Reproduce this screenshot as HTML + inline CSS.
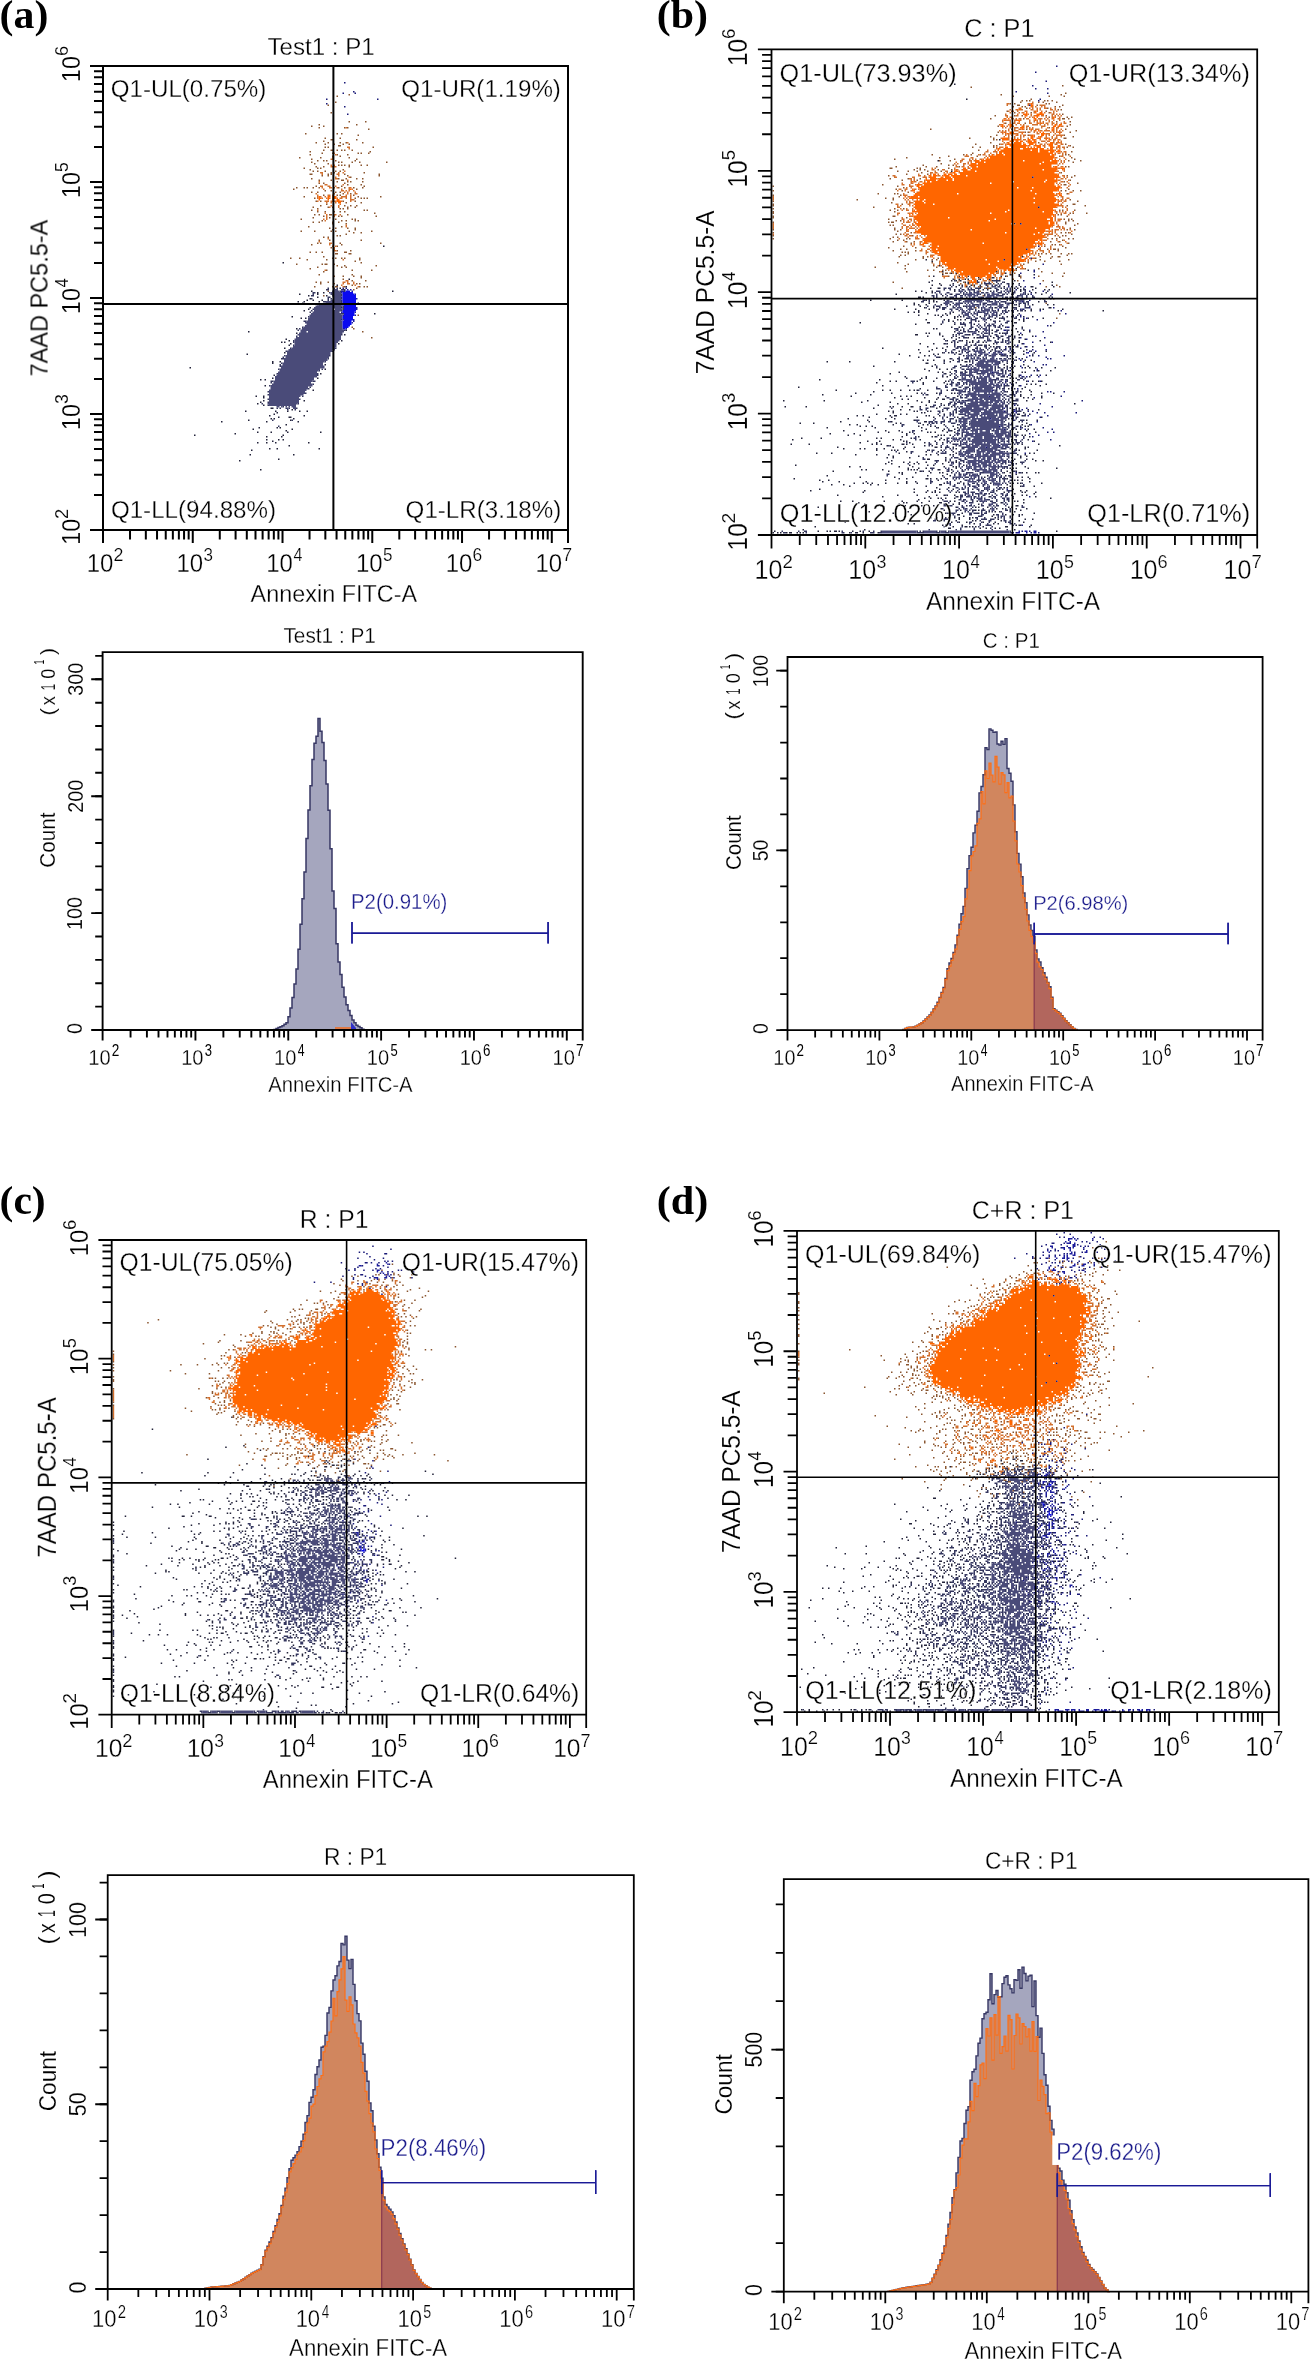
<!DOCTYPE html><html><head><meta charset="utf-8"><style>html,body{margin:0;padding:0;background:#fff;}svg{display:block}</style></head><body>
<svg width="1314" height="2361" viewBox="0 0 1314 2361">
<rect width="1314" height="2361" fill="#fff"/>
<g transform="translate(104.00 67.00) scale(1.5) translate(0 .5)" fill="none" stroke-width="1"><path d="M163 18h1m-9 1h1m-2 4h1m-6 2h1m1 5h1m11 6h1m10 0h1m-32 2h1m24 0h1m-31 1h1m7 0h1m-4 1h1m16 0h1m1 0h1m13 1h1m-43 3h1m20 0h1m2 0h1m10 1h1m-23 2h1m9 0h1m-7 1h2m15 0h1m-23 1h1m-6 1h1m7 0h1m7 0h1m3 0h1m10 0h1m-26 1h1m5 0h1m5 0h1m3 0h1m-8 1h2m-11 1h1m1 0h1m29 0h1m-34 2h1m4 0h2m2 0h1m2 0h1m1 0h1m4 0h1m-29 1h1m39 0h1m-33 1h1m6 0h1m16 0h1m1 0h1m4 0h1m-40 1h1m17 0h1m6 0h1m-11 1h1m4 0h1m-28 1h1m13 0h1m18 0h1m-26 1h1m29 0h1m-27 1h1m3 0h1m1 0h1m5 0h1m12 0h1m-30 1h1m17 0h1m1 0h1m6 0h1m4 0h1m17 0h1m-49 1h1m8 0h1m6 1h1m1 0h1m1 0h1m2 0h1m7 0h1m3 0h1m-35 1h1m4 0h1m16 0h1m-31 1h1m8 0h1m1 0h1m-8 1h1m21 0h1m-21 1h1m2 0h1m4 0h1m6 0h1m2 0h1m-7 1h1m1 0h1m19 0h1m-37 1h2m10 0h1m1 0h1m8 0h1m22 0h1m-39 1h1m3 0h1m12 0h1m20 0h1m-20 1h1m-27 1h1m17 0h1m4 0h1m6 0h1m3 0h1m-30 1h1m7 0h1m6 0h2m-5 1h1m6 0h1m1 0h1m7 0h1m-30 1h1m2 0h1m13 0h1m1 1h1m8 0h1m-31 1h1m16 0h1m14 0h1m-46 1h1m4 0h1m1 0h1m3 0h1m3 0h1m9 0h1m2 0h1m3 0h1m5 0h1m5 0h1m-47 1h1m41 0h1m-22 1h1m3 0h1m-14 1h1m3 0h1m11 0h1m2 0h1m1 1h1m4 0h1m-19 1h1m8 0h1m1 0h1m8 0h1m-34 1h1m35 0h1m14 0h1m-45 1h1m26 0h1m3 0h1m1 0h1m1 0h1m-35 2h1m2 0h1m14 0h1m7 0h1m-7 1h1m9 0h1m-24 1h1m-5 1h1m15 0h1m3 0h1m3 0h1m-30 1h1m9 0h1m2 0h1m9 0h1m4 0h1m-26 1h1m14 0h1m1 0h1m2 0h1m-25 1h1m34 0h1m1 0h1m-34 1h1m4 0h1m5 0h1m3 0h1m2 0h1m19 1h1m-41 1h1m2 0h1m6 0h2m10 0h1m-17 1h1m9 0h1m1 0h1m22 0h1m-43 1h1m10 0h1m-20 1h1m22 0h1m10 0h1m1 0h1m-23 1h1m12 0h1m2 0h1m5 0h1m1 0h1m-31 1h1m3 0h1m8 0h1m3 0h1m-5 1h1m8 0h1m-26 2h1m21 0h1m-9 1h1m3 0h1m7 0h1m4 0h1m-16 1h1m14 0h1m-37 1h1m8 0h1m10 0h1m2 0h1m8 0h1m14 0h1m-13 1h1m4 0h1m-11 1h1m-7 1h1m1 0h1m-12 1h1m2 0h1m-7 2h1m6 0h1m20 0h1m-30 2h1m1 0h1m12 0h1m26 0h1m-47 1h1m19 0h1m-4 1h1m-5 1h1m3 2h1m8 0h1m-28 1h1m3 0h1m3 0h1m14 0h2m-8 1h2m7 0h2m-19 2h1m-23 1h1m5 0h1m21 0h1m1 0h1m3 0h1m1 0h1m9 0h1m-36 1h1m12 0h1m21 0h1m-4 1h1m3 1h1m-44 1h1m16 0h1m1 0h2m4 0h1m1 1h1m4 0h1m20 0h1m-40 1h1m15 0h1m2 0h1m-25 1h1m10 1h1m16 0h1m12 0h1m-33 1h1m-4 2h1m21 0h1m-13 1h1m5 0h1m6 0h1m4 0h1m-1 1h1m-13 1h1m5 1h1m8 0h1m-34 1h1m2 0h1m4 0h1m-6 1h1m8 0h1m14 0h1m1 0h1m-6 1h1m-26 1h1m11 0h1m1 0h2m4 0h1m9 0h1m2 0h1m1 0h1m-8 1h1m-3 1h1m-18 1h1m-4 3h1m22 13h1m-5 8h1m0 1h1m5 2h1m5 4h1" stroke="#8a5630"/>
<path d="M161 40h1m0 10h1m-1 3h2m-1 1h1m-11 3h1m0 1h1m-3 2h1m-2 1h2m-2 4h1m1 0h1m-3 1h4m5 3h1m-17 1h2m10 0h1m2 0h1m-15 1h1m9 0h2m-1 1h1m-3 1h1m8 0h1m-10 1h2m6 1h1m-20 1h1m3 2h2m10 0h1m-16 1h2m3 0h2m3 0h1m-10 1h1m4 0h2m3 0h1m7 0h2m-19 1h1m11 0h1m4 0h1m1 0h1m-8 1h2m1 0h1m1 0h1m2 0h1m-7 1h1m1 0h1m4 0h1m-27 1h1m11 0h1m8 0h1m4 0h2m-27 1h1m6 0h2m1 0h1m8 0h1m2 0h1m-23 1h1m1 0h1m2 0h1m4 0h1m5 0h4m2 0h1m-23 1h1m2 0h1m2 0h1m1 0h1m1 0h1m2 0h1m1 0h2m2 0h1m2 0h1m-1 1h3m-25 1h1m4 0h3m1 0h4m3 0h1m5 0h1m-17 1h1m2 0h1m2 0h1m2 1h1m-7 1h1m4 0h1m-7 1h1m5 0h1m-15 2h1m4 2h1m0 1h1m4 0h2m2 0h1m-10 1h1m4 0h1m-6 1h1m-3 1h1m1 0h1m-2 1h1m13 3h1m-1 1h1m-13 8h1m-7 2h1m6 1h2m-2 1h1m1 1h1m1 0h1m-2 1h1m-1 1h1m-1 1h2m4 6h1m-13 7h1m13 7h2m-4 1h2m1 0h1m3 0h1m-8 1h1m2 0h2m2 0h1m-9 1h1m8 0h1m-9 1h1m9 0h1" stroke="#d2702e"/>
<path d="M164 81h1m-22 5h1m5 0h2m2 0h2m-12 1h2m4 0h1m3 0h2m-12 1h1m5 0h1m2 0h1m2 0h2m-2 1h3m-2 1h2" stroke="#ff6600"/>
<path d="M186 119h1m-68 11h1m43 11h1m-9 4h1m5 1h1m-5 1h1m-20 2h1m53 0h1m-51 1h1m3 0h1m-17 1h1m11 0h1m-7 1h1m11 0h1m-7 1h1m-6 1h1m-3 1h1m3 0h1m5 0h1m-17 1h1m3 0h1m9 0h1m-12 1h1m4 3h1m-2 1h1m-4 1h1m46 2h1m-56 2h1m5 1h1m2 0h1m-7 7h1m32 1h1m-66 1h1m31 1h1m31 1h1m-40 3h1m1 1h1m34 0h1m-41 1h1m1 0h1m3 1h1m31 0h1m-34 1h1m-4 2h1m-1 3h1m-26 1h1m16 5h1m4 0h1m-6 1h1m34 1h1m-91 2h1m89 1h1m-4 3h1m-32 1h1m-2 2h1m29 0h1m-39 1h1m2 0h1m-1 4h1m31 3h1m-39 4h1m4 0h1m-1 1h1m-1 2h1m26 0h1m-30 1h1m-3 1h1m3 1h1m4 2h2m12 1h1m-32 1h1m19 0h1m7 0h1m7 0h1m4 0h1m-21 1h1m-3 1h1m-4 1h1m22 0h1m-18 1h1m6 0h2m-14 1h1m1 0h1m12 0h1m-31 1h1m27 0h1m-47 1h1m29 0h1m20 0h1m-9 2h1m-19 2h1m11 0h1m1 0h1m-19 1h1m25 0h1m-5 1h1m-20 1h1m8 0h1m10 0h1m21 0h1m-58 1h1m-28 1h1m58 0h1m-12 1h1m9 0h1m-11 2h1m7 0h1m2 0h1m-8 1h1m-11 1h1m5 0h1m5 0h1m21 0h1m-14 2h1m-14 2h1m4 0h1m27 0h1m-46 1h1m-2 3h1m28 0h1m-11 3h1m-27 1h1m13 6h1m-45 21h1" stroke="#23233a"/>
<path d="M149 147h1m3 0h1m1 0h1m-8 1h2m8 0h3m-4 1h1m2 0h1m-22 1h2m9 0h1m-12 1h1m18 0h1m-21 1h2m18 0h1m-10 1h2m-13 1h1m10 0h1m1 0h1m6 0h1m-10 1h1m-4 1h2m10 0h1m-1 1h1m-17 1h1m16 1h1m-1 1h1m-21 1h1m19 0h1m-22 1h1m19 0h1m-22 1h1m20 1h2m-24 2h1m22 2h1m-27 1h2m-3 4h1m-3 1h1m-2 1h1m30 0h1m-3 3h1m-31 1h1m-3 3h1m-1 1h1m-1 2h1m-3 2h1m29 0h1m-34 2h1m30 0h1m-33 3h1m29 0h1m-32 1h1m-2 1h2m29 0h1m-3 2h1m-30 1h1m-2 1h1m-1 1h1m-2 2h1m28 0h1m-3 1h1m-29 2h1m26 0h1m-1 1h1m-32 4h2m26 0h2m-30 1h1m27 1h1m-30 1h1m26 1h1m-2 1h1m-28 2h1m24 1h1m-26 1h1m22 1h1m-24 2h1m20 0h1m-22 2h1m-5 1h1m23 0h1m-21 1h1m9 1h1m-5 1h1m1 0h1m3 0h1m1 0h1m4 0h1m-7 1h1m4 0h1m-16 7h1m12 0h1m-10 4h1" stroke="#34365e"/>
<path d="M153 148h3m-4 1h5m-6 1h7m-7 1h7m-6 1h6m-5 1h5m-5 1h5m-7 1h7m-10 1h10m-11 1h11m-15 1h15m-17 1h18m-19 1h18m-18 1h13m1 0h5m-19 1h18m-19 1h18m-19 1h20m-21 1h22m-22 1h22m-23 1h23m-23 1h22m-23 1h24m-25 1h25m-24 1h24m-25 1h25m-26 1h26m-27 1h27m-28 1h29m-29 1h4m1 0h24m-30 1h29m-30 1h29m-28 1h28m-30 1h30m-31 1h31m-31 1h30m-30 1h29m-29 1h28m-28 1h28m-29 1h29m-30 1h29m-31 1h31m-32 1h30m-30 1h29m-29 1h29m-30 1h29m-29 1h29m-30 1h29m-29 1h29m-29 1h27m-28 1h27m-27 1h27m-28 1h29m-29 1h29m-30 1h27m-27 1h26m-27 1h26m-26 1h26m-27 1h27m-28 1h28m-28 1h26m-26 1h26m-27 1h26m-26 1h25m-26 1h27m-28 1h28m-28 1h25m-25 1h25m-26 1h25m-25 1h24m-24 1h24m-24 1h23m-23 1h21m-21 1h20m-20 1h20m-20 1h20m-20 1h20m-21 1h20m-19 1h18m-13 1h2m1 0h1m2 0h1m1 0h1m1 0h3m-6 1h1m3 0h2" stroke="#4a4b79"/>
<path d="M160 10h1m5 6h1m-8 1h1m7 0h1m-20 4h1m33 0h1m-35 3h1m11 2h1m1 5h1m-4 116h1m1 0h1m7 10h1m-12 3h1" stroke="#1a1a78"/>
<path d="M162 148h1m1 0h1m-7 1h2m5 0h1m-8 1h1m8 1h1m-10 2h1m9 1h1m-11 1h1m-1 3h1m9 2h1m-1 1h1m-11 2h1m8 0h1m-9 2h1m7 0h1m-10 3h1m7 0h1m-1 1h1m-2 1h1m-7 4h1m1 0h1" stroke="#1c1c9c"/>
<path d="M161 149h3m-5 1h7m-7 1h8m-8 1h9m-9 1h9m-9 1h9m-9 1h9m-9 1h9m-9 1h9m-9 1h9m-8 1h8m-8 1h8m-8 1h8m-9 1h9m-9 1h8m-7 1h7m-7 1h7m-8 1h7m-7 1h7m-6 1h6m-7 1h6m-6 1h6m-6 1h6m-6 1h5m-5 1h4m-3 1h1" stroke="#0a0af0"/></g>
<path d="M274.0 1030.0V1029.5H276.0V1028.5H278.0V1027.5H280.0V1026.7H282.0V1025.8H284.0V1024.3H286.0V1022.7H288.0V1016.7H290.0V1008.0H292.0V997.6H294.0V984.0H296.0V969.0H298.0V949.3H300.0V924.2H302.0V898.7H304.0V872.0H306.0V838.5H308.0V810.1H310.0V785.8H312.0V759.5H314.0V743.2H316.0V736.3H318.0V718.6H320.0V731.3H322.0V742.4H324.0V760.6H326.0V783.9H328.0V810.3H330.0V848.8H332.0V890.9H334.0V908.5H336.0V943.8H338.0V962.0H340.0V974.6H342.0V987.2H344.0V997.0H346.0V1004.7H348.0V1010.4H350.0V1015.5H352.0V1020.0H354.0V1022.8H356.0V1025.2H358.0V1026.4H360.0V1027.7H362.0V1029.2H364.0V1030.0Z" fill="#a5a6be"/>
<path d="M274.0 1030.0V1029.5H276.0V1028.5H278.0V1027.5H280.0V1026.7H282.0V1025.8H284.0V1024.3H286.0V1022.7H288.0V1016.7H290.0V1008.0H292.0V997.6H294.0V984.0H296.0V969.0H298.0V949.3H300.0V924.2H302.0V898.7H304.0V872.0H306.0V838.5H308.0V810.1H310.0V785.8H312.0V759.5H314.0V743.2H316.0V736.3H318.0V718.6H320.0V731.3H322.0V742.4H324.0V760.6H326.0V783.9H328.0V810.3H330.0V848.8H332.0V890.9H334.0V908.5H336.0V943.8H338.0V962.0H340.0V974.6H342.0V987.2H344.0V997.0H346.0V1004.7H348.0V1010.4H350.0V1015.5H352.0V1020.0H354.0V1022.8H356.0V1025.2H358.0V1026.4H360.0V1027.7H362.0V1029.2H364.0V1030.0" fill="none" stroke="#373764" stroke-width="1.5"/>
<path d="M335 1030.0V1027.0H351V1030.0Z" fill="#e07a45"/>
<path d="M351 1030.0V1022.0L356 1028.0V1030.0Z" fill="#3030c8"/>
<g transform="translate(772.50 50.40) scale(1.5) translate(0 .5)" fill="none" stroke-width="1"><path d="M121 22h1m7 10h1m21 27h1m-42 14h1m8 7h1m41 35h1m4 22h1m-65 2h1m3 1h1m4 3h1m50 2h1m7 1h1m-58 1h1m35 0h1m-31 1h1m2 0h1m32 0h1m-43 1h1m44 0h1m5 0h1m9 0h1m-68 1h1m16 0h1m5 0h1m21 0h1m2 0h1m8 0h1m-28 1h1m8 0h2m-24 1h1m3 0h1m1 0h1m7 0h1m5 0h1m9 0h1m-49 1h1m12 0h1m2 0h1m2 0h1m20 0h1m4 0h1m9 0h1m-58 1h1m23 0h1m1 0h1m23 0h1m31 0h1m-76 1h1m8 0h1m9 0h1m29 0h1m3 0h1m-59 1h1m5 0h1m5 0h1m5 0h1m1 0h1m5 0h1m1 0h1m3 0h1m47 0h1m-65 1h1m6 0h1m24 0h1m4 0h1m5 0h1m6 0h2m13 0h1m-83 1h1m4 0h2m33 0h1m6 0h1m8 0h1m1 0h1m11 0h1m-55 1h1m18 0h1m2 0h1m21 0h1m7 0h1m7 0h1m2 0h1m-90 1h1m3 0h1m6 0h1m14 0h1m23 0h1m19 0h1m-64 1h1m3 0h1m65 0h1m2 0h1m6 0h1m15 0h1m-117 1h1m36 0h1m50 0h1m8 0h1m-67 1h1m-17 1h2m1 0h1m14 0h1m-12 1h1m7 0h1m65 0h1m1 0h1m-116 1h1m20 0h1m15 0h1m4 0h1m6 0h1m43 0h1m-52 1h1m1 0h1m67 0h1m-84 1h1m9 0h1m-11 1h1m2 0h1m4 0h1m9 0h1m5 0h1m43 0h1m10 0h1m9 0h1m3 0h1m-99 1h1m8 0h1m28 0h1m36 0h1m-64 1h1m5 0h1m40 0h1m35 0h2m-105 1h1m13 0h1m8 0h1m67 0h1m5 0h1m1 0h1m12 0h1m-97 1h1m52 0h1m6 0h1m5 0h1m4 0h1m3 0h1m17 0h1m29 0h1m-131 1h1m3 0h1m2 0h1m22 0h1m-18 1h1m11 0h1m2 0h1m45 0h1m-68 1h1m10 0h1m1 0h1m2 0h1m2 0h1m34 0h1m-40 1h1m8 0h1m1 0h1m1 0h1m12 0h1m17 0h1m10 0h1m5 0h1m-53 1h1m26 0h1m2 0h1m18 0h1m9 0h1m-79 1h1m11 0h1m2 0h1m5 0h1m1 0h1m2 0h1m16 0h1m18 0h1m2 0h1m-51 1h1m2 0h1m16 0h1m13 0h1m7 0h1m7 0h1m-110 1h1m44 0h2m56 0h2m-68 1h1m16 0h1m8 0h1m12 0h1m18 1h1m6 0h1m24 0h1m-67 1h1m4 0h1m1 0h1m28 0h1m10 0h1m-60 1h1m1 0h1m42 0h1m9 0h1m-38 1h1m20 0h1m12 0h1m7 0h1m-47 1h1m15 0h1m25 0h1m7 0h1m-70 1h1m1 0h1m6 0h1m34 0h1m4 0h1m1 0h1m-59 1h2m14 0h1m8 0h1m10 0h1m27 0h1m4 0h1m1 0h1m-64 1h1m9 0h1m8 0h1m22 0h1m7 0h1m7 0h1m11 0h1m-55 1h1m4 0h1m5 0h1m3 0h1m1 0h1m10 0h1m16 0h1m-51 1h1m7 0h1m30 0h1m6 0h1m7 0h1m-53 1h1m9 0h1m2 0h1m3 0h1m30 0h1m13 0h1m-60 1h1m3 0h1m7 0h1m1 0h1m6 0h1m23 0h1m20 0h1m-88 1h1m8 0h1m6 0h1m1 0h1m30 0h1m18 0h1m-35 1h1m6 0h1m4 0h1m-42 1h1m12 0h1m30 0h1m9 0h2m1 0h1m2 0h1m4 0h1m4 0h1m-101 1h1m35 0h1m3 0h1m41 0h1m-59 1h1m8 0h1m8 0h1m30 0h1m22 0h1m-66 1h1m19 0h1m20 0h1m21 0h1m4 0h1m9 0h1m-85 1h1m14 0h1m3 0h1m4 0h1m51 0h1m-91 1h1m22 0h1m2 0h1m13 0h1m42 0h1m-77 1h1m9 0h1m2 0h1m22 0h1m30 0h1m14 0h1m-77 1h1m13 0h1m50 0h1m-45 1h1m39 0h1m1 0h1m5 0h1m-67 1h1m2 0h1m3 0h1m6 0h1m5 0h1m5 0h1m35 0h1m5 0h1m3 0h1m-137 1h1m14 0h1m29 0h1m36 0h1m9 0h2m1 0h1m-30 1h2m10 0h1m41 0h1m-49 1h1m16 0h1m28 0h1m4 0h1m7 0h1m-101 1h1m38 0h1m49 0h1m4 0h1m8 0h1m-62 1h1m44 0h1m3 0h1m9 0h1m2 0h1m3 0h1m3 0h1m8 0h1m-88 1h1m9 0h1m4 0h1m2 0h1m-16 1h1m52 0h1m16 0h1m2 0h1m7 0h1m-102 1h1m25 0h1m2 0h1m4 0h1m41 0h1m5 0h1m1 0h1m-91 1h1m36 0h1m42 0h1m-41 1h1m45 0h1m11 0h1m5 0h1m-95 1h1m13 0h1m10 0h1m2 0h1m39 0h1m14 0h1m-83 1h1m9 0h1m2 0h1m6 0h1m48 0h1m1 0h1m1 0h1m-132 1h1m39 0h1m26 0h1m25 0h1m-47 1h1m3 0h1m13 0h1m10 0h1m7 0h1m1 0h1m42 0h1m8 0h1m3 0h1m3 0h1m1 0h1m-111 1h1m30 0h1m13 0h1m43 0h1m3 0h1m-63 1h1m15 0h1m43 0h1m8 0h1m2 0h1m2 0h1m6 0h1m-110 1h1m16 0h1m69 0h1m3 0h1m13 0h1m-162 1h1m150 0h1m-71 1h1m58 0h1m1 0h1m1 0h1m4 0h1m-125 1h1m30 0h1m4 0h1m6 0h1m5 0h1m2 0h1m1 0h1m6 0h1m12 0h1m54 0h1m-105 1h1m88 0h1m8 0h1m6 0h1m-118 1h1m23 0h1m16 0h1m2 0h1m9 0h1m9 0h1m1 0h1m57 0h1m7 0h1m-155 1h1m31 0h1m37 0h1m61 0h1m6 0h1m-121 1h1m32 0h1m3 0h1m2 0h1m22 0h1m7 0h1m41 0h1m13 0h1m-99 1h1m19 0h1m8 0h1m48 0h1m7 0h1m2 0h1m8 0h1m-94 1h1m3 0h1m18 0h1m3 0h2m58 0h1m-167 1h1m26 0h1m28 0h1m32 0h1m7 0h1m55 0h1m8 0h1m-111 1h1m18 0h1m20 0h1m4 0h1m3 0h1m-26 1h1m6 0h1m21 0h1m47 0h1m40 0h1m-132 1h1m31 0h1m11 0h1m48 0h1m-156 1h1m13 0h1m55 0h1m1 0h1m5 0h1m5 0h2m4 0h1m6 0h1m5 0h1m7 0h1m-53 1h1m41 0h1m48 0h1m3 0h1m1 0h1m-80 1h1m5 0h1m68 0h1m9 0h1m6 0h1m-101 1h1m2 0h1m13 0h1m1 0h1m6 0h1m1 0h1m7 0h1m-34 1h1m18 0h1m1 0h1m20 0h1m44 0h1m-99 1h1m15 0h1m3 0h1m24 0h1m48 0h2m6 0h1m-116 1h1m3 0h1m17 0h1m2 0h2m19 0h1m1 0h1m6 0h1m54 0h1m-103 1h1m14 0h1m16 0h1m10 0h1m8 0h1m6 0h1m55 0h1m-130 1h1m24 0h1m5 0h1m75 0h1m-95 1h1m30 0h1m27 0h1m46 0h1m6 0h1m-132 1h1m18 0h1m12 0h1m1 0h1m21 0h2m61 0h1m-147 1h1m8 0h1m54 0h1m2 0h1m12 0h1m70 0h1m-119 1h1m4 0h1m23 0h1m19 0h1m2 0h1m10 0h1m8 0h1m42 0h1m4 0h1m-114 1h1m3 0h1m3 0h1m30 0h1m7 0h1m2 0h1m11 0h1m42 0h1m4 0h1m1 0h1m-135 1h1m31 0h1m30 0h1m10 0h1m12 0h1m-22 1h1m11 0h1m6 0h1m40 0h1m2 0h1m4 0h1m3 0h1m-128 1h1m13 0h1m13 0h1m8 0h1m14 0h1m13 0h1m5 0h1m49 0h1m-100 1h1m6 0h1m8 0h1m4 0h1m11 0h1m1 0h1m2 0h1m7 0h1m4 0h1m41 0h1m11 0h1m-138 1h1m15 0h1m34 0h1m4 0h1m-45 1h1m7 0h1m30 0h1m20 0h1m1 0h1m1 0h1m3 0h1m47 0h1m1 0h1m-83 1h1m10 0h1m8 0h1m1 0h1m62 0h1m-153 1h1m12 0h1m36 0h1m2 0h1m19 0h1m19 0h1m-100 1h1m66 0h1m4 0h1m12 0h1m12 0h1m2 0h1m44 0h1m10 0h1m-108 1h1m7 0h1m15 0h1m1 0h1m18 0h1m65 0h1m-117 1h1m10 0h1m21 0h1m9 0h1m11 0h1m-102 1h1m11 0h1m41 0h1m2 0h1m2 0h1m13 0h2m1 0h1m3 0h1m15 0h1m10 0h1m45 0h1m10 0h1m-102 1h1m1 0h1m22 0h1m4 0h1m84 0h1m-149 1h1m36 0h1m7 0h1m5 0h1m13 0h2m2 0h1m7 0h1m38 0h1m8 0h1m1 0h1m-124 1h1m10 0h1m2 0h1m7 0h1m4 0h1m12 0h1m34 0h1m45 0h1m-100 1h1m9 0h1m1 0h1m1 0h1m20 0h1m7 0h1m51 0h1m11 0h1m-88 1h1m12 0h1m7 0h1m9 0h1m-92 1h1m9 0h1m44 0h1m37 0h1m48 0h1m2 0h1m-120 1h1m13 0h1m7 0h1m24 0h1m2 0h1m4 0h1m7 0h1m1 0h1m42 0h1m4 0h1m-89 1h1m16 0h1m67 0h1m3 0h1m-94 1h1m3 0h1m10 0h1m23 0h1m43 0h1m5 0h1m-63 1h2m56 0h1m7 0h1m3 0h1m-95 1h1m35 0h1m6 0h1m52 0h1m4 0h1m-104 1h1m9 0h1m3 0h1m4 0h1m5 0h1m14 0h1m4 0h1m-48 1h1m3 0h1m14 0h1m2 0h1m15 0h1m48 0h1m-148 1h1m75 0h1m11 0h1m3 0h1m19 0h1m-77 1h1m6 0h1m25 0h1m8 0h1m20 0h1m5 0h1m1 0h1m45 0h1m-79 1h1m6 0h1m4 0h1m19 0h1m35 0h1m1 0h1m1 0h1m7 0h1m18 0h1m-131 1h1m2 0h1m10 0h1m16 0h1m1 0h1m1 0h1m1 0h1m13 0h2m7 0h1m-80 1h1m36 0h1m20 0h1m1 0h1m3 0h1m51 0h1m5 0h1m-79 1h1m1 0h1m8 0h1m9 0h1m5 0h1m1 0h1m5 0h1m34 0h1m3 0h1m5 0h1m1 0h1m2 0h1m5 0h1m1 0h1m-92 1h1m29 0h1m45 0h1m-127 1h1m66 0h1m9 0h1m4 0h1m24 0h1m11 0h1m-98 1h1m22 0h1m11 0h1m47 0h1m21 0h1m2 0h1m3 0h1m-157 1h1m69 0h1m4 0h1m12 0h2m1 0h1m3 0h1m2 0h1m3 0h1m39 0h1m14 0h1m-141 1h1m5 0h1m37 0h1m34 0h1m48 0h1m1 0h1m1 0h1m2 0h1m-134 1h1m10 0h1m17 0h1m26 0h1m5 0h1m29 0h1m45 0h1m-118 1h1m5 0h1m2 0h1m2 0h1m8 0h1m7 0h1m5 0h1m6 0h1m17 0h1m8 0h1m3 0h1m17 0h1m12 0h1m1 0h1m2 0h1m1 0h1m13 0h1m-141 1h1m7 0h1m17 0h1m4 0h1m40 0h2m43 0h1m-106 1h1m50 0h1m55 0h1m6 0h1m8 0h1m-66 1h1m7 0h1m36 0h1m1 0h1m-126 1h1m62 0h1m16 0h1m8 0h1m12 0h1m26 0h1m-136 1h1m35 0h1m41 0h1m4 0h1m40 0h1m15 0h1m3 0h1m-110 1h1m33 0h1m7 0h1m3 0h1m1 0h1m2 0h1m10 0h1m1 0h1m29 0h1m11 0h1m1 0h1m6 0h1m-32 1h1m16 0h1m12 0h1m-132 1h1m39 0h1m12 0h1m12 0h1m4 0h1m1 0h1m4 0h1m37 0h1m6 0h1m2 0h1m-97 1h1m30 0h1m18 0h1m20 0h1m30 0h1m-75 1h1m3 0h1m4 0h1m1 0h1m2 0h1m5 0h1m38 0h1m24 0h1m-89 1h1m69 0h1m-123 1h1m7 0h1m20 0h1m11 0h1m9 0h1m7 0h1m13 0h1m2 0h1m14 0h1m24 0h1m1 0h1m-107 1h1m29 0h1m1 0h1m9 0h1m11 0h2m11 0h1m27 0h1m14 0h1m-107 1h1m22 0h1m35 0h1m3 0h1m12 0h1m-66 1h1m15 0h1m10 0h1m7 0h1m9 0h1m11 0h1m32 0h2m-134 1h1m43 0h1m47 0h1m12 0h1m1 0h1m5 0h1m13 0h1m1 0h1m-48 1h1m36 0h1m3 0h1m8 0h1m6 0h1m-108 1h1m51 0h1m10 0h1m9 0h1m1 0h1m27 0h1m-102 1h1m25 0h1m53 0h1m3 0h1m2 0h1m6 0h1m2 0h1m-82 1h1m23 0h1m10 0h1m1 0h1m8 0h1m10 0h1m36 0h1m-83 1h1m30 0h2m22 0h1m7 0h1m4 0h1m3 0h1m1 0h1m-40 1h1m18 0h1m11 0h1m5 0h1m-60 1h1m3 0h1m7 0h1m3 0h1m2 0h1m6 0h1m1 0h1m14 0h1m-25 1h1m6 0h1m18 0h1m17 0h1m4 0h1m-52 1h1m10 0h1m1 0h1m16 0h1m11 0h1m-117 1h1m70 0h1m4 0h1m4 0h1m10 0h1m7 0h1m18 0h1m-78 1h1m3 0h1m39 0h1m12 0h1m2 0h1m-38 1h1m12 0h1m35 0h1m1 0h2m6 0h1m-145 1h1m91 0h1m7 0h2m1 0h1m1 0h1m1 0h1m4 0h1m14 0h2m14 0h1m-55 1h2m19 0h1m3 0h1m5 0h1m2 0h1m-132 1h1m40 0h1m99 0h1m-161 1h1m28 0h1m5 0h1m1 0h1m2 0h2m1 0h1m8 0h1m4 0h1m5 0h1m124 0h1m-190 1h1m2 0h1m1 0h1m3 0h1m1 0h2m3 0h1m1 0h1m1 0h1m30 0h1m3 0h2m3 0h1m9 0h1" stroke="#23233a"/>
<path d="M120 152h1m0 1h1m14 0h1m10 0h4m-15 1h2m3 0h1m2 0h1m4 0h1m3 0h1m-13 1h5m4 0h1m1 0h1m3 0h2m-38 1h1m21 0h1m3 0h1m1 0h2m1 0h1m5 0h1m6 0h1m-46 1h1m6 0h1m4 0h1m6 0h1m4 0h1m2 0h1m3 0h2m10 0h1m-49 1h2m1 0h2m6 0h1m4 0h1m1 0h1m2 0h4m3 0h1m5 0h1m5 0h1m1 0h1m1 0h1m8 0h1m-54 1h1m3 0h1m5 0h1m1 0h2m2 0h1m1 0h3m14 0h2m5 0h1m1 0h1m8 0h2m-60 1h3m12 0h1m3 0h1m5 0h1m2 0h1m9 0h1m1 0h1m2 0h1m1 0h1m3 0h1m2 0h1m6 0h1m14 0h1m-76 1h1m2 0h1m4 0h2m7 0h1m1 0h1m1 0h1m4 0h1m4 0h2m1 0h2m6 0h3m2 0h1m1 0h1m2 0h2m6 0h1m-60 1h1m2 0h1m2 0h1m2 0h1m3 0h3m2 0h1m10 0h1m2 0h1m11 0h2m1 0h1m2 0h2m4 0h1m2 0h1m-63 1h2m1 0h1m6 0h1m4 0h2m2 0h2m1 0h1m7 0h1m4 0h1m9 0h3m9 0h2m4 0h1m3 0h1m11 0h1m-79 1h1m1 0h1m8 0h3m1 0h1m6 0h1m9 0h2m8 0h1m5 0h2m1 0h3m1 0h2m5 0h1m3 0h2m9 0h1m1 0h1m-77 1h2m6 0h1m1 0h1m2 0h1m3 0h2m17 0h2m2 0h5m1 0h1m1 0h1m1 0h1m7 0h2m15 0h1m-86 1h2m2 0h1m11 0h1m4 0h2m1 0h2m14 0h1m1 0h1m5 0h1m7 0h1m4 0h2m18 0h1m-83 1h2m3 0h1m13 0h2m7 0h1m6 0h1m1 0h1m7 0h3m3 0h1m1 0h4m4 0h1m1 0h1m4 0h1m1 0h2m10 0h2m-69 1h1m5 0h1m1 0h1m2 0h2m1 0h1m11 0h3m8 0h1m3 0h1m1 0h4m3 0h2m1 0h2m1 0h1m-63 1h1m26 0h2m1 0h1m1 0h1m2 0h3m3 0h1m3 0h1m7 0h1m2 0h1m3 0h1m1 0h1m-68 1h1m3 0h1m1 0h3m4 0h1m3 0h1m7 0h2m12 0h1m13 0h1m11 0h1m2 0h1m-70 1h1m8 0h1m1 0h3m4 0h2m3 0h1m3 0h1m4 0h1m2 0h1m1 0h1m4 0h1m1 0h1m2 0h1m1 0h2m1 0h3m3 0h3m5 0h3m-62 1h2m2 0h2m3 0h2m2 0h2m2 0h1m6 0h1m1 0h1m3 0h1m6 0h1m15 0h1m3 0h1m-58 1h1m9 0h1m4 0h1m4 0h1m5 0h1m1 0h1m8 0h1m1 0h1m4 0h1m1 0h1m3 0h2m4 0h2m-49 1h1m7 0h1m4 0h1m2 0h1m2 0h3m5 0h1m3 0h1m3 0h1m1 0h2m3 0h1m-35 1h1m5 0h1m1 0h1m1 0h1m6 0h1m5 0h1m2 0h1m1 0h1m-31 1h1m2 0h1m5 0h1m2 0h1m4 0h1m2 0h1m4 0h1m10 0h1m2 0h1m-37 1h1m6 0h1m6 0h1m2 0h1m1 0h1m2 0h1m3 0h1m5 0h2m1 0h1m-34 1h2m1 0h1m2 0h2m2 0h1m3 0h2m7 0h3m6 0h2m-31 1h4m6 0h1m11 0h1m-42 1h1m18 0h1m2 0h1m5 0h1m5 0h2m7 0h2m-45 1h1m7 0h1m3 0h1m1 0h1m3 0h2m9 0h1m5 0h1m6 0h2m-32 1h4m3 0h1m4 0h1m3 0h1m2 0h1m1 0h2m4 0h1m-25 1h1m3 0h1m3 0h1m1 0h1m2 0h1m1 0h3m1 0h2m2 0h1m-20 1h2m3 0h1m1 0h1m2 0h1m1 0h1m3 0h1m1 0h2m-31 1h3m3 0h1m3 0h2m2 0h1m2 0h1m1 0h1m3 0h1m21 0h1m-44 1h1m3 0h1m2 0h1m4 0h2m7 0h1m4 0h2m5 0h2m-31 1h2m1 0h4m6 0h1m3 0h1m3 0h2m6 0h1m-34 1h4m8 0h1m3 0h1m1 0h2m1 0h1m9 0h3m-35 1h1m1 0h1m3 0h3m2 0h1m2 0h2m2 0h1m3 0h1m3 0h2m5 0h1m-36 1h1m5 0h2m10 0h1m1 0h4m5 0h2m1 0h1m4 0h2m-32 1h3m7 0h4m2 0h1m6 0h2m4 0h2m3 0h1m-19 1h1m6 0h1m6 0h1m-43 1h1m4 0h2m2 0h2m11 0h1m3 0h1m1 0h3m2 0h1m4 0h1m1 0h1m1 0h1m-37 1h1m7 0h1m6 0h2m4 0h1m5 0h3m1 0h2m1 0h1m2 0h1m-44 1h1m5 0h1m7 0h1m5 0h1m13 0h1m6 0h2m-37 1h1m6 0h2m4 0h2m1 0h2m2 0h2m18 0h1m-41 1h1m1 0h3m1 0h1m2 0h2m4 0h1m4 0h2m2 0h1m3 0h3m10 0h1m-41 1h2m1 0h1m4 0h1m4 0h2m1 0h1m3 0h1m1 0h1m3 0h2m1 0h1m-32 1h2m4 0h1m3 0h1m2 0h2m5 0h1m2 0h1m4 0h1m3 0h1m1 0h1m3 0h1m-44 1h1m3 0h1m6 0h1m1 0h1m2 0h1m2 0h1m6 0h1m6 0h1m1 0h2m1 0h1m3 0h1m1 0h2m-47 1h1m4 0h2m5 0h1m2 0h2m10 0h1m16 0h1m1 0h2m-41 1h1m3 0h1m6 0h1m1 0h2m7 0h1m5 0h1m1 0h2m1 0h2m4 0h1m12 0h1m-66 1h1m20 0h1m2 0h1m2 0h1m1 0h2m5 0h2m6 0h3m1 0h1m-48 1h2m13 0h1m9 0h1m5 0h1m1 0h1m13 0h1m-38 1h1m3 0h2m3 0h3m1 0h1m1 0h1m3 0h1m3 0h1m6 0h1m1 0h2m1 0h1m2 0h1m-34 1h1m6 0h1m1 0h1m1 0h2m19 0h1m4 0h1m-48 1h1m8 0h2m8 0h1m17 0h1m1 0h1m2 0h1m2 0h2m-28 1h1m17 0h1m8 0h1m-32 1h1m1 0h2m2 0h1m-27 1h1m11 0h2m3 0h4m3 0h1m14 0h1m1 0h1m-31 1h2m3 0h1m22 0h1m1 0h2m4 0h1m3 0h1m-35 1h2m1 0h2m17 0h1m3 0h2m2 0h1m2 0h1m-39 1h2m5 0h1m9 0h1m9 0h1m1 0h1m1 0h2m1 0h1m-34 1h1m2 0h2m1 0h2m4 0h1m18 0h1m1 0h1m-42 1h1m4 0h1m1 0h1m14 0h3m14 0h1m1 0h1m-43 1h1m8 0h1m2 0h1m3 0h2m2 0h1m13 0h1m2 0h1m7 0h1m-38 1h1m1 0h1m7 0h1m2 0h1m1 0h1m10 0h1m4 0h3m4 0h1m4 0h1m2 0h1m-47 1h2m9 0h1m1 0h1m1 0h1m12 0h2m14 0h2m1 0h1m-51 1h1m1 0h1m4 0h1m21 0h2m1 0h1m1 0h2m1 0h2m6 0h2m2 0h1m-76 1h3m24 0h1m6 0h1m21 0h1m7 0h1m-64 1h1m25 0h2m2 0h2m2 0h1m1 0h1m18 0h1m1 0h1m2 0h1m1 0h1m-38 1h2m2 0h1m1 0h1m2 0h1m1 0h1m1 0h1m20 0h1m3 0h1m-42 1h1m3 0h1m2 0h1m3 0h1m4 0h1m20 0h1m1 0h4m-49 1h1m5 0h2m7 0h2m2 0h3m2 0h1m13 0h1m6 0h1m-46 1h3m8 0h3m4 0h1m3 0h1m1 0h1m15 0h1m1 0h1m1 0h2m-58 1h1m14 0h1m6 0h2m1 0h3m6 0h1m1 0h1m13 0h1m1 0h1m9 0h1m3 0h1m-52 1h1m14 0h2m1 0h1m21 0h1m1 0h2m4 0h1m1 0h2m-63 1h1m9 0h2m10 0h1m29 0h1m6 0h1m1 0h1m-63 1h1m1 0h1m8 0h1m14 0h1m1 0h1m25 0h2m2 0h4m-37 1h1m27 0h1m2 0h2m3 0h1m-46 1h2m2 0h2m3 0h2m1 0h2m24 0h1m3 0h1m-41 1h3m1 0h2m29 0h1m1 0h1m1 0h1m4 0h2m-44 1h1m1 0h1m1 0h1m1 0h1m1 0h3m23 0h1m2 0h1m3 0h3m-46 1h2m1 0h1m1 0h2m29 0h1m1 0h1m1 0h1m-42 1h2m2 0h2m2 0h2m1 0h1m1 0h1m26 0h1m3 0h2m-56 1h2m3 0h1m4 0h1m2 0h2m6 0h1m16 0h1m9 0h2m-51 1h2m13 0h1m1 0h1m1 0h2m26 0h1m1 0h2m-78 1h1m18 0h1m3 0h2m10 0h4m4 0h1m1 0h1m28 0h1m2 0h1m-59 1h2m2 0h1m10 0h1m2 0h1m4 0h2m30 0h1m2 0h1m5 0h1m1 0h1m-55 1h2m8 0h1m1 0h1m1 0h1m31 0h1m3 0h1m1 0h4m-55 1h1m6 0h1m1 0h1m18 0h1m19 0h2m-51 1h1m7 0h1m1 0h1m3 0h3m31 0h1m2 0h1m6 0h1m-55 1h1m3 0h1m1 0h1m7 0h1m9 0h1m10 0h1m8 0h1m1 0h2m5 0h2m-56 1h1m7 0h1m4 0h1m33 0h1m1 0h2m-56 1h1m4 0h1m4 0h3m3 0h1m34 0h2m1 0h1m-68 1h3m9 0h1m6 0h1m3 0h1m36 0h1m5 0h1m3 0h3m-90 1h1m17 0h1m7 0h3m1 0h2m2 0h3m2 0h2m3 0h1m1 0h1m6 0h1m22 0h1m11 0h1m-70 1h1m6 0h1m1 0h2m1 0h1m2 0h1m6 0h3m7 0h1m27 0h1m1 0h1m-74 1h2m17 0h1m18 0h1m6 0h1m22 0h2m1 0h1m1 0h1m-74 1h1m28 0h1m9 0h1m3 0h1m27 0h1m4 0h1m2 0h1m-57 1h1m6 0h1m8 0h1m29 0h1m1 0h1m2 0h2m4 0h1m-50 1h1m6 0h1m31 0h1m2 0h2m-68 1h2m22 0h2m4 0h2m7 0h1m13 0h2m10 0h1m-66 1h1m32 0h1m31 0h1m-36 1h2m1 0h1m19 0h1m14 0h1m-41 1h1m1 0h1m2 0h1m1 0h1m32 0h3m-69 1h1m13 0h1m10 0h1m5 0h1m32 0h1m2 0h1m4 0h1m-74 1h2m20 0h2m1 0h1m2 0h1m1 0h2m4 0h2m22 0h1m12 0h1m-73 1h1m20 0h1m11 0h1m21 0h1m6 0h1m3 0h2m3 0h1m-51 1h2m1 0h1m1 0h1m1 0h1m1 0h1m3 0h1m1 0h1m18 0h1m1 0h1m1 0h1m1 0h2m1 0h1m2 0h1m2 0h1m-77 1h1m14 0h1m4 0h1m6 0h1m1 0h1m6 0h1m3 0h1m20 0h1m9 0h1m1 0h3m1 0h1m-63 1h2m7 0h1m7 0h3m1 0h1m1 0h1m3 0h1m20 0h1m4 0h2m2 0h1m1 0h1m-87 1h1m26 0h1m7 0h1m3 0h1m5 0h1m1 0h2m-11 1h3m8 0h3m22 0h1m5 0h1m-43 1h1m2 0h1m1 0h1m5 0h2m25 0h3m2 0h1m3 0h1m-60 1h1m2 0h2m6 0h1m4 0h1m5 0h1m10 0h1m13 0h2m9 0h2m-81 1h1m9 0h2m12 0h1m8 0h1m8 0h1m2 0h1m6 0h1m19 0h1m1 0h1m-65 1h1m16 0h1m2 0h4m42 0h5m-39 1h1m8 0h1m1 0h1m-16 1h1m4 0h1m28 0h1m1 0h2m-58 1h1m18 0h1m1 0h3m4 0h1m28 0h1m-58 1h2m13 0h1m2 0h1m5 0h2m2 0h2m20 0h1m5 0h1m-49 1h3m7 0h1m6 0h3m27 0h1m1 0h1m1 0h2m7 0h1m-60 1h1m9 0h2m3 0h1m2 0h1m1 0h1m25 0h1m1 0h1m7 0h3m-78 1h1m17 0h1m11 0h1m3 0h2m21 0h1m4 0h2m1 0h1m4 0h1m5 0h1m-49 1h2m4 0h1m4 0h1m20 0h1m6 0h2m1 0h1m-37 1h1m1 0h1m2 0h1m20 0h1m1 0h1m1 0h3m-52 1h3m7 0h1m1 0h1m7 0h1m6 0h1m11 0h1m5 0h1m3 0h1m1 0h1m-51 1h1m10 0h1m8 0h1m1 0h1m1 0h1m2 0h1m18 0h1m6 0h1m-61 1h1m16 0h2m2 0h1m2 0h1m2 0h2m7 0h1m16 0h1m7 0h2m-40 1h1m1 0h1m4 0h5m4 0h3m9 0h1m2 0h1m11 0h1m-90 1h2m43 0h1m2 0h2m1 0h1m1 0h1m6 0h1m1 0h1m12 0h1m-76 1h1m44 0h1m9 0h1m5 0h1m11 0h1m2 0h1m4 0h2m-45 1h1m5 0h1m1 0h1m3 0h1m1 0h3m6 0h1m1 0h1m9 0h1m1 0h2m1 0h1m3 0h2m-45 1h1m4 0h1m1 0h1m1 0h1m2 0h1m6 0h1m2 0h1m1 0h1m3 0h1m4 0h1m2 0h1m1 0h3m-51 1h1m15 0h1m6 0h2m6 0h3m5 0h1m6 0h1m2 0h1m3 0h1m-54 1h2m9 0h1m1 0h1m16 0h1m1 0h1m4 0h1m6 0h1m1 0h1m2 0h1m2 0h1m-53 1h1m10 0h1m1 0h1m5 0h1m5 0h1m2 0h2m1 0h1m2 0h1m13 0h1m1 0h1m10 0h1m-49 1h1m2 0h1m5 0h1m2 0h2m4 0h2m2 0h2m1 0h1m3 0h1m4 0h1m14 0h1m-48 1h2m6 0h1m2 0h1m1 0h2m2 0h1m2 0h1m3 0h1m21 0h2m-46 1h2m2 0h1m1 0h1m1 0h1m10 0h1m7 0h1m1 0h2m-37 1h1m7 0h1m1 0h2m2 0h1m5 0h2m3 0h1m2 0h1m2 0h1m2 0h2m1 0h1m-37 1h1m1 0h1m3 0h1m6 0h1m6 0h1m1 0h2m2 0h1m3 0h1m8 0h4m-42 1h1m8 0h2m1 0h1m1 0h3m10 0h3m9 0h1m-30 1h1m1 0h1m2 0h1m1 0h3m1 0h1m1 0h2m5 0h1m3 0h2m2 0h1m-42 1h1m9 0h2m1 0h1m4 0h1m3 0h1m2 0h2m4 0h1m2 0h1m3 0h1m1 0h2m-35 1h1m2 0h2m2 0h2m1 0h1m1 0h2m1 0h1m1 0h1m5 0h1m1 0h2m3 0h1m2 0h1m4 0h1m-36 1h1m6 0h1m1 0h1m1 0h1m2 0h1m1 0h1m4 0h1m1 0h1m4 0h2m1 0h2m-45 1h1m10 0h2m1 0h2m3 0h2m9 0h2m4 0h1m4 0h1m1 0h2m-44 1h3m9 0h2m1 0h1m3 0h1m4 0h1m3 0h1m2 0h2m2 0h1m4 0h1m2 0h1m-41 1h1m10 0h1m2 0h3m6 0h1m6 0h2m4 0h1m1 0h1m-42 1h2m23 0h1m4 0h1m4 0h1m4 0h1m1 0h1m-43 1h2m2 0h2m6 0h1m4 0h2m1 0h1m4 0h2m3 0h1m2 0h1m1 0h2m4 0h1m10 0h1m-44 1h1m2 0h2m5 0h1m14 0h1m17 0h2m-55 1h1m10 0h1m2 0h1m1 0h1m2 0h1m7 0h1m4 0h1m9 0h1m2 0h1m-37 1h2m7 0h1m1 0h2m4 0h3m2 0h1m10 0h2m1 0h1m-37 1h1m5 0h1m1 0h1m2 0h1m5 0h1m2 0h1m3 0h1m5 0h1m-37 1h1m2 0h3m9 0h2m1 0h3m2 0h1m1 0h2m10 0h1m-34 1h1m10 0h2m6 0h2m8 0h2m2 0h1m-33 1h1m15 0h3m10 0h1m1 0h1m1 0h1m-40 1h1m19 0h2m4 0h1m8 0h1m1 0h1m1 0h1m3 0h1m-51 1h1m5 0h3m19 0h1m2 0h4m2 0h3m6 0h1m4 0h1m-53 1h2m5 0h1m23 0h1m5 0h2m8 0h2m2 0h1m-36 1h1m7 0h2m6 0h1m4 0h1m10 0h1m1 0h2m-42 1h2m12 0h1m6 0h1m4 0h1m14 0h2m1 0h1m-47 1h2m1 0h1m19 0h1m3 0h4m14 0h1m-47 1h1m11 0h1m10 0h1m8 0h1m-22 1h1m8 0h1m10 0h1m-42 1h1m17 0h1m2 0h1m8 0h1m11 0h1m9 0h1m-151 1h1m10 0h1m3 0h2m23 0h1m13 0h1m6 0h1m4 0h1m23 0h1m1 0h1m1 0h1m8 0h1m1 0h1m3 0h1m1 0h1m40 0h1m-152 1h2m13 0h1m23 0h2m4 0h1m12 0h3m3 0h2m23 0h5m8 0h3m3 0h3m40 0h2" stroke="#34365e"/>
<path d="M147 157h2m0 1h1m-19 1h1m5 0h1m17 0h1m-31 1h2m4 0h1m4 0h1m19 0h2m-27 1h2m2 0h3m8 0h2m19 0h1m-40 1h7m1 0h2m5 0h2m1 0h5m15 0h2m-38 1h3m1 0h2m7 0h5m1 0h2m14 0h2m-42 1h2m4 0h1m1 0h2m2 0h2m3 0h4m1 0h2m4 0h1m12 0h1m-46 1h1m3 0h2m3 0h10m1 0h2m1 0h2m9 0h1m7 0h1m1 0h3m-51 1h1m10 0h12m3 0h2m6 0h1m11 0h5m-53 1h3m6 0h1m3 0h5m4 0h3m3 0h1m4 0h2m14 0h2m-51 1h3m5 0h2m5 0h1m1 0h2m4 0h1m7 0h4m6 0h1m-42 1h2m4 0h4m4 0h1m1 0h1m1 0h2m2 0h1m3 0h1m4 0h3m2 0h2m3 0h2m-36 1h1m1 0h1m5 0h5m1 0h2m2 0h1m4 0h1m4 0h4m-31 1h2m6 0h2m7 0h2m3 0h1m-21 1h1m4 0h3m8 0h4m10 0h1m5 0h1m-36 1h2m3 0h1m7 0h6m2 0h1m6 0h1m-28 1h2m1 0h1m5 0h1m3 0h2m1 0h1m3 0h2m-21 1h3m4 0h1m5 0h2m3 0h2m-20 1h3m11 0h1m3 0h3m-19 1h2m13 0h1m-15 1h1m8 0h2m-2 1h2m-1 6h2m-21 1h1m18 0h3m-20 1h1m9 0h2m6 0h1m-10 1h2m8 0h1m0 4h1m11 1h1m0 1h1m-31 4h2m-2 1h3m6 0h1m1 0h2m-10 1h1m4 0h5m9 0h1m-15 1h1m1 0h4m6 0h2m1 0h2m-22 1h1m7 0h2m1 0h2m3 0h3m-19 1h2m1 0h1m7 0h2m3 0h3m6 0h1m-27 1h2m1 0h1m3 0h2m8 0h2m-15 1h1m2 0h2m2 0h2m3 0h3m7 0h1m-18 1h4m1 0h7m2 0h4m-19 1h14m-15 1h5m1 0h2m2 0h1m1 0h3m-15 1h10m1 0h4m-21 1h2m4 0h11m-17 1h1m1 0h1m1 0h2m1 0h1m1 0h5m1 0h2m-16 1h7m2 0h1m1 0h5m-16 1h2m1 0h4m1 0h8m-16 1h3m1 0h2m2 0h5m1 0h1m1 0h4m-26 1h4m2 0h2m6 0h3m1 0h5m1 0h4m-27 1h3m2 0h2m5 0h1m1 0h1m2 0h2m1 0h1m4 0h1m1 0h2m-29 1h1m1 0h1m4 0h1m4 0h2m1 0h4m-19 1h3m8 0h6m1 0h2m-20 1h7m1 0h2m1 0h1m1 0h4m1 0h3m2 0h1m-21 1h7m1 0h6m1 0h3m4 0h2m-25 1h1m2 0h13m1 0h2m4 0h1m-29 1h1m8 0h11m1 0h4m1 0h2m-28 1h1m9 0h1m1 0h2m1 0h8m1 0h5m-18 1h13m2 0h3m-24 1h2m4 0h6m1 0h6m-22 1h2m1 0h1m6 0h11m2 0h1m4 0h2m-31 1h3m4 0h1m2 0h13m1 0h2m-26 1h2m4 0h6m1 0h1m3 0h2m1 0h1m1 0h6m-28 1h1m4 0h24m-24 1h2m1 0h4m1 0h7m1 0h3m1 0h3m-19 1h4m1 0h14m-22 1h10m1 0h8m1 0h2m-25 1h1m3 0h3m1 0h2m1 0h3m1 0h2m1 0h8m-28 1h4m3 0h15m1 0h3m1 0h2m-23 1h6m1 0h6m1 0h1m1 0h3m1 0h1m1 0h2m-26 1h16m1 0h8m-25 1h9m2 0h4m2 0h7m-27 1h7m1 0h7m1 0h2m1 0h7m-27 1h18m1 0h5m1 0h3m-28 1h6m1 0h7m2 0h5m1 0h7m1 0h1m-31 1h2m1 0h4m2 0h4m2 0h17m-38 1h1m7 0h2m1 0h8m1 0h9m1 0h1m1 0h3m2 0h2m-29 1h2m1 0h5m2 0h1m1 0h1m1 0h6m2 0h3m1 0h2m-30 1h1m2 0h5m1 0h1m2 0h10m1 0h7m-32 1h7m1 0h12m1 0h5m1 0h4m-32 1h2m1 0h3m2 0h4m1 0h6m1 0h10m-29 1h5m2 0h16m1 0h2m1 0h2m-29 1h1m1 0h2m2 0h20m1 0h2m-28 1h3m3 0h22m4 0h1m-33 1h3m3 0h19m1 0h2m2 0h1m-30 1h2m1 0h5m1 0h1m1 0h14m1 0h2m-29 1h6m1 0h13m1 0h1m1 0h5m1 0h1m-30 1h2m1 0h1m3 0h4m1 0h2m2 0h3m3 0h3m1 0h4m-33 1h1m3 0h4m2 0h1m1 0h2m1 0h7m3 0h3m1 0h6m-36 1h1m6 0h17m2 0h8m1 0h2m-30 1h5m1 0h13m1 0h5m1 0h4m-31 1h2m2 0h8m1 0h12m2 0h4m-39 1h2m5 0h2m5 0h6m1 0h6m1 0h1m1 0h4m2 0h2m-38 1h5m1 0h2m2 0h2m1 0h17m2 0h3m-29 1h1m5 0h17m4 0h1m-27 1h2m4 0h7m1 0h1m1 0h6m2 0h1m2 0h1m2 0h1m-32 1h1m1 0h2m2 0h2m1 0h10m1 0h5m2 0h4m-28 1h3m1 0h5m1 0h7m1 0h4m2 0h4m-28 1h8m1 0h4m1 0h2m1 0h5m1 0h2m1 0h2m-27 1h5m2 0h13m2 0h1m-24 1h6m2 0h1m1 0h8m1 0h2m-37 1h1m11 0h1m2 0h6m2 0h6m1 0h6m2 0h3m6 0h2m-38 1h3m1 0h4m4 0h3m1 0h1m1 0h3m1 0h12m-33 1h4m1 0h1m1 0h1m3 0h3m1 0h4m1 0h7m1 0h2m1 0h2m-32 1h2m1 0h5m1 0h14m2 0h3m-24 1h6m1 0h2m1 0h2m1 0h3m1 0h2m2 0h2m-19 1h2m1 0h1m1 0h3m1 0h3m1 0h3m2 0h2m-24 1h10m1 0h4m1 0h3m1 0h5m-25 1h6m1 0h10m1 0h4m1 0h2m3 0h2m-41 1h1m10 0h2m1 0h5m1 0h4m1 0h2m3 0h1m9 0h1m-29 1h1m1 0h3m1 0h2m1 0h6m1 0h2m3 0h1m-23 1h3m1 0h5m1 0h3m1 0h6m1 0h1m1 0h1m-25 1h3m2 0h2m2 0h2m1 0h1m4 0h3m4 0h1m-38 1h1m17 0h9m1 0h6m-14 1h2m2 0h6m1 0h3m-9 1h7m1 0h1m-22 1h1m2 0h1m1 0h3m9 0h5m-26 1h2m1 0h2m3 0h5m8 0h3m2 0h1m-30 1h1m1 0h3m6 0h1m1 0h2m8 0h3m-16 1h3m6 0h1m3 0h1m1 0h2m-18 1h2m1 0h1m6 0h2m3 0h4m-19 1h5m5 0h2m4 0h2m-31 1h1m23 0h2m4 0h5m-4 1h4m-17 1h1m7 0h1m6 0h1m-17 1h3m5 0h3m-3 1h2m2 1h1m-9 1h2m-11 1h1m8 0h1m-9 1h2m-1 1h1m5 1h2m-2 1h3m1 0h2m-4 1h3m4 1h1m-15 1h1m12 0h2m-2 1h1m0 1h1m-19 1h1m17 0h2m-20 1h2m16 0h2m5 4h1m-81 10h23m5 0h8m3 0h3m3 0h40m-85 1h23m5 0h8m3 0h3m3 0h40" stroke="#4a4b79"/>
<path d="M193 23h1m-62 1h1m62 4h1m-44 1h1m39 0h1m-33 1h1m23 0h1m9 0h1m-23 2h1m-7 1h1m2 0h1m1 0h1m9 0h1m1 0h1m2 0h1m-22 1h1m11 0h1m2 0h1m8 0h1m-32 1h1m2 0h1m20 0h1m1 0h1m-22 1h2m11 0h1m16 0h1m-34 1h1m5 0h1m1 0h1m19 0h1m2 0h1m-23 1h1m13 0h1m6 1h1m1 0h1m-37 1h1m25 0h1m-22 1h1m10 0h1m11 0h1m8 1h1m-46 1h1m12 0h1m4 0h1m15 0h1m1 1h1m11 0h1m2 0h1m-55 1h1m21 0h1m25 0h2m2 0h1m-9 2h1m8 0h1m-44 1h1m12 0h1m29 1h1m-49 1h1m45 0h1m-13 1h1m-80 1h1m53 0h1m9 0h1m25 0h1m6 1h1m-53 1h1m17 0h1m1 0h1m27 0h1m-50 2h1m20 0h1m23 0h1m-50 1h1m54 0h1m-70 1h1m15 0h1m46 0h2m-49 1h1m1 0h1m-5 2h1m31 0h1m-43 1h1m15 0h1m43 0h1m-49 1h1m1 0h1m48 0h1m-66 1h1m4 0h1m8 0h1m48 0h1m3 0h1m-64 2h1m61 1h1m-67 1h1m-28 1h1m20 0h1m4 0h1m5 0h1m56 0h1m1 0h1m-81 1h1m18 0h1m54 0h1m-103 1h1m21 0h1m87 0h1m-119 1h1m39 0h1m79 0h1m-91 1h1m6 0h1m78 0h1m7 0h1m-6 1h1m-89 1h1m-13 1h1m16 0h1m2 0h1m-39 1h1m19 0h1m6 0h1m14 0h1m70 0h1m1 0h1m-120 1h2m16 0h1m1 0h1m18 0h1m-24 1h1m3 0h1m2 0h1m8 0h1m8 0h1m-37 1h1m6 0h1m5 0h1m6 0h1m8 0h1m-14 1h1m92 0h1m-104 1h1m13 0h1m-27 1h1m118 0h1m4 0h1m-3 1h1m-122 1h1m11 0h1m7 0h1m-13 1h1m9 0h1m101 0h1m-5 1h1m8 1h1m-131 1h1m120 0h2m-196 1h1m82 0h1m3 1h1m-6 1h1m114 0h1m-198 1h1m85 0h1m105 0h1m2 0h1m4 0h1m4 0h1m-116 1h1m-21 1h1m10 0h1m1 0h1m112 0h1m-197 1h1m84 0h1m-2 1h1m-10 1h1m4 0h1m-25 1h1m23 0h1m117 0h1m-199 1h1m202 0h1m-125 1h1m-80 1h1m85 0h1m113 0h2m-202 1h1m195 0h1m11 0h1m-142 1h1m-68 1h1m80 0h1m5 0h1m-10 1h1m4 0h1m107 0h1m1 0h1m7 0h1m-202 1h1m80 0h1m-82 1h1m197 0h1m1 0h1m8 0h1m-20 1h1m1 0h1m-193 1h1m79 0h2m114 0h1m-197 1h1m88 0h1m-13 1h1m116 0h1m2 0h1m1 0h1m-118 1h1m2 0h1m111 0h1m2 0h1m-201 1h1m76 0h1m1 0h2m114 0h1m-1 1h1m7 0h1m-126 1h1m1 0h1m120 0h1m-121 2h1m116 0h1m-199 1h1m80 0h1m3 0h1m110 0h1m4 0h1m-119 1h1m-84 1h1m91 0h1m99 0h1m2 0h1m1 0h1m-116 1h1m2 0h1m113 0h1m-200 1h1m92 0h1m94 0h1m4 0h1m1 0h1m-116 1h1m2 0h1m107 0h1m-192 1h1m77 0h1m10 0h1m1 0h1m94 0h1m2 0h1m7 0h1m2 0h1m-118 1h1m3 0h1m105 0h1m-114 1h1m8 0h1m4 0h1m90 0h1m5 0h1m-100 1h1m104 0h1m-12 1h1m1 0h1m2 0h1m-105 1h1m93 0h1m11 0h1m-117 1h1m17 0h1m99 0h1m-111 1h1m3 0h1m93 0h1m3 0h2m1 0h1m-111 1h1m14 0h1m94 0h1m-105 1h1m1 0h1m1 0h1m-1 1h1m86 0h1m1 0h1m2 0h1m2 0h1m6 0h1m4 0h1m1 0h1m-115 1h1m2 0h1m107 0h1m-113 1h1m15 0h1m2 0h1m74 0h1m7 0h1m3 0h2m-92 1h1m9 0h1m64 0h1m9 0h1m-91 1h1m10 0h1m2 0h1m68 0h1m18 0h1m-23 1h1m5 0h1m9 0h1m-109 1h1m22 0h1m63 0h1m-81 1h1m76 0h1m24 0h1m-105 1h1m18 0h1m-40 1h1m40 0h1m3 0h1m49 0h1m-76 1h1m79 0h1m8 0h1m-75 1h1m3 0h1m5 0h1m1 0h1m46 0h1m-74 1h1m21 0h1m67 0h1m-67 1h1m1 0h2m1 0h1m42 0h1m24 0h1m7 0h1m-36 1h1m-56 1h1m12 0h1m38 0h1m8 0h1m11 0h1m15 0h1m-29 1h1m-45 1h1m15 0h1m11 0h1m10 0h1m-37 1h1m38 0h1m16 0h1m-101 1h1m42 0h1m3 0h1m-3 1h1m13 0h1m7 0h1m-5 1h1m45 0h1m-56 1h1m2 0h1m1 0h1m42 0h1m8 0h1m-106 1h1m54 0h1m1 0h2m-7 2h1m1 3h1m46 2h1m-6 3h1m-48 3h1m55 4h1m-3 3h1" stroke="#8a5630"/>
<path d="M173 34h1m-18 1h2m12 0h2m1 0h1m-18 1h1m13 0h1m7 0h4m-9 1h1m1 0h1m3 0h1m1 0h1m-18 1h1m6 0h1m1 0h1m2 0h1m1 0h1m2 0h2m2 0h1m2 0h1m-31 1h1m3 0h2m1 0h2m5 0h2m2 0h1m1 0h1m6 0h2m1 0h1m-32 1h1m1 0h2m2 0h1m4 0h2m4 0h1m1 0h1m2 0h1m7 0h1m1 0h1m-32 1h1m5 0h1m1 0h2m6 0h1m6 0h1m3 0h1m1 0h1m-33 1h1m7 0h1m6 0h1m1 0h1m13 0h2m1 0h1m1 0h1m-37 1h2m5 0h2m8 0h1m1 0h1m4 0h2m5 0h1m1 0h1m1 0h1m1 0h1m-37 1h1m1 0h2m8 0h1m2 0h1m1 0h1m8 0h1m3 0h1m1 0h1m2 0h1m-38 1h1m4 0h2m1 0h1m1 0h2m3 0h2m6 0h3m1 0h1m1 0h1m2 0h1m3 0h2m-39 1h1m1 0h4m2 0h2m2 0h1m5 0h1m2 0h1m1 0h1m1 0h1m3 0h1m1 0h1m2 0h1m3 0h1m-39 1h1m4 0h1m2 0h1m9 0h1m2 0h1m1 0h1m1 0h1m1 0h1m3 0h1m1 0h1m7 0h1m-41 1h1m3 0h1m1 0h2m1 0h2m6 0h2m3 0h1m1 0h1m1 0h1m1 0h2m2 0h2m1 0h1m2 0h1m1 0h2m-45 1h2m4 0h1m4 0h1m2 0h1m1 0h1m5 0h4m1 0h1m2 0h1m1 0h1m2 0h1m2 0h1m-36 1h1m1 0h1m3 0h1m6 0h1m1 0h2m8 0h3m10 0h2m-41 1h1m1 0h1m2 0h1m2 0h3m5 0h1m1 0h1m1 0h1m5 0h1m3 0h1m2 0h1m2 0h2m-34 1h1m3 0h1m2 0h2m1 0h1m3 0h1m1 0h1m1 0h3m4 0h1m6 0h1m2 0h1m-42 1h1m1 0h1m1 0h1m1 0h1m3 0h3m8 0h1m1 0h1m3 0h2m1 0h4m2 0h1m1 0h1m1 0h1m1 0h1m-42 1h2m1 0h1m8 0h4m3 0h1m2 0h1m1 0h1m8 0h1m1 0h1m1 0h1m1 0h2m-40 1h1m1 0h1m1 0h1m3 0h3m12 0h2m4 0h3m3 0h1m-34 1h1m1 0h1m1 0h1m3 0h1m1 0h1m1 0h2m2 0h2m1 0h1m7 0h1m1 0h1m2 0h1m1 0h5m-40 1h1m2 0h1m3 0h1m3 0h1m1 0h1m6 0h1m2 0h1m1 0h1m2 0h1m3 0h1m2 0h1m2 0h1m-41 1h1m4 0h1m1 0h1m1 0h1m1 0h1m1 0h1m4 0h1m5 0h1m4 0h2m1 0h1m1 0h1m1 0h2m-33 1h1m7 0h1m1 0h2m6 0h1m2 0h1m6 0h1m1 0h2m1 0h2m-39 1h1m15 0h1m9 0h3m1 0h2m2 0h1m4 0h1m-39 1h1m1 0h1m10 0h1m7 0h1m6 0h1m4 0h1m1 0h2m1 0h1m-41 1h2m1 0h1m22 0h2m1 0h1m1 0h1m4 0h2m2 0h2m-39 1h1m14 0h1m3 0h1m5 0h2m9 0h1m5 0h1m-49 1h1m1 0h3m18 0h1m8 0h1m5 0h1m1 0h1m1 0h1m1 0h2m-46 1h1m33 0h1m5 0h1m1 0h1m2 0h1m-52 1h1m4 0h1m39 0h1m-47 1h2m3 0h3m42 0h1m1 0h2m-55 1h1m3 0h1m3 0h1m38 0h1m1 0h2m1 0h1m1 0h1m-67 1h1m7 0h1m2 0h2m2 0h1m2 0h1m40 0h1m4 0h1m-66 1h3m11 0h1m1 0h1m47 0h2m4 0h1m-67 1h2m7 0h1m46 0h2m4 0h1m-69 1h2m3 0h1m1 0h1m1 0h1m2 0h2m51 0h1m3 0h1m-71 1h2m4 0h2m1 0h1m55 0h1m1 0h1m1 0h1m-73 1h1m2 0h1m4 0h1m1 0h1m59 0h1m1 0h1m-74 1h1m1 0h1m3 0h2m1 0h1m58 0h1m1 0h1m1 0h1m-72 1h1m4 0h1m62 0h1m-69 1h2m2 0h2m2 0h1m56 0h1m4 0h2m-88 1h1m1 0h1m12 0h1m8 0h2m58 0h2m-86 1h2m5 0h2m6 0h1m1 0h1m2 0h1m67 0h1m-87 1h1m6 0h2m7 0h1m64 0h2m3 0h1m-90 1h2m1 0h2m4 0h1m1 0h1m1 0h2m4 0h1m66 0h1m-95 1h1m7 0h1m4 0h1m79 0h1m-111 1h2m15 0h2m2 0h1m8 0h2m1 0h1m79 0h2m-114 1h2m10 0h2m5 0h3m1 0h1m86 0h1m2 0h1m1 0h1m-106 1h2m1 0h1m15 0h1m81 0h2m1 0h1m-104 1h1m1 0h1m6 0h1m88 0h2m5 0h1m-106 1h1m1 0h2m2 0h2m92 0h2m2 0h1m-111 1h1m5 0h2m3 0h1m91 0h1m1 0h1m5 0h1m-112 1h2m3 0h1m3 0h1m3 0h1m90 0h1m1 0h1m5 0h1m-108 1h3m103 0h1m-109 1h1m2 0h1m99 0h1m3 0h1m-113 1h2m2 0h2m4 0h2m1 0h1m-15 1h1m4 0h1m3 0h1m97 0h1m-97 1h1m1 0h1m101 0h2m-113 1h1m101 0h1m2 0h1m4 0h1m-111 1h3m99 0h1m-190 1h1m89 0h2m98 0h1m1 0h2m-194 1h1m86 0h1m1 0h1m103 0h1m2 0h2m-198 1h1m87 0h1m1 0h1m2 0h1m96 0h1m1 0h2m1 0h1m-107 1h1m1 0h1m2 0h1m95 0h1m1 0h1m1 0h2m-107 1h1m1 0h3m96 0h1m2 0h1m-112 1h2m6 0h2m100 0h1m-110 1h1m1 0h1m5 0h1m1 0h1m97 0h3m-111 1h2m104 0h1m3 0h1m1 0h1m-111 1h1m3 0h1m3 0h1m102 0h1m-111 1h1m2 0h2m2 0h1m94 0h1m7 0h1m-9 1h2m1 0h1m1 0h1m1 0h1m4 0h1m-118 1h2m5 0h2m1 0h1m1 0h1m93 0h1m2 0h1m1 0h2m-113 1h1m104 0h1m8 0h1m-107 1h3m94 0h1m-103 1h1m101 0h1m-103 1h2m3 0h2m1 0h1m93 0h1m1 0h3m-106 1h1m2 0h1m1 0h1m1 0h1m93 0h1m1 0h2m-105 1h1m1 0h3m2 0h1m94 0h1m-190 1h1m85 0h1m6 0h1m95 0h1m-190 1h1m86 0h2m2 0h1m1 0h2m92 0h1m2 0h1m-191 1h1m85 0h1m2 0h2m4 0h1m90 0h1m2 0h3m1 0h1m-194 1h1m85 0h1m2 0h1m1 0h4m1 0h1m94 0h1m1 0h2m-106 1h1m5 0h1m90 0h1m1 0h3m1 0h1m1 0h1m3 0h1m-110 1h2m91 0h3m1 0h1m1 0h1m10 0h1m-112 1h1m5 0h2m90 0h1m1 0h1m9 0h1m-199 1h1m86 0h1m1 0h2m90 0h6m2 0h1m-102 1h2m1 0h2m3 0h1m1 0h1m2 0h1m81 0h1m6 0h1m-101 1h1m4 0h1m3 0h1m81 0h2m-99 1h1m10 0h3m2 0h1m82 0h1m-4 1h3m6 0h1m4 0h1m-107 1h1m9 0h2m90 0h1m4 0h1m-102 1h1m3 0h1m4 0h1m71 0h1m4 0h1m15 0h1m-105 1h1m1 0h1m3 0h1m6 0h1m71 0h1m3 0h1m10 0h1m-100 1h1m6 0h2m2 0h1m70 0h1m3 0h1m5 0h1m-12 1h1m3 0h1m6 0h1m-87 1h1m3 0h2m72 0h2m6 0h1m-88 1h2m2 0h1m2 0h1m67 0h1m2 0h1m1 0h3m3 0h1m-83 1h2m2 0h1m66 0h1m1 0h1m4 0h1m3 0h1m-83 1h1m68 0h1m1 0h1m1 0h1m-71 1h3m2 0h1m58 0h1m1 0h1m2 0h1m2 0h1m-73 1h1m61 0h1m1 0h1m-63 1h1m63 0h1m1 0h2m-5 1h1m1 0h1m-62 1h1m56 0h1m1 0h1m-60 1h1m-5 1h1m3 0h1m1 0h1m49 0h1m1 0h1m-56 1h1m1 0h1m2 0h1m45 0h1m3 0h2m-3 1h1m-49 1h1m48 0h3m-51 1h1m32 0h1m1 0h1m8 0h1m-50 1h1m6 0h2m29 0h1m1 0h1m1 0h1m3 0h1m1 0h1m-41 1h1m28 0h2m1 0h1m1 0h1m3 0h1m-37 1h1m1 0h1m22 0h2m3 0h2m-41 1h4m4 0h1m1 0h1m24 0h1m-35 1h1m6 0h1m1 0h3m3 0h1m2 0h1m9 0h1m2 0h1m3 0h1m1 0h2m-27 1h2m7 0h1m4 0h1m4 0h1m5 0h1m-22 1h2m8 0h3m1 0h2m-7 1h1m6 0h1m-19 1h1m2 0h1m1 0h1m1 0h2m-9 1h2m3 0h1m-6 1h1" stroke="#d2702e"/>
<path d="M172 35h1m-1 1h2m-2 1h1m-8 1h1m-2 1h1m10 1h1m-7 1h1m5 0h1m2 0h2m-13 1h3m6 0h5m-13 1h2m5 0h3m-4 1h1m1 0h1m10 0h1m-33 1h1m1 0h1m16 0h2m11 0h1m-34 1h1m8 0h2m10 0h1m-12 1h1m12 1h1m1 0h1m-27 1h1m4 0h2m28 0h1m2 0h2m-41 1h2m4 0h2m6 0h1m20 0h2m1 0h2m-27 1h3m19 0h1m-22 1h1m5 0h1m13 0h2m-13 1h1m1 0h1m8 0h1m-33 1h1m3 0h3m17 0h1m1 0h1m9 0h1m-35 1h1m1 0h3m5 0h1m12 0h3m9 0h1m-30 1h1m10 0h1m5 0h2m-9 1h2m4 0h1m-26 1h4m15 0h2m3 0h2m4 0h1m-31 1h4m2 0h6m5 0h2m1 0h2m7 0h1m1 0h1m-27 1h3m1 0h2m1 0h2m3 0h3m1 0h2m14 0h1m-34 1h1m1 0h1m1 0h5m4 0h5m10 0h2m4 0h1m-36 1h10m1 0h2m2 0h3m1 0h1m8 0h3m-29 1h12m1 0h1m3 0h4m5 0h3m3 0h1m-36 1h2m2 0h10m1 0h1m3 0h1m1 0h3m6 0h2m3 0h1m-41 1h2m2 0h11m2 0h10m1 0h3m4 0h2m-37 1h1m1 0h20m1 0h4m1 0h10m2 0h2m-41 1h26m1 0h6m1 0h3m1 0h3m-41 1h2m1 0h33m-41 1h1m2 0h5m1 0h30m1 0h2m-43 1h43m-45 1h1m1 0h43m-48 1h1m1 0h45m1 0h1m-54 1h3m1 0h28m1 0h17m1 0h4m-55 1h6m1 0h38m1 0h9m-58 1h4m1 0h41m1 0h10m-58 1h55m-54 1h4m1 0h49m2 0h2m-63 1h2m4 0h57m2 0h3m-73 1h1m4 0h3m2 0h48m1 0h9m3 0h1m-73 1h3m3 0h8m1 0h53m-69 1h2m3 0h63m-81 1h2m5 0h2m1 0h3m1 0h2m2 0h65m-86 1h2m1 0h3m4 0h4m1 0h10m1 0h61m-86 1h4m3 0h2m1 0h4m1 0h53m1 0h17m-89 1h1m2 0h5m1 0h9m1 0h67m1 0h1m-88 1h7m1 0h6m1 0h3m1 0h61m1 0h7m-97 1h1m7 0h1m1 0h2m1 0h54m1 0h20m1 0h8m-90 1h45m1 0h42m-92 1h3m2 0h87m-92 1h2m1 0h90m1 0h2m-95 1h66m1 0h9m1 0h18m-99 1h1m4 0h93m-98 1h2m3 0h74m1 0h17m-93 1h90m4 0h1m-97 1h28m1 0h51m1 0h12m2 0h2m-98 1h95m2 0h2m-105 1h1m3 0h5m1 0h90m-97 1h83m1 0h14m-93 1h1m1 0h3m1 0h88m-95 1h5m1 0h88m2 0h1m-97 1h6m1 0h72m1 0h13m-94 1h13m1 0h83m-96 1h96m-97 1h83m1 0h11m-94 1h92m-93 1h1m1 0h61m1 0h30m-95 1h62m1 0h24m1 0h6m-95 1h1m4 0h48m1 0h41m-96 1h1m1 0h1m2 0h92m-94 1h92m1 0h1m-94 1h23m1 0h69m-92 1h53m1 0h34m2 0h2m-91 1h48m1 0h42m-92 1h1m1 0h87m1 0h3m-93 1h64m1 0h1m1 0h3m1 0h18m1 0h3m-92 1h91m-95 1h1m4 0h1m1 0h87m-88 1h77m1 0h9m-95 1h1m6 0h35m1 0h49m2 0h1m-90 1h87m3 0h1m-90 1h59m1 0h21m1 0h3m3 0h1m-86 1h75m1 0h5m-77 1h79m-86 1h1m5 0h79m-80 1h79m-80 1h77m1 0h2m-79 1h74m2 0h1m1 0h1m-80 1h3m3 0h34m1 0h34m1 0h4m-81 1h2m5 0h68m1 0h1m2 0h2m-74 1h4m1 0h64m-70 1h69m-68 1h3m1 0h59m1 0h2m-66 1h67m-66 1h3m1 0h61m-64 1h62m2 0h1m-62 1h56m-61 1h1m5 0h52m1 0h1m4 0h1m-59 1h54m2 0h2m-58 1h30m1 0h11m1 0h14m-57 1h38m1 0h17m-55 1h2m1 0h47m1 0h1m-51 1h30m1 0h14m1 0h3m-47 1h45m-44 1h32m1 0h8m1 0h1m6 0h1m-50 1h4m1 0h28m1 0h10m-42 1h1m1 0h29m4 0h2m1 0h4m-39 1h4m1 0h22m-26 1h1m1 0h19m1 0h3m5 0h1m-29 1h21m-20 1h1m1 0h2m2 0h10m1 0h3m-20 1h2m5 0h2m3 0h2m3 0h2m-12 1h2m8 0h1m-12 1h1m1 0h2m-5 1h5" stroke="#ff6600"/>
<path d="M189 10h1m-15 4h1m6 6h1m-10 3h1m1 2h1m7 0h1m-22 2h1m20 1h1m-6 4h1m-2 1h1m-7 3h1m1 48h1m3 20h1m-13 11h1m11 15h1m-9 2h1m2 6h1m-19 1h1m25 3h1m-7 4h1m-1 1h1m-10 1h1m8 3h1m-8 2h1m10 2h1m-22 2h1m10 0h1m-7 2h1m8 1h1m8 0h1m-9 2h1m13 0h1m-16 4h1m-6 1h1m4 4h1m15 0h1m-38 1h1m14 0h1m1 0h1m10 1h1m13 0h1m2 2h1m-31 1h1m-1 1h1m1 1h1m1 0h1m6 1h1m10 2h1m-5 2h1m-28 1h2m-4 2h2m15 0h1m8 1h1m-16 1h1m9 2h1m-11 1h1m15 0h1m-13 1h1m3 2h1m12 0h1m-20 1h1m-5 1h1m17 0h1m-27 1h1m13 0h1m-12 1h1m6 0h1m-11 1h1m4 0h1m12 0h1m8 0h1m-12 1h1m3 0h1m-32 1h1m7 0h1m16 0h1m-17 1h1m17 1h1m5 0h1m16 0h1m-26 1h1m12 0h1m-19 1h1m18 0h1m1 0h1m-21 1h1m1 1h1m6 0h1m5 2h1m1 0h1m-24 1h1m5 0h1m0 1h1m9 1h1m-19 1h1m17 0h1m-31 1h1m10 2h1m7 0h1m6 0h1m5 0h1m-13 1h1m2 0h1m7 0h1m-23 3h1m14 0h1m7 0h1m-25 2h1m4 0h1m5 1h1m-7 1h1m3 1h1m-18 1h1m36 1h1m1 0h1m8 0h1m-51 3h1m47 0h1m-19 1h1m31 2h1m-29 2h1m-18 1h1m24 1h1m-33 1h1m14 0h1m-9 1h1m4 0h1m-13 1h1m15 0h1m2 0h1m-12 1h1m13 0h1m4 0h1m20 0h1m-44 2h1m10 0h1m12 0h1m-6 1h1m-34 1h1m14 1h1m15 1h1m-5 2h1m-22 1h1m13 1h1m14 0h1m-27 1h1m13 0h1m17 0h1m-4 2h1m3 0h1m-17 1h1m5 1h1m-5 1h1m11 2h1m-13 1h1m-23 3h1m-10 1h1m25 4h1m-7 13h1m-7 11h1m14 5h1m-6 19h1m-1 4h1m4 0h1m-12 1h1m1 0h1m9 0h1m4 0h1" stroke="#1a1a78"/>
<path d="M170 201h1m-10 39h1m2 80h1m3 0h2m4 0h2m-13 1h2m4 0h1m4 0h2" stroke="#1c1c9c"/></g>
<path d="M903.0 1030.1V1029.5H905.0V1028.4H907.0V1027.5H909.0V1027.3H911.0V1027.1H913.0V1026.9H915.0V1026.3H917.0V1025.1H919.0V1023.9H921.0V1022.7H923.0V1021.0H925.0V1019.0H927.0V1017.0H929.0V1015.0H931.0V1012.1H933.0V1009.0H935.0V1006.0H937.0V1002.2H939.0V997.4H941.0V992.4H943.0V987.5H945.0V978.5H947.0V968.6H949.0V963.0H951.0V958.5H953.0V952.4H955.0V944.9H957.0V935.3H959.0V924.3H961.0V913.8H963.0V906.4H965.0V888.4H967.0V868.6H969.0V855.6H971.0V847.3H973.0V832.9H975.0V825.3H977.0V811.3H979.0V792.9H981.0V786.5H983.0V774.7H985.0V747.7H987.0V749.5H989.0V728.9H991.0V730.3H993.0V732.4H995.0V732.0H997.0V744.0H999.0V745.1H1001.0V741.3H1003.0V744.4H1005.0V738.6H1007.0V768.5H1009.0V773.2H1011.0V781.3H1013.0V804.9H1015.0V831.7H1017.0V853.4H1019.0V864.1H1021.0V876.8H1023.0V893.0H1025.0V902.6H1027.0V914.9H1029.0V925.0H1031.0V930.5H1033.0V936.3H1035.0V950.0H1037.0V958.9H1039.0V962.0H1041.0V967.7H1043.0V972.8H1045.0V977.3H1047.0V982.4H1049.0V986.8H1051.0V997.3H1053.0V1008.6H1055.0V1010.2H1057.0V1011.7H1059.0V1013.3H1061.0V1015.8H1063.0V1018.3H1065.0V1020.8H1067.0V1022.8H1069.0V1024.8H1071.0V1026.8H1073.0V1028.5H1075.0V1029.5H1077.0V1030.1Z" fill="#a5a6be"/>
<path d="M903.0 1030.1V1029.5H905.0V1028.4H907.0V1027.5H909.0V1027.4H911.0V1027.2H913.0V1027.0H915.0V1026.4H917.0V1025.3H919.0V1024.1H921.0V1022.9H923.0V1021.3H925.0V1019.4H927.0V1017.4H929.0V1015.5H931.0V1012.9H933.0V1009.9H935.0V1006.8H937.0V1003.4H939.0V998.3H941.0V993.4H943.0V988.8H945.0V979.6H947.0V970.6H949.0V966.1H951.0V960.3H953.0V954.1H955.0V949.2H957.0V936.8H959.0V929.4H961.0V921.7H963.0V916.7H965.0V898.9H967.0V889.2H969.0V870.7H971.0V855.8H973.0V851.5H975.0V845.9H977.0V823.3H979.0V818.9H981.0V791.5H983.0V803.8H985.0V770.9H987.0V778.5H989.0V763.1H991.0V775.2H993.0V781.9H995.0V756.4H997.0V767.2H999.0V784.1H1001.0V772.7H1003.0V774.8H1005.0V792.7H1007.0V782.6H1009.0V797.8H1011.0V796.0H1013.0V821.2H1015.0V840.9H1017.0V864.0H1019.0V872.0H1021.0V885.7H1023.0V897.8H1025.0V909.3H1027.0V921.0H1029.0V930.4H1031.0V936.4H1033.0V942.1H1035.0V953.4H1037.0V962.1H1039.0V966.8H1041.0V969.5H1043.0V975.0H1045.0V979.0H1047.0V983.2H1049.0V988.6H1051.0V998.4H1053.0V1009.5H1055.0V1010.8H1057.0V1012.3H1059.0V1013.9H1061.0V1016.3H1063.0V1018.7H1065.0V1021.1H1067.0V1023.0H1069.0V1025.0H1071.0V1026.9H1073.0V1028.6H1075.0V1029.5H1077.0V1030.1Z" fill="#d1865e"/>
<path d="M1034.2 1030.1V953.4H1037.0V962.1H1039.0V966.8H1041.0V969.5H1043.0V975.0H1045.0V979.0H1047.0V983.2H1049.0V988.6H1051.0V998.4H1053.0V1009.5H1055.0V1010.8H1057.0V1012.3H1059.0V1013.9H1061.0V1016.3H1063.0V1018.7H1065.0V1021.1H1067.0V1023.0H1069.0V1025.0H1071.0V1026.9H1073.0V1028.6H1075.0V1029.5H1077.0V1030.1Z" fill="#b2665d"/>
<path d="M903.0 1030.1V1029.5H905.0V1028.4H907.0V1027.5H909.0V1027.3H911.0V1027.1H913.0V1026.9H915.0V1026.3H917.0V1025.1H919.0V1023.9H921.0V1022.7H923.0V1021.0H925.0V1019.0H927.0V1017.0H929.0V1015.0H931.0V1012.1H933.0V1009.0H935.0V1006.0H937.0V1002.2H939.0V997.4H941.0V992.4H943.0V987.5H945.0V978.5H947.0V968.6H949.0V963.0H951.0V958.5H953.0V952.4H955.0V944.9H957.0V935.3H959.0V924.3H961.0V913.8H963.0V906.4H965.0V888.4H967.0V868.6H969.0V855.6H971.0V847.3H973.0V832.9H975.0V825.3H977.0V811.3H979.0V792.9H981.0V786.5H983.0V774.7H985.0V747.7H987.0V749.5H989.0V728.9H991.0V730.3H993.0V732.4H995.0V732.0H997.0V744.0H999.0V745.1H1001.0V741.3H1003.0V744.4H1005.0V738.6H1007.0V768.5H1009.0V773.2H1011.0V781.3H1013.0V804.9H1015.0V831.7H1017.0V853.4H1019.0V864.1H1021.0V876.8H1023.0V893.0H1025.0V902.6H1027.0V914.9H1029.0V925.0H1031.0V930.5H1033.0V936.3H1035.0V950.0H1037.0V958.9H1039.0V962.0H1041.0V967.7H1043.0V972.8H1045.0V977.3H1047.0V982.4H1049.0V986.8H1051.0V997.3H1053.0V1008.6H1055.0V1010.2H1057.0V1011.7H1059.0V1013.3H1061.0V1015.8H1063.0V1018.3H1065.0V1020.8H1067.0V1022.8H1069.0V1024.8H1071.0V1026.8H1073.0V1028.5H1075.0V1029.5H1077.0V1030.1" fill="none" stroke="#373764" stroke-width="1.4"/>
<path d="M903.0 1030.1V1029.5H905.0V1028.4H907.0V1027.5H909.0V1027.4H911.0V1027.2H913.0V1027.0H915.0V1026.4H917.0V1025.3H919.0V1024.1H921.0V1022.9H923.0V1021.3H925.0V1019.4H927.0V1017.4H929.0V1015.5H931.0V1012.9H933.0V1009.9H935.0V1006.8H937.0V1003.4H939.0V998.3H941.0V993.4H943.0V988.8H945.0V979.6H947.0V970.6H949.0V966.1H951.0V960.3H953.0V954.1H955.0V949.2H957.0V936.8H959.0V929.4H961.0V921.7H963.0V916.7H965.0V898.9H967.0V889.2H969.0V870.7H971.0V855.8H973.0V851.5H975.0V845.9H977.0V823.3H979.0V818.9H981.0V791.5H983.0V803.8H985.0V770.9H987.0V778.5H989.0V763.1H991.0V775.2H993.0V781.9H995.0V756.4H997.0V767.2H999.0V784.1H1001.0V772.7H1003.0V774.8H1005.0V792.7H1007.0V782.6H1009.0V797.8H1011.0V796.0H1013.0V821.2H1015.0V840.9H1017.0V864.0H1019.0V872.0H1021.0V885.7H1023.0V897.8H1025.0V909.3H1027.0V921.0H1029.0V930.4H1031.0V936.4H1033.0V942.1H1035.0V953.4H1037.0V962.1H1039.0V966.8H1041.0V969.5H1043.0V975.0H1045.0V979.0H1047.0V983.2H1049.0V988.6H1051.0V998.4H1053.0V1009.5H1055.0V1010.8H1057.0V1012.3H1059.0V1013.9H1061.0V1016.3H1063.0V1018.7H1065.0V1021.1H1067.0V1023.0H1069.0V1025.0H1071.0V1026.9H1073.0V1028.6H1075.0V1029.5H1077.0V1030.1" fill="none" stroke="#ff6e14" stroke-width="1.2"/>
<path d="M1034.2 1030.1V943.3" stroke="#8c3c50" stroke-width="1.3"/>
<g transform="translate(112.70 1241.00) scale(1.5) translate(0 .5)" fill="none" stroke-width="1"><path d="M79 117h1m-54 8h1m60 11h1m46 0h1m-60 1h1m22 2h1m33 0h1m15 0h1m22 0h1m-31 1h1m19 0h1m-8 2h1m-25 1h1m-68 2h1m90 0h1m-3 1h1m3 0h1m1 0h1m-18 1h1m-53 1h1m54 0h1m15 0h1m-62 1h1m30 0h1m15 0h2m1 0h1m2 0h1m1 0h1m-34 1h1m19 0h2m9 0h1m-52 1h1m32 0h1m15 0h1m-65 1h1m36 0h1m17 0h1m13 0h1m-24 1h1m2 0h1m15 0h1m12 0h1m43 0h1m-190 1h1m43 0h1m16 0h1m47 0h1m26 0h1m-55 1h1m17 0h1m1 0h1m5 0h1m10 0h1m13 0h1m8 0h1m8 0h1m42 0h1m-153 1h1m63 0h1m6 0h1m1 0h1m5 0h1m2 0h1m16 0h1m4 0h1m3 0h1m-92 1h1m57 0h1m34 0h1m-74 1h1m13 0h1m17 0h1m8 0h1m23 0h1m2 0h1m1 0h1m-86 1h1m22 0h1m10 0h1m9 0h1m3 0h1m1 0h1m2 0h1m34 0h1m-97 1h1m16 0h1m15 0h1m5 0h1m52 0h1m-98 1h1m7 0h1m45 0h1m14 0h1m22 0h1m6 0h1m2 0h1m3 0h1m2 0h1m6 0h1m-159 1h1m45 0h1m12 0h1m17 0h1m1 0h1m6 0h1m44 0h1m4 0h1m9 0h1m3 0h1m-90 1h2m9 0h1m3 0h1m7 0h1m12 0h1m6 0h1m35 0h1m-62 1h1m9 0h1m2 0h1m7 0h1m31 0h1m4 0h1m15 0h1m-125 1h1m33 0h1m10 0h1m1 0h1m61 0h1m1 0h1m-124 1h1m40 0h1m11 0h1m13 0h1m10 0h1m1 0h1m3 0h1m41 0h1m1 0h1m6 0h1m2 0h1m-80 1h1m2 0h1m9 0h1m45 0h1m3 0h1m-90 1h1m6 0h1m3 0h1m2 0h1m12 0h1m1 0h1m2 0h1m3 0h1m7 0h1m44 0h1m3 0h1m2 0h1m-90 1h1m10 0h1m25 0h1m2 0h1m55 0h1m4 0h1m10 0h1m-107 1h1m1 0h1m15 0h1m2 0h1m2 0h1m23 0h2m1 0h1m12 0h1m21 0h1m-102 1h1m8 0h1m12 0h1m20 0h1m10 0h1m52 0h1m-126 1h1m1 0h1m41 0h1m5 0h1m6 0h1m1 0h1m2 0h1m19 0h1m1 0h1m17 0h1m16 0h1m11 0h1m5 0h1m-130 1h1m10 0h1m4 0h1m3 0h1m6 0h2m2 0h1m15 0h1m24 0h1m8 0h1m-97 1h1m27 0h1m20 0h1m1 0h1m12 0h1m12 0h1m4 0h1m30 0h1m-127 1h1m4 0h1m20 0h1m13 0h1m13 0h1m24 0h1m2 0h1m3 0h1m6 0h1m5 0h1m4 0h1m-46 1h1m2 0h1m24 0h1m7 0h1m1 0h1m-110 1h1m17 0h1m43 0h1m7 0h1m5 0h1m19 0h1m34 0h1m1 0h1m23 0h1m-113 1h1m5 0h1m2 0h1m4 0h1m15 0h1m26 0h1m32 0h1m8 0h1m-88 1h1m6 0h2m2 0h1m17 0h1m10 0h1m10 0h1m23 0h1m3 0h1m9 0h1m11 0h1m-128 1h1m48 0h1m1 0h1m16 0h1m33 0h1m-107 1h1m22 0h1m1 0h1m6 0h1m8 0h1m4 0h1m6 0h1m2 0h1m2 0h1m14 0h1m1 0h1m36 0h1m-105 1h1m36 0h1m1 0h1m14 0h1m4 0h1m36 0h1m9 0h1m-161 1h1m37 0h2m4 0h1m11 0h2m28 0h1m12 0h1m1 0h1m9 0h1m3 0h1m1 0h1m43 0h1m33 0h1m5 0h1m-142 1h1m11 0h1m3 0h1m6 0h1m10 0h2m3 0h1m9 0h1m40 0h1m-73 1h1m8 0h1m2 0h1m12 0h1m2 0h1m3 0h1m7 0h1m-44 1h1m19 0h1m1 0h1m10 0h1m10 0h1m1 0h1m3 0h1m30 0h1m1 0h1m-167 1h1m74 0h1m4 0h1m3 0h1m29 0h1m9 0h1m12 0h1m25 0h1m-107 1h1m13 0h1m3 0h1m1 0h1m2 0h1m24 0h1m11 0h1m9 0h1m11 0h1m1 0h1m-142 1h1m51 0h1m14 0h1m17 0h1m11 0h1m24 0h1m51 0h1m-128 1h1m35 0h1m26 0h1m3 0h1m2 0h1m44 0h1m5 0h1m5 0h1m-138 1h1m36 0h1m2 0h1m2 0h1m8 0h1m87 0h1m15 0h1m-194 1h1m76 0h1m26 0h1m3 0h1m7 0h1m43 0h1m-154 1h1m44 0h1m14 0h1m3 0h1m12 0h1m1 0h1m1 0h1m4 0h1m5 0h1m2 0h1m9 0h1m61 0h1m4 0h1m-154 1h1m31 0h1m47 0h1m52 0h1m9 0h1m3 0h1m-168 1h1m47 0h1m2 0h1m30 0h1m14 0h1m16 0h1m43 0h1m1 0h1m-167 1h1m89 0h1m2 0h1m3 0h1m19 0h1m7 0h1m52 0h1m28 0h1m-199 1h1m18 0h1m25 0h1m20 0h1m4 0h1m6 0h1m26 0h1m50 0h1m2 0h1m3 0h1m1 0h1m9 0h1m-185 1h1m54 0h1m22 0h1m6 0h1m3 0h1m2 0h1m16 0h1m6 0h1m57 0h1m-122 1h1m17 0h1m23 0h1m10 0h1m59 0h1m2 0h1m10 0h1m3 0h1m-135 1h1m8 0h1m18 0h1m5 0h1m3 0h1m3 0h1m2 0h1m2 0h1m4 0h1m7 0h1m45 0h1m15 0h1m7 0h1m-182 1h1m24 0h1m33 0h1m12 0h1m13 0h1m3 0h1m9 0h1m5 0h1m-33 1h1m29 0h1m52 0h1m9 0h1m11 0h1m7 0h1m-149 1h1m22 0h2m14 0h1m14 0h1m1 0h1m11 0h1m-63 1h1m21 0h2m7 0h1m10 0h1m2 0h1m4 0h1m13 0h1m56 0h1m12 0h1m-180 1h1m43 0h1m4 0h1m5 0h1m21 0h1m1 0h1m5 0h1m77 0h1m6 0h1m4 0h1m16 0h1m-190 1h1m38 0h1m28 0h1m17 0h1m7 0h1m74 0h1m-113 1h1m11 0h1m22 0h1m66 0h1m16 0h1m2 0h1m-174 1h1m65 0h1m1 0h1m15 0h1m4 0h1m11 0h1m1 0h1m-113 1h1m66 0h1m12 0h1m6 0h1m89 0h1m13 0h1m-192 1h1m77 0h1m3 0h1m8 0h1m17 0h1m50 0h1m3 0h1m2 0h1m11 0h2m-144 1h1m1 0h1m6 0h1m4 0h1m9 0h1m10 0h2m2 0h1m25 0h1m2 0h1m76 0h1m45 0h1m-229 1h1m43 0h1m2 0h1m7 0h1m1 0h1m2 0h1m7 0h1m1 0h1m10 0h1m77 0h1m7 0h1m11 0h2m3 0h1m-146 1h1m17 0h1m8 0h1m19 0h1m8 0h1m1 0h1m7 0h1m78 0h1m5 0h1m-191 1h1m43 0h1m18 0h1m3 0h1m2 0h1m8 0h1m11 0h1m1 0h1m5 0h1m72 0h1m24 0h1m-166 1h1m20 0h1m10 0h1m10 0h1m8 0h1m20 0h1m6 0h1m1 0h1m61 0h1m3 0h1m3 0h2m-164 1h1m20 0h1m17 0h1m9 0h1m8 0h2m1 0h1m12 0h1m10 0h1m58 0h1m9 0h1m15 0h1m-193 1h1m54 0h1m2 0h1m2 0h1m15 0h1m13 0h1m18 0h1m49 0h1m30 0h1m-139 1h1m25 0h1m15 0h1m2 0h1m58 0h1m12 0h1m17 0h1m-189 1h1m34 0h1m19 0h1m11 0h1m9 0h1m11 0h1m83 0h1m-139 1h1m1 0h1m35 0h1m9 0h1m85 0h2m7 0h1m16 0h1m5 0h1m-174 1h1m28 0h1m7 0h1m6 0h1m2 0h1m4 0h1m19 0h1m4 0h1m67 0h1m-97 1h1m7 0h1m8 0h1m1 0h1m73 0h1m4 0h1m2 0h1m1 0h1m-181 1h1m70 0h1m12 0h1m15 0h1m72 0h1m-134 1h1m26 0h1m3 0h1m8 0h1m1 0h1m33 0h1m51 0h1m2 0h1m-172 1h1m41 0h1m26 0h1m4 0h1m88 0h1m9 0h1m3 0h1m9 0h1m-127 1h1m16 0h1m3 0h1m15 0h1m1 0h1m2 0h1m63 0h1m3 0h1m7 0h1m-114 1h1m6 0h1m2 0h1m19 0h1m84 0h1m-182 1h1m58 0h1m4 0h1m31 0h1m2 0h1m72 0h1m2 0h1m3 0h1m1 0h1m14 0h1m-194 1h1m63 0h1m15 0h1m7 0h1m76 0h1m1 0h1m-153 1h1m35 0h1m4 0h1m3 0h1m7 0h1m6 0h1m-16 1h1m5 0h1m2 0h1m13 0h2m2 0h1m81 0h1m1 0h1m17 0h1m-193 1h1m46 0h1m1 0h1m15 0h1m27 0h1m3 0h1m70 0h1m3 0h1m-106 1h1m1 0h1m2 0h1m18 0h1m1 0h1m13 0h1m1 0h1m60 0h1m4 0h1m3 0h1m-180 1h1m55 0h1m3 0h1m35 0h1m10 0h1m49 0h1m8 0h1m12 0h1m-166 1h1m51 0h1m5 0h1m2 0h1m1 0h1m10 0h1m5 0h1m5 0h2m8 0h1m5 0h1m-78 1h1m9 0h1m2 0h1m9 0h1m33 0h1m1 0h1m13 0h1m55 0h1m3 0h1m2 0h1m24 0h1m-136 1h1m28 0h1m1 0h1m81 0h1m-164 1h1m40 0h1m15 0h1m16 0h1m8 0h1m68 0h1m18 0h1m4 0h1m24 0h1m-217 1h1m36 0h1m40 0h1m2 0h1m79 0h1m9 0h1m5 0h1m14 0h1m-193 1h1m39 0h1m16 0h2m13 0h1m19 0h2m4 0h1m60 0h1m8 0h1m4 0h1m1 0h1m25 0h1m-155 1h1m18 0h1m18 0h1m76 0h1m3 0h1m16 0h1m3 0h1m-142 1h1m17 0h1m6 0h1m20 0h1m2 0h1m72 0h1m3 0h1m1 0h1m6 0h1m-182 1h1m31 0h1m39 0h1m87 0h1m2 0h1m-164 1h1m29 0h1m50 0h1m7 0h2m2 0h1m2 0h1m4 0h1m60 0h1m9 0h1m18 0h1m13 0h1m-179 1h1m76 0h1m2 0h1m46 0h1m3 0h1m21 0h1m-181 1h1m10 0h1m63 0h2m16 0h1m1 0h1m8 0h1m1 0h1m42 0h1m10 0h2m3 0h1m9 0h1m8 0h2m-186 1h1m55 0h1m22 0h1m5 0h1m5 0h1m75 0h1m9 0h1m15 0h1m1 0h1m-182 1h1m33 0h1m21 0h1m14 0h1m7 0h1m1 0h1m11 0h1m67 0h1m-176 1h1m5 0h1m41 0h1m9 0h1m4 0h1m3 0h1m4 0h1m5 0h1m64 0h1m10 0h1m1 0h1m3 0h1m1 0h1m38 0h1m-186 1h1m72 0h1m3 0h1m13 0h1m19 0h1m24 0h1m26 0h1m-180 1h1m8 0h1m61 0h1m13 0h2m2 0h1m21 0h1m31 0h1m11 0h2m1 0h1m1 0h1m3 0h1m4 0h2m4 0h1m4 0h1m6 0h1m-124 1h1m27 0h1m1 0h1m5 0h1m4 0h1m2 0h1m18 0h1m24 0h1m20 0h1m3 0h1m-178 1h1m61 0h1m3 0h1m23 0h1m12 0h1m39 0h1m14 0h1m12 0h1m16 0h1m-172 1h1m48 0h1m4 0h1m7 0h1m7 0h1m7 0h1m2 0h2m6 0h1m18 0h1m34 0h1m4 0h1m6 0h1m-142 1h1m48 0h1m2 0h1m36 0h1m-57 1h1m1 0h1m15 0h1m8 0h1m10 0h1m30 0h2m17 0h1m9 0h1m20 0h1m12 0h1m-128 1h1m1 0h1m1 0h1m14 0h1m2 0h1m8 0h1m11 0h1m7 0h1m10 0h1m28 0h1m16 0h1m-112 1h1m6 0h1m6 0h1m12 0h1m8 0h1m2 0h1m27 0h1m13 0h1m2 0h1m2 0h1m12 0h1m2 0h1m-170 1h1m30 0h1m21 0h1m2 0h1m12 0h1m25 0h1m3 0h1m10 0h1m1 0h1m7 0h1m2 0h1m33 0h1m2 0h1m18 0h1m-105 1h1m6 0h1m9 0h1m6 0h1m8 0h1m6 0h1m5 0h1m10 0h1m36 0h1m-158 1h1m51 0h1m4 0h1m2 0h2m11 0h1m2 0h2m3 0h1m13 0h1m3 0h1m6 0h1m37 0h1m9 0h1m9 0h1m3 0h1m-157 1h1m5 0h1m5 0h1m19 0h1m19 0h1m43 0h1m1 0h1m20 0h1m14 0h1m29 0h1m-189 1h1m57 0h1m35 0h1m1 0h1m4 0h1m2 0h1m35 0h1m15 0h1m3 0h1m3 0h1m2 0h1m10 0h1m-118 1h1m5 0h1m1 0h1m7 0h1m19 0h1m2 0h1m7 0h2m11 0h1m1 0h1m12 0h1m1 0h1m2 0h1m-79 1h1m1 0h1m21 0h1m6 0h1m16 0h1m31 0h1m9 0h1m13 0h1m-168 1h1m19 0h1m51 0h1m10 0h1m5 0h1m10 0h1m2 0h1m1 0h1m11 0h1m9 0h1m10 0h1m22 0h1m-112 1h1m13 0h1m1 0h1m11 0h1m11 0h1m5 0h1m5 0h1m7 0h1m8 0h1m21 0h1m6 0h1m6 0h2m9 0h1m-167 1h1m53 0h1m54 0h1m24 0h1m4 0h1m1 0h1m29 0h1m22 0h1m-161 1h1m14 0h1m5 0h1m9 0h1m5 0h1m25 0h1m5 0h1m16 0h1m30 0h1m4 0h1m5 0h1m-163 1h1m90 0h2m6 0h1m3 0h1m20 0h2m1 0h1m4 0h1m10 0h1m13 0h1m2 0h1m16 0h1m8 0h1m7 0h1m-195 1h1m61 0h1m55 0h1m22 0h1m1 0h1m1 0h1m1 0h1m7 0h1m-120 1h1m5 0h1m15 0h1m8 0h1m12 0h1m22 0h1m29 0h1m25 0h1m7 0h2m28 0h1m-136 1h1m44 0h1m42 0h1m1 0h1m21 0h1m13 0h1m-140 1h1m26 0h1m1 0h1m4 0h1m8 0h1m6 0h1m5 0h1m10 0h1m11 0h1m4 0h1m22 0h1m8 0h1m10 0h1m-177 1h1m37 0h1m35 0h1m21 0h1m11 0h1m17 0h1m8 0h1m59 0h1m-196 1h1m44 0h1m12 0h1m4 0h1m54 0h1m1 0h1m5 0h1m3 0h1m-123 1h1m47 0h1m32 0h1m14 0h1m3 0h1m5 0h1m34 0h1m13 0h1m2 0h1m14 0h1m-182 1h1m93 0h2m2 0h1m1 0h1m15 0h2m11 0h1m5 0h1m10 0h1m9 0h1m1 0h1m-159 1h1m39 0h1m20 0h1m17 0h1m2 0h1m25 0h1m2 0h2m9 0h1m68 0h1m-112 1h1m34 0h1m7 0h1m5 0h1m36 0h1m-135 1h1m21 0h1m21 0h1m11 0h1m21 0h1m30 0h1m11 0h2m6 0h1m-83 1h1m27 0h1m17 0h1m16 0h1m16 0h1m19 0h1m-180 1h1m41 0h1m60 0h1m27 0h2m15 0h1m42 0h1m-125 1h1m12 0h1m11 0h1m24 0h1m20 0h1m63 0h1m-203 1h1m101 0h1m25 0h1m5 0h1m11 0h1m15 0h1m11 0h1m-126 1h1m35 0h1m6 0h1m27 0h1m15 0h1m3 0h1m10 0h1m-152 1h1m76 0h1m6 0h1m21 0h1m15 0h1m19 0h1m6 0h1m3 0h1m-77 1h1m23 0h1m18 0h1m-121 1h1m68 0h1m16 0h1m51 0h1m-98 1h1m2 0h1m63 0h1m38 0h1m11 0h1m5 0h1m3 0h1m-59 1h1m6 0h1m10 0h1m1 0h1m8 0h1m-141 1h1m76 0h1m1 0h1m21 0h1m13 0h1m10 0h1m13 0h1m-141 1h1m59 0h1m69 0h1m25 0h1m6 0h1m15 0h1m-28 1h1m7 0h1m-132 1h1m52 0h1m62 0h1m12 0h1m-159 1h1m13 0h1m63 0h1m31 0h1m8 0h1m3 0h1m35 0h1m-160 1h1m13 0h1m50 0h1m55 0h1m17 0h2m8 0h2m-76 1h1m25 0h1m13 0h1m30 0h1m-147 1h1m82 0h1m72 0h1m-157 1h1m26 0h1m45 0h1m107 0h1m-102 1h1m44 0h1m7 0h1m30 0h1m-155 1h1m43 0h1m-55 1h1m99 0h1m17 0h1m53 0h1m-117 1h1m23 0h1m2 0h1m2 0h1m-14 1h1m82 0h1m13 1h1m-66 1h1m3 0h1m13 0h1m66 0h1m-109 1h1m77 0h1m25 0h1m-55 1h1m2 0h1m-26 1h1m44 0h1m-34 1h1m22 1h1m0 1h1m-10 1h1m4 0h1m1 0h1m3 0h2m1 0h1m2 0h1" stroke="#23233a"/>
<path d="M142 146h1m14 0h1m-15 1h1m11 6h1m-18 3h1m15 0h3m-20 1h1m3 0h1m1 0h1m6 0h2m3 0h1m2 0h1m-18 1h1m3 0h1m4 0h1m2 0h1m5 0h1m7 0h1m4 0h1m-53 1h2m1 0h1m13 0h2m2 0h1m7 0h1m2 0h3m2 0h1m5 0h1m-63 1h2m14 0h1m4 0h1m1 0h1m2 0h1m19 0h1m1 0h3m4 0h1m1 0h1m4 0h1m-63 1h1m12 0h1m2 0h6m3 0h5m4 0h1m5 0h1m1 0h1m7 0h1m1 0h2m1 0h1m2 0h1m4 0h1m10 0h1m-75 1h1m28 0h1m4 0h3m2 0h1m3 0h1m4 0h1m3 0h2m1 0h1m-28 1h1m10 0h1m9 0h1m6 0h1m3 0h2m-41 1h1m7 0h1m2 0h1m5 0h1m1 0h1m1 0h3m9 0h2m5 0h1m-60 1h1m17 0h1m1 0h1m7 0h4m6 0h2m8 0h1m1 0h2m17 0h1m-53 1h1m7 0h1m14 0h3m1 0h1m5 0h1m3 0h4m-42 1h2m5 0h2m3 0h2m2 0h1m1 0h1m3 0h2m2 0h1m3 0h2m1 0h1m1 0h2m1 0h1m3 0h1m-37 1h1m2 0h1m6 0h1m1 0h1m1 0h2m5 0h3m3 0h1m1 0h1m1 0h2m1 0h2m1 0h1m-48 1h1m12 0h2m1 0h2m2 0h1m1 0h1m6 0h2m5 0h2m5 0h1m-32 1h1m4 0h2m1 0h1m7 0h1m2 0h2m3 0h1m2 0h1m-28 1h2m4 0h1m10 0h1m1 0h1m2 0h2m1 0h2m9 0h2m-49 1h1m7 0h2m1 0h1m1 0h1m2 0h1m2 0h2m8 0h1m1 0h1m4 0h1m8 0h1m1 0h1m-40 1h1m2 0h1m4 0h1m2 0h3m7 0h1m3 0h2m11 0h1m-32 1h1m8 0h1m3 0h1m8 0h1m2 0h1m-41 1h1m22 0h2m5 0h1m1 0h1m1 0h2m4 0h1m-14 1h2m3 0h1m6 0h1m-39 1h1m12 0h2m2 0h1m5 0h2m11 0h2m3 0h1m-43 1h1m1 0h1m4 0h1m6 0h1m5 0h2m5 0h1m1 0h1m1 0h1m7 0h1m-41 1h1m3 0h1m15 0h2m3 0h1m2 0h1m1 0h1m3 0h1m4 0h1m-41 1h1m1 0h5m10 0h1m5 0h1m1 0h1m5 0h1m1 0h1m1 0h1m4 0h1m9 0h1m-52 1h2m3 0h1m9 0h1m2 0h1m1 0h2m1 0h1m1 0h1m5 0h1m2 0h1m2 0h2m1 0h2m2 0h1m3 0h5m-51 1h1m3 0h1m4 0h1m8 0h1m1 0h1m2 0h1m3 0h1m1 0h1m1 0h1m1 0h2m6 0h1m3 0h2m1 0h1m-36 1h2m1 0h1m5 0h1m1 0h3m2 0h1m3 0h1m2 0h2m1 0h1m1 0h1m-48 1h1m19 0h2m1 0h1m4 0h1m5 0h2m1 0h1m3 0h1m1 0h1m1 0h1m1 0h1m2 0h1m-68 1h3m14 0h1m21 0h1m3 0h2m5 0h1m6 0h1m1 0h1m2 0h2m4 0h2m-52 1h1m4 0h1m4 0h1m1 0h1m7 0h1m4 0h1m5 0h2m1 0h1m5 0h1m7 0h1m1 0h1m-52 1h2m9 0h2m1 0h1m7 0h1m2 0h1m5 0h1m8 0h1m1 0h5m1 0h2m-69 1h2m15 0h2m13 0h1m8 0h2m1 0h1m8 0h1m4 0h2m5 0h1m2 0h1m-68 1h1m17 0h1m15 0h2m2 0h1m5 0h3m9 0h1m3 0h2m1 0h1m1 0h2m1 0h1m-68 1h2m8 0h2m3 0h2m9 0h1m1 0h1m4 0h1m2 0h1m1 0h5m1 0h1m2 0h1m1 0h2m5 0h2m4 0h1m2 0h1m1 0h1m-68 1h1m9 0h1m10 0h1m5 0h1m1 0h3m1 0h3m2 0h1m5 0h1m1 0h1m5 0h1m9 0h1m2 0h1m1 0h1m-46 1h1m3 0h1m5 0h1m17 0h1m10 0h1m3 0h1m5 0h2m-50 1h1m2 0h5m1 0h1m1 0h1m2 0h1m2 0h1m5 0h1m3 0h1m1 0h1m1 0h1m8 0h1m1 0h1m6 0h1m-80 1h1m23 0h1m3 0h1m1 0h2m1 0h1m3 0h1m3 0h1m3 0h1m2 0h1m5 0h2m3 0h1m5 0h3m8 0h1m2 0h1m-89 1h2m31 0h4m9 0h1m6 0h1m1 0h1m1 0h1m1 0h2m5 0h1m14 0h1m3 0h2m-86 1h1m21 0h2m17 0h2m2 0h3m2 0h1m3 0h1m3 0h1m3 0h3m7 0h1m1 0h1m4 0h1m1 0h1m1 0h1m1 0h1m3 0h1m-68 1h1m7 0h1m12 0h1m1 0h1m4 0h2m2 0h1m3 0h1m2 0h1m5 0h1m6 0h3m4 0h1m1 0h1m-62 1h1m6 0h1m1 0h1m9 0h1m2 0h1m1 0h1m4 0h2m6 0h2m11 0h1m1 0h1m6 0h1m2 0h2m8 0h1m-172 1h1m90 0h1m8 0h1m13 0h1m3 0h3m1 0h1m3 0h1m4 0h1m6 0h1m5 0h2m3 0h1m1 0h3m1 0h2m2 0h3m10 0h1m-173 1h1m86 0h1m12 0h1m3 0h1m8 0h5m3 0h1m31 0h1m1 0h1m7 0h1m-91 1h1m3 0h1m4 0h2m21 0h1m9 0h1m2 0h3m1 0h2m15 0h1m5 0h1m3 0h4m1 0h1m5 0h4m-87 1h1m2 0h2m1 0h2m7 0h1m18 0h1m1 0h1m2 0h1m1 0h1m3 0h1m5 0h1m1 0h1m5 0h2m1 0h1m5 0h1m8 0h2m2 0h2m3 0h1m-84 1h1m1 0h1m8 0h1m8 0h3m5 0h1m2 0h2m1 0h1m1 0h1m2 0h1m1 0h1m9 0h2m7 0h1m18 0h1m-61 1h1m5 0h1m6 0h1m2 0h1m2 0h1m1 0h1m2 0h1m4 0h1m5 0h2m1 0h2m1 0h1m18 0h1m-72 1h1m10 0h1m1 0h1m2 0h2m6 0h2m2 0h2m2 0h1m1 0h1m16 0h1m5 0h1m1 0h1m7 0h3m1 0h2m-74 1h1m10 0h2m2 0h1m1 0h1m10 0h1m2 0h1m1 0h2m1 0h1m24 0h1m3 0h2m1 0h1m1 0h1m3 0h1m-76 1h2m12 0h1m1 0h1m2 0h1m1 0h2m5 0h2m3 0h1m3 0h1m3 0h1m26 0h1m5 0h1m11 0h1m-83 1h3m7 0h1m1 0h1m1 0h1m1 0h1m2 0h1m4 0h1m2 0h1m1 0h1m1 0h1m2 0h2m1 0h1m3 0h1m1 0h1m15 0h1m1 0h1m1 0h2m1 0h1m2 0h1m13 0h2m-87 1h2m13 0h1m1 0h2m5 0h1m11 0h1m3 0h1m6 0h1m21 0h1m15 0h1m-81 1h2m5 0h1m9 0h4m4 0h1m2 0h2m27 0h2m-69 1h1m10 0h2m4 0h2m11 0h1m5 0h1m36 0h2m2 0h1m-79 1h1m7 0h2m3 0h1m3 0h1m8 0h1m1 0h1m1 0h1m7 0h2m1 0h1m18 0h2m7 0h1m9 0h1m9 0h2m-173 1h1m90 0h1m6 0h1m9 0h1m2 0h1m3 0h1m2 0h2m2 0h1m8 0h1m29 0h1m4 0h1m5 0h1m-63 1h1m10 0h1m1 0h1m6 0h1m20 0h1m4 0h3m1 0h1m2 0h1m2 0h1m-81 1h1m6 0h1m7 0h1m2 0h1m5 0h1m5 0h1m6 0h2m22 0h1m1 0h3m3 0h1m1 0h1m3 0h2m1 0h1m1 0h1m1 0h2m-84 1h2m5 0h2m2 0h1m1 0h2m1 0h2m7 0h1m10 0h1m1 0h1m1 0h1m20 0h1m7 0h1m7 0h1m5 0h1m-83 1h1m5 0h1m4 0h1m1 0h2m1 0h2m1 0h1m5 0h1m4 0h1m2 0h1m26 0h1m-93 1h1m30 0h2m14 0h1m3 0h1m1 0h1m4 0h1m7 0h1m1 0h1m3 0h1m12 0h1m3 0h1m5 0h1m4 0h1m4 0h1m4 0h1m-74 1h2m2 0h1m6 0h4m5 0h1m1 0h3m4 0h1m14 0h1m11 0h1m7 0h1m2 0h1m4 0h2m-79 1h1m2 0h1m2 0h4m5 0h2m31 0h1m14 0h1m7 0h2m2 0h1m3 0h2m-90 1h1m8 0h4m10 0h2m12 0h1m26 0h1m11 0h1m1 0h1m3 0h1m1 0h2m1 0h1m1 0h1m-89 1h1m9 0h1m5 0h1m6 0h1m2 0h1m10 0h2m4 0h1m12 0h1m6 0h1m14 0h2m1 0h2m4 0h1m-87 1h1m17 0h1m5 0h2m1 0h1m14 0h1m32 0h1m3 0h1m10 0h1m-171 1h1m96 0h2m15 0h1m3 0h1m21 0h1m20 0h1m4 0h1m-84 1h2m13 0h1m10 0h1m1 0h1m2 0h1m24 0h1m1 0h1m9 0h1m3 0h1m1 0h1m1 0h1m2 0h1m2 0h2m-83 1h1m31 0h4m4 0h1m32 0h1m-57 1h1m4 0h1m3 0h1m3 0h1m1 0h1m27 0h1m5 0h2m6 0h1m3 0h2m1 0h1m-65 1h3m1 0h1m5 0h3m3 0h3m3 0h1m1 0h1m32 0h1m6 0h2m-66 1h1m2 0h1m5 0h1m14 0h1m12 0h1m5 0h1m4 0h2m1 0h1m1 0h2m2 0h1m1 0h1m1 0h2m-73 1h1m7 0h2m11 0h3m1 0h1m1 0h1m31 0h1m1 0h2m2 0h3m1 0h1m1 0h1m1 0h4m-87 1h1m20 0h1m1 0h1m1 0h1m1 0h1m1 0h1m4 0h1m2 0h1m1 0h1m5 0h1m7 0h1m4 0h1m8 0h1m2 0h1m2 0h2m6 0h1m-95 1h1m12 0h2m16 0h1m1 0h1m8 0h3m2 0h1m1 0h1m1 0h1m11 0h2m16 0h1m2 0h1m2 0h1m2 0h2m1 0h1m2 0h1m10 0h1m-96 1h2m16 0h1m1 0h1m1 0h3m7 0h1m2 0h1m1 0h1m6 0h1m1 0h2m12 0h1m1 0h1m7 0h2m3 0h1m2 0h1m3 0h2m1 0h1m3 0h1m-79 1h1m12 0h1m8 0h2m10 0h1m26 0h3m5 0h2m1 0h2m-76 1h4m10 0h1m8 0h1m1 0h2m8 0h1m10 0h3m17 0h1m8 0h1m4 0h1m-78 1h2m9 0h4m1 0h1m17 0h1m23 0h2m5 0h1m2 0h4m6 0h1m-72 1h1m7 0h2m5 0h1m1 0h2m4 0h1m13 0h1m9 0h1m1 0h2m5 0h3m1 0h1m1 0h1m2 0h1m5 0h2m-98 1h2m10 0h3m16 0h1m4 0h2m1 0h1m1 0h1m5 0h1m3 0h1m25 0h3m5 0h1m1 0h1m3 0h2m-92 1h1m11 0h1m14 0h2m1 0h2m1 0h4m1 0h1m3 0h1m5 0h1m26 0h1m4 0h3m7 0h1m-93 1h2m24 0h1m2 0h1m2 0h1m1 0h1m4 0h2m1 0h1m5 0h3m9 0h1m20 0h1m3 0h1m17 0h1m-89 1h1m11 0h1m1 0h1m1 0h1m2 0h1m5 0h1m1 0h2m1 0h1m2 0h1m2 0h1m8 0h1m7 0h1m3 0h2m4 0h2m3 0h1m13 0h1m-84 1h2m8 0h4m1 0h1m2 0h1m2 0h1m3 0h2m1 0h1m3 0h1m1 0h1m2 0h1m16 0h1m1 0h1m3 0h2m3 0h3m15 0h2m10 0h1m-96 1h1m10 0h1m3 0h1m2 0h2m1 0h1m4 0h1m1 0h1m3 0h1m1 0h2m1 0h1m6 0h1m10 0h1m1 0h1m1 0h1m4 0h1m4 0h2m7 0h2m-68 1h1m9 0h1m1 0h2m2 0h2m7 0h2m13 0h1m3 0h1m1 0h1m1 0h1m1 0h2m5 0h1m8 0h1m1 0h1m-69 1h1m9 0h1m6 0h1m1 0h2m3 0h1m17 0h1m1 0h1m2 0h1m3 0h1m16 0h1m-76 1h1m3 0h1m1 0h1m1 0h1m13 0h2m1 0h1m7 0h2m14 0h1m12 0h1m1 0h1m-60 1h1m2 0h1m1 0h1m7 0h1m8 0h2m5 0h1m8 0h1m3 0h1m3 0h1m2 0h2m3 0h1m3 0h1m1 0h1m6 0h1m-87 1h1m20 0h1m2 0h2m4 0h2m2 0h1m1 0h1m1 0h1m5 0h1m1 0h2m2 0h2m1 0h1m1 0h1m5 0h1m3 0h1m1 0h1m3 0h1m1 0h2m5 0h1m4 0h2m-67 1h2m9 0h2m1 0h2m1 0h1m2 0h1m1 0h1m3 0h1m4 0h1m1 0h3m1 0h1m4 0h1m4 0h2m3 0h1m2 0h1m3 0h1m-158 1h1m80 0h1m17 0h1m2 0h3m4 0h1m6 0h1m1 0h1m5 0h1m1 0h1m10 0h1m1 0h1m7 0h1m2 0h1m-77 1h1m5 0h2m10 0h1m20 0h1m1 0h3m4 0h2m1 0h1m4 0h4m5 0h2m4 0h2m2 0h2m-88 1h1m6 0h1m3 0h2m33 0h1m2 0h1m1 0h1m9 0h2m3 0h1m7 0h2m2 0h1m46 0h1m-118 1h1m29 0h1m3 0h1m4 0h1m4 0h1m1 0h3m9 0h1m1 0h1m4 0h1m2 0h1m1 0h1m3 0h3m5 0h3m6 0h3m-64 1h2m7 0h2m2 0h2m1 0h1m3 0h2m4 0h1m1 0h1m1 0h2m1 0h2m2 0h4m3 0h1m2 0h3m5 0h1m6 0h1m-69 1h1m13 0h1m4 0h2m1 0h2m3 0h1m2 0h1m1 0h1m1 0h1m1 0h1m6 0h1m3 0h4m1 0h1m3 0h1m5 0h1m1 0h1m3 0h1m-69 1h1m13 0h2m11 0h1m1 0h2m1 0h1m9 0h1m5 0h1m4 0h3m5 0h2m1 0h1m-65 1h2m13 0h1m5 0h1m2 0h1m3 0h2m3 0h2m6 0h1m2 0h1m1 0h2m6 0h1m-35 1h2m1 0h1m6 0h1m2 0h1m1 0h1m3 0h1m1 0h1m1 0h1m-36 1h1m7 0h1m5 0h1m7 0h2m3 0h1m7 0h1m1 0h1m1 0h1m4 0h1m-148 1h1m101 0h2m12 0h1m7 0h1m14 0h1m8 0h2m-150 1h1m124 0h3m1 0h2m2 0h2m3 0h1m9 0h1m-149 1h1m127 0h1m1 0h2m2 0h1m1 0h1m10 0h1m-34 1h3m1 0h1m3 0h1m8 0h1m3 0h1m8 0h1m3 0h2m1 0h2m6 0h1m-47 1h1m2 0h4m5 0h2m5 0h1m1 0h1m9 0h1m3 0h1m3 0h1m12 0h1m-52 1h2m9 0h1m5 0h1m2 0h1m3 0h1m27 0h1m-53 1h2m8 0h1m5 0h1m3 0h2m-136 1h1m124 0h2m4 0h2m17 0h2m-27 1h2m6 0h1m15 0h1m2 0h1m-15 1h1m-20 1h1m19 0h2m-21 1h2m6 0h2m19 0h2m8 0h1m-50 1h1m11 0h2m5 0h1m1 0h1m18 0h1m-72 1h1m30 0h2m11 0h1m6 0h2m21 0h3m-46 1h1m11 1h2m10 0h1m-78 1h1m64 0h1m7 1h1m6 0h2m-1 1h1m-20 3h3m-3 1h2m-121 4h1m120 0h1m-13 3h2m0 1h1m-12 22h1m-43 1h2m3 0h1m1 0h1m3 0h3m7 0h1m1 0h1m12 0h1m1 0h2m4 0h1m3 0h3m1 0h1m1 0h2m1 0h1m1 0h1m1 0h4m1 0h2m8 0h1m1 0h1m3 0h1m12 0h1m-95 1h1m3 0h3m3 0h1m1 0h1m7 0h3m12 0h2m1 0h1m4 0h5m1 0h1m1 0h6m1 0h4m1 0h2m1 0h1m8 0h2m3 0h2m2 0h1m8 0h1" stroke="#34365e"/>
<path d="M156 157h2m-16 1h3m12 0h2m-17 1h2m1 0h2m-27 1h1m21 0h2m1 0h2m6 0h1m-10 1h4m-2 1h2m-11 1h2m6 0h2m1 0h1m-13 1h3m8 0h4m-16 1h3m1 0h1m5 0h1m1 0h4m-19 1h1m2 0h2m1 0h3m5 0h1m1 0h2m-11 1h2m18 0h1m-24 1h1m16 0h1m-18 1h1m9 0h1m2 3h2m2 0h1m-1 1h2m-1 1h2m-11 1h1m9 0h1m-11 1h3m1 0h3m-7 1h2m1 0h1m1 0h2m-11 1h1m4 0h1m2 0h3m1 0h1m-13 1h2m5 0h1m2 0h3m-13 1h3m2 0h1m4 0h2m-21 1h1m8 0h2m2 0h1m-14 1h1m6 0h2m13 0h2m-1 1h1m-11 1h1m1 0h2m-5 1h1m1 0h3m-6 1h1m2 0h2m-4 1h4m-4 1h1m1 0h1m6 0h1m-46 1h1m35 0h2m7 0h1m-10 1h3m5 0h1m-20 1h2m4 0h4m2 0h3m1 0h4m-28 1h1m7 0h6m1 0h2m3 0h2m1 0h5m-20 1h1m1 0h2m2 0h2m6 0h3m2 0h1m3 0h1m-30 1h3m4 0h2m10 0h1m1 0h2m3 0h4m-30 1h2m14 0h1m1 0h4m1 0h1m2 0h2m-23 1h2m8 0h3m1 0h3m5 0h1m-23 1h3m5 0h1m2 0h1m2 0h3m5 0h2m-37 1h1m14 0h1m4 0h4m3 0h3m5 0h2m3 0h1m-31 1h2m2 0h4m3 0h4m2 0h3m-24 1h13m1 0h1m1 0h3m2 0h2m-24 1h6m2 0h5m1 0h1m1 0h4m3 0h1m-25 1h1m1 0h1m1 0h1m5 0h3m5 0h4m1 0h4m1 0h1m-28 1h3m14 0h3m2 0h3m1 0h5m-55 1h2m23 0h3m3 0h1m10 0h2m3 0h2m1 0h2m1 0h2m-36 1h1m4 0h1m1 0h7m1 0h1m1 0h2m3 0h2m1 0h1m4 0h4m1 0h1m-31 1h5m1 0h9m1 0h7m2 0h2m7 0h2m-59 1h1m23 0h1m3 0h3m1 0h1m1 0h9m1 0h3m2 0h2m6 0h2m-45 1h1m4 0h1m8 0h2m3 0h1m2 0h3m1 0h2m1 0h1m1 0h3m1 0h1m-36 1h4m1 0h2m8 0h1m2 0h2m3 0h10m1 0h1m2 0h1m1 0h3m-42 1h2m2 0h2m4 0h4m1 0h6m1 0h3m1 0h9m2 0h3m1 0h2m-44 1h3m7 0h17m2 0h7m2 0h3m-46 1h1m5 0h2m7 0h6m2 0h1m1 0h5m1 0h2m3 0h6m1 0h3m-46 1h2m5 0h2m6 0h6m3 0h2m2 0h2m1 0h2m2 0h6m1 0h1m1 0h2m-39 1h2m1 0h2m5 0h3m3 0h14m2 0h2m2 0h3m-37 1h4m4 0h4m1 0h2m1 0h2m1 0h1m1 0h8m6 0h1m2 0h1m-40 1h2m1 0h2m3 0h1m2 0h6m1 0h4m1 0h7m5 0h2m-36 1h1m6 0h1m3 0h6m1 0h3m1 0h1m1 0h3m6 0h4m-37 1h2m4 0h3m1 0h4m1 0h3m1 0h1m1 0h1m1 0h2m3 0h2m3 0h2m1 0h1m-48 1h3m7 0h4m2 0h4m1 0h7m3 0h2m2 0h2m1 0h3m3 0h3m1 0h1m-48 1h6m2 0h4m2 0h9m1 0h3m2 0h7m1 0h2m5 0h4m7 0h2m-57 1h6m3 0h1m1 0h2m1 0h9m1 0h2m2 0h5m3 0h8m7 0h1m-52 1h2m1 0h3m4 0h4m2 0h5m1 0h2m1 0h2m2 0h4m3 0h6m1 0h3m-45 1h2m1 0h2m5 0h2m3 0h4m1 0h5m1 0h5m1 0h3m1 0h1m2 0h7m1 0h1m1 0h1m-55 1h2m1 0h4m2 0h1m5 0h3m1 0h11m1 0h4m3 0h6m1 0h1m2 0h2m1 0h4m-55 1h5m3 0h2m3 0h1m1 0h1m1 0h2m1 0h4m1 0h6m1 0h1m5 0h2m1 0h5m2 0h3m5 0h1m-56 1h2m4 0h3m7 0h2m2 0h4m1 0h2m2 0h6m1 0h1m1 0h1m2 0h5m1 0h3m4 0h3m-50 1h1m8 0h2m2 0h1m1 0h3m1 0h13m2 0h4m3 0h2m5 0h2m-55 1h3m10 0h2m4 0h1m1 0h7m1 0h1m1 0h1m1 0h1m1 0h2m2 0h3m4 0h2m6 0h1m2 0h1m-65 1h1m4 0h5m3 0h1m3 0h2m1 0h4m3 0h11m1 0h3m1 0h1m2 0h3m10 0h1m1 0h1m3 0h1m-61 1h5m9 0h1m2 0h4m1 0h4m1 0h3m1 0h2m2 0h3m1 0h4m3 0h1m-43 1h1m11 0h2m1 0h2m2 0h2m1 0h1m5 0h1m2 0h2m1 0h5m-45 1h1m17 0h3m1 0h1m2 0h3m3 0h5m2 0h2m1 0h4m-30 1h1m2 0h2m6 0h2m2 0h7m3 0h3m2 0h2m9 0h2m-43 1h2m1 0h2m4 0h2m2 0h4m2 0h1m1 0h2m1 0h1m1 0h5m1 0h1m-33 1h6m2 0h3m1 0h5m4 0h7m1 0h3m1 0h2m1 0h1m-37 1h2m2 0h1m1 0h2m2 0h4m1 0h2m2 0h6m1 0h1m3 0h1m4 0h1m1 0h1m-51 1h2m11 0h3m2 0h2m2 0h4m1 0h3m2 0h1m2 0h1m2 0h3m6 0h3m3 0h1m-41 1h3m2 0h2m1 0h3m1 0h1m1 0h5m1 0h3m2 0h2m1 0h2m10 0h1m-85 1h1m43 0h3m5 0h2m1 0h3m1 0h3m1 0h10m1 0h2m-32 1h3m4 0h4m1 0h2m3 0h5m1 0h5m1 0h4m4 0h2m-56 1h1m4 0h1m18 0h3m1 0h4m2 0h2m1 0h2m3 0h2m3 0h2m5 0h1m-49 1h1m19 0h2m1 0h1m2 0h8m8 0h2m-39 1h1m13 0h4m3 0h2m1 0h4m10 0h1m-31 1h2m4 0h6m1 0h3m1 0h1m28 0h1m-57 1h2m8 0h1m1 0h1m4 0h6m1 0h6m4 0h1m-35 1h4m6 0h4m3 0h8m1 0h5m3 0h2m-34 1h3m1 0h2m3 0h3m5 0h1m1 0h3m2 0h2m6 0h1m-28 1h2m4 0h1m12 0h1m10 0h2m-47 1h2m15 0h1m16 0h1m11 0h2m-30 1h1m14 0h2m-18 1h3m12 0h2m-17 1h4m10 0h3m10 0h1m-26 1h1m11 0h2m-5 1h1m11 0h1m-15 1h1m0 3h1m5 0h1m4 0h3m-8 1h2m4 0h1m-17 1h1m10 0h2m-3 1h3m-5 4h1m-3 1h2m-73 47h3m3 0h3m3 0h7m3 0h12m4 0h4m7 0h1m6 0h1m9 0h8m-74 1h3m3 0h3m3 0h7m3 0h12m4 0h4m7 0h1m6 0h1m9 0h8" stroke="#4a4b79"/>
<path d="M186 15h1m-8 4h1m7 2h1m-13 1h1m1 0h1m4 0h1m4 0h1m2 0h1m8 0h1m-41 1h1m3 0h1m27 0h1m-6 1h1m11 0h1m-47 1h1m21 0h1m2 0h1m3 0h1m-29 1h1m9 0h1m8 0h1m13 0h1m-11 1h1m3 0h1m10 0h1m-45 1h1m23 0h1m-21 1h1m27 0h1m3 0h1m5 0h1m3 0h1m-27 1h1m19 0h1m-10 1h1m25 0h1m-50 1h1m11 0h1m21 0h1m8 0h1m-61 1h1m9 0h1m30 0h1m16 0h1m13 0h1m-66 1h1m5 1h1m38 0h1m17 1h1m-59 1h1m39 0h1m15 0h1m-60 1h1m39 0h1m-59 1h1m64 0h1m6 0h1m-60 1h1m45 0h1m-55 1h1m1 0h1m3 0h1m58 0h1m-75 1h1m17 0h1m50 0h1m-2 1h1m-55 1h1m4 0h1m52 0h1m-78 1h1m3 0h1m1 0h1m8 0h2m52 0h1m15 0h1m-104 1h1m18 0h1m10 0h1m62 0h1m8 0h1m-104 1h1m16 0h1m14 1h1m7 0h1m48 0h1m3 0h1m-71 1h1m4 0h1m9 0h1m58 0h1m-80 1h1m1 0h1m70 0h1m2 0h1m6 0h1m-75 1h1m1 0h1m69 0h1m-171 1h1m85 0h1m6 0h1m1 0h1m-21 1h1m13 0h1m2 0h1m6 0h1m68 0h1m-176 1h1m82 0h1m18 0h1m1 0h1m3 0h1m63 0h1m-87 1h1m10 0h1m2 0h1m3 0h1m-28 1h1m2 0h1m94 0h1m2 0h1m-97 1h1m2 0h1m12 0h1m2 0h1m2 0h1m1 0h1m-22 1h1m7 0h1m1 0h1m-9 1h1m85 0h1m-98 1h1m5 0h1m1 0h1m10 0h1m4 0h1m-31 1h1m5 0h1m7 0h1m1 0h1m3 0h1m82 0h1m1 0h1m-125 1h1m10 0h1m18 0h1m10 0h1m-28 1h1m6 0h1m1 0h1m98 0h1m-98 2h1m17 0h1m78 0h1m-126 1h1m13 0h1m21 0h1m1 0h1m9 0h1m74 0h1m-125 1h1m18 0h1m12 0h1m18 0h1m71 0h1m2 0h1m-137 1h1m135 0h1m-117 1h1m9 0h1m102 0h1m-113 1h1m113 0h1m32 0h1m-32 1h1m-121 1h1m2 0h1m116 0h1m10 0h1m3 0h1m-213 1h1m191 0h1m-118 1h1m10 0h1m1 0h1m-89 1h1m194 0h1m-124 1h1m1 0h1m122 0h1m-117 1h1m-21 1h1m10 0h1m-73 2h1m68 1h1m4 0h1m1 0h1m-77 1h1m44 0h1m10 0h1m9 0h1m3 0h1m123 1h1m5 0h1m-201 1h1m71 0h1m4 0h1m115 0h1m2 1h1m5 0h1m-203 1h1m37 0h1m31 0h1m126 0h1m-8 1h1m-143 1h1m15 0h1m128 0h1m4 0h1m1 0h1m-201 2h1m193 0h1m-131 1h1m1 0h1m1 0h1m4 0h1m2 0h1m-77 1h1m186 0h1m1 0h1m9 0h1m6 0h1m-207 1h1m67 0h1m1 0h1m3 0h1m116 0h1m5 0h1m-125 1h1m3 0h1m109 0h1m11 0h1m1 0h1m-131 1h1m119 0h1m9 0h1m-136 1h1m127 0h1m-123 1h1m2 0h1m112 0h1m9 0h1m-199 1h1m56 0h1m11 0h1m116 1h1m3 0h1m3 0h1m-129 1h1m125 0h1m-127 1h1m5 0h1m112 1h1m3 0h1m-123 1h1m123 0h1m-130 1h1m7 0h1m116 0h1m-3 1h1m1 0h1m2 0h1m-117 1h1m3 0h1m110 0h1m-190 1h1m70 0h1m2 0h1m-7 1h1m114 0h1m5 0h2m-191 1h1m69 0h1m1 0h1m1 0h1m-10 1h1m-18 1h1m22 0h1m5 0h1m-12 1h1m1 0h1m2 0h1m111 0h1m7 0h1m-140 1h1m21 0h1m6 0h1m-12 1h1m1 0h1m105 0h1m-110 1h1m12 0h1m-3 1h1m101 0h1m-103 1h1m2 0h1m3 0h1m-88 1h1m81 0h1m2 0h1m4 1h1m-8 1h1m8 0h1m91 0h1m-85 1h1m87 0h1m-107 1h1m6 0h1m1 0h1m6 0h1m81 0h2m-88 1h1m83 0h1m6 0h1m-82 1h1m69 0h1m1 0h1m-69 1h1m4 0h1m2 0h1m1 0h1m-13 1h1m4 0h1m70 0h1m-72 1h1m-17 1h1m8 0h1m10 0h1m1 0h1m2 0h1m3 0h1m-40 1h1m29 0h1m54 0h1m9 0h1m1 0h1m7 0h1m-70 1h1m52 0h1m4 0h1m-75 1h1m9 0h1m49 1h1m1 0h1m11 0h1m3 0h1m-85 1h1m5 0h1m56 0h1m2 0h1m6 0h1m1 0h1m7 0h1m-52 1h1m28 0h1m18 0h1m19 0h1m-112 1h1m22 0h1m2 0h1m10 0h1m1 0h1m11 0h1m1 0h1m24 0h1m11 0h1m-70 1h1m8 0h1m17 0h1m22 0h1m12 0h1m-85 1h1m45 0h1m20 0h1m15 0h1m2 0h1m-79 1h1m3 0h1m2 0h1m9 0h1m2 0h1m4 0h1m4 0h1m9 0h1m1 0h1m2 0h1m27 0h1m15 0h2m-85 1h1m25 0h1m2 0h1m12 0h1m21 0h1m11 0h1m1 0h1m7 0h1m-99 1h1m32 0h1m13 0h1m25 0h1m1 0h1m-72 1h1m11 0h1m1 0h2m1 0h1m1 0h1m9 0h1m1 0h2m4 0h1m5 0h1m6 0h1m16 0h1m9 0h1m4 0h1m3 0h1m20 0h1m-153 1h1m55 0h1m10 0h1m2 0h1m1 0h1m41 0h1m17 0h1m2 0h1m8 0h1m20 0h1m-114 1h2m10 0h1m4 0h1m31 0h1m1 0h1m5 0h1m1 0h1m5 0h1m9 0h1m6 0h1m2 0h1m-71 1h1m5 0h1m1 0h1m16 0h1m1 0h1m23 0h1m6 0h1m12 0h1m-95 1h1m16 0h1m5 0h1m5 0h1m15 0h1m14 0h1m1 0h1m1 0h1m2 0h1m3 0h1m15 0h1m-40 1h1m2 0h1m18 0h1m10 0h1m48 0h1m-98 1h1m2 0h1m3 0h1m12 0h1m3 0h1m9 0h1m-45 1h1m14 0h1m8 0h1m1 0h1m11 0h1m12 0h2m1 0h1m-87 1h1m30 0h1m21 0h1m12 0h1m6 0h1m14 0h1m-37 1h1m8 0h1m-36 1h1m22 0h1m15 0h1m19 0h1m1 0h1m-18 1h1m-14 1h1m11 0h1m24 0h1m-44 1h1m12 0h1m-45 2h1m30 0h1m21 0h1m-40 2h1m31 1h1m-42 2h1m-3 2h1" stroke="#8a5630"/>
<path d="M186 25h1m-20 1h1m9 0h1m10 0h2m-31 1h2m6 0h2m19 0h1m-30 1h1m8 0h2m18 0h1m-34 1h1m12 0h1m4 0h4m5 0h1m-28 1h2m6 0h3m4 0h3m2 0h1m2 0h1m2 0h1m-25 1h2m10 0h1m3 0h1m7 0h1m3 0h1m-29 1h1m1 0h2m2 0h1m1 0h1m9 0h2m4 0h2m1 0h2m-28 1h1m8 0h1m14 0h1m-31 1h4m9 0h1m11 0h1m2 0h1m3 0h1m2 0h1m-34 1h2m1 0h1m23 0h1m1 0h1m2 0h1m1 0h1m-6 1h1m1 0h1m1 0h2m-34 1h2m24 0h1m1 0h1m3 0h1m-5 1h1m-46 1h2m9 0h3m1 0h2m29 0h1m7 0h1m-55 1h1m12 0h1m34 0h1m2 0h1m1 0h2m-40 1h1m32 0h1m3 0h1m-51 1h1m4 0h2m40 0h3m-49 1h1m3 0h1m3 0h1m37 0h2m-49 1h2m7 0h1m36 0h1m-46 1h1m4 0h2m3 0h1m36 0h1m4 0h1m-54 1h1m52 0h2m-64 1h1m2 0h3m1 0h2m2 0h1m2 0h1m42 0h1m-58 1h1m4 0h1m2 0h1m3 0h2m1 0h1m-17 1h2m4 0h1m51 0h2m-57 1h2m1 0h1m4 0h1m4 0h1m43 0h1m8 0h1m-68 1h1m2 0h2m2 0h1m49 0h2m-61 1h1m1 0h2m1 0h1m2 0h1m-14 1h1m6 0h1m2 0h2m1 0h1m53 0h3m-75 1h1m12 0h1m-17 1h2m15 0h1m57 0h1m-83 1h5m3 0h1m12 0h2m61 0h1m-98 1h3m13 0h1m6 0h1m10 0h2m1 0h1m58 0h2m-97 1h1m20 0h1m5 0h1m5 0h1m60 0h1m-67 1h2m1 0h1m2 0h2m59 0h1m1 0h1m-72 1h1m6 0h1m58 0h1m3 0h1m-70 1h2m1 0h2m1 0h1m-41 1h2m17 0h1m11 0h1m1 0h1m1 0h1m1 0h1m3 0h1m56 0h1m-98 1h1m12 0h1m2 0h2m2 0h1m5 0h3m3 0h1m5 0h2m57 0h2m-87 1h1m2 0h2m1 0h3m4 0h1m2 0h1m3 0h1m3 0h1m61 0h1m-97 1h1m2 0h1m5 0h1m11 0h1m5 0h1m67 0h1m1 0h2m-100 1h2m1 0h2m2 0h2m2 0h3m4 0h1m1 0h1m1 0h1m75 0h1m-102 1h3m2 0h2m1 0h1m5 0h1m4 0h1m1 0h1m6 0h1m72 0h1m-98 1h1m2 0h1m1 0h1m4 0h1m1 0h5m7 0h1m72 0h1m-100 1h2m1 0h1m5 0h2m1 0h1m14 0h1m1 0h1m69 0h1m-101 1h1m3 0h1m1 0h1m92 0h1m2 0h1m-111 1h3m1 0h2m1 0h1m103 0h1m-114 1h1m2 0h2m1 0h1m1 0h1m2 0h2m95 0h1m-108 1h1m6 0h1m2 0h1m95 0h1m1 0h1m-109 1h1m7 0h1m97 0h1m1 0h1m1 0h1m-110 1h1m1 0h1m100 0h1m1 0h2m1 0h1m1 0h1m-194 1h1m77 0h1m7 0h3m99 0h1m2 0h1m1 0h1m-194 1h1m75 0h1m1 0h1m4 0h2m103 0h1m1 0h1m-191 1h1m77 0h1m109 0h1m2 0h1m-192 1h1m76 0h1m3 0h1m106 0h1m1 0h1m-5 1h2m2 0h1m2 0h1m-113 1h1m110 0h3m-120 1h1m4 0h2m1 0h1m103 0h2m1 0h1m-112 1h1m110 0h2m-112 1h2m1 0h1m104 0h1m-110 1h2m108 0h1m-112 1h2m104 0h1m-104 1h1m107 0h1m-2 1h1m-113 1h2m4 0h1m107 0h1m-114 1h1m1 0h1m1 0h1m105 0h1m2 0h3m-128 1h1m12 0h1m1 0h1m108 0h1m2 0h1m-112 1h1m103 0h1m6 0h1m-112 1h1m103 0h1m-107 1h1m1 0h1m-13 1h1m8 0h1m1 0h1m103 0h1m2 0h1m-119 1h2m7 0h1m107 0h1m4 0h1m-123 1h1m7 0h1m108 0h1m5 0h1m-118 1h1m109 0h1m6 0h1m-193 1h1m72 0h2m1 0h1m1 0h1m105 0h1m8 0h1m-194 1h1m72 0h2m1 0h1m-77 1h1m67 0h1m1 0h1m4 0h2m1 0h3m102 0h1m-184 1h1m67 0h3m4 0h1m1 0h1m105 0h1m-184 1h1m74 0h1m1 0h2m104 0h1m-184 1h1m62 0h2m9 0h2m1 0h1m-78 1h1m63 0h1m13 0h1m-79 1h1m66 0h1m114 0h3m-119 1h2m112 0h1m-104 1h3m-3 1h1m99 0h1m1 0h1m1 0h2m2 0h1m-186 1h1m74 0h1m3 0h3m102 0h2m-186 1h1m64 0h1m8 0h2m6 0h1m99 0h1m-183 1h1m80 0h1m96 0h2m1 0h1m-182 1h1m82 0h1m92 0h1m-177 1h1m85 0h1m90 0h1m-178 1h1m83 0h1m2 0h2m5 0h1m81 0h1m-177 1h1m84 0h1m4 0h1m3 0h1m82 0h2m-179 1h1m85 0h1m4 0h2m1 0h1m5 0h1m77 0h2m1 0h1m-87 1h1m5 0h1m73 0h3m2 0h1m1 0h2m-85 1h1m2 0h2m69 0h1m4 0h1m3 0h1m-88 1h1m3 0h1m14 0h1m58 0h1m1 0h4m-84 1h2m1 0h1m4 0h2m1 0h1m1 0h2m3 0h1m71 0h1m-92 1h1m9 0h3m4 0h2m1 0h1m4 0h1m56 0h1m9 0h1m-97 1h1m18 0h1m3 0h1m1 0h4m2 0h1m2 0h1m47 0h1m1 0h1m-65 1h1m2 0h1m7 0h1m1 0h1m47 0h1m-51 1h1m2 0h2m44 0h1m-51 1h1m2 0h2m1 0h2m44 0h2m-53 1h2m6 0h2m28 0h1m1 0h1m4 0h4m-42 1h1m0 1h2m28 0h3m1 0h1m8 0h2m-55 1h1m13 0h1m27 0h2m1 0h1m-46 1h2m4 0h3m2 0h2m2 0h1m24 0h1m3 0h1m4 0h1m1 0h1m-59 1h1m8 0h3m1 0h1m1 0h1m3 0h1m23 0h1m13 0h3m-61 1h2m3 0h1m7 0h1m10 0h1m5 0h1m4 0h1m5 0h1m1 0h1m3 0h1m11 0h1m-56 1h3m5 0h2m11 0h2m1 0h1m4 0h1m10 0h2m1 0h1m4 0h1m-32 1h2m3 0h1m6 0h1m2 0h1m4 0h3m1 0h1m4 0h1m1 0h1m-54 1h1m17 0h1m4 0h1m9 0h1m1 0h2m15 0h1m-41 1h1m5 0h1m14 0h2m3 0h1m2 0h1m1 0h1m2 0h1m3 0h1m3 0h2m-43 1h2m4 0h1m15 0h2m2 0h1m1 0h1m5 0h2m1 0h1m3 0h1m-40 1h1m21 0h1m1 0h1m1 0h1m7 0h1m-30 1h1m16 0h1m1 0h1m1 0h1m1 0h1m1 0h1m1 0h1m-25 1h1m6 0h2m4 0h4m1 0h1m3 0h1m1 0h1m-25 1h2m5 0h1m3 0h1m1 0h1m8 0h1m-29 1h3m1 0h3m6 0h1m4 0h2m-19 1h1m1 0h1m2 0h1m12 0h1m12 0h1m16 0h1m-77 1h2m30 0h2m11 0h1m29 0h1m-75 1h1m22 0h1m9 0h1m4 0h2m-18 1h1m1 0h1m4 0h1m-9 1h2m17 0h1" stroke="#d2702e"/>
<path d="M164 31h2m4 0h1m-7 1h1m4 0h4m-13 1h2m1 0h2m4 0h5m2 0h1m6 0h1m-26 1h7m2 0h10m6 0h1m-26 1h3m1 0h2m1 0h13m6 0h1m-28 1h1m1 0h22m-24 1h24m-25 1h1m1 0h21m1 0h2m-27 1h3m1 0h21m1 0h3m-34 1h1m3 0h2m1 0h26m1 0h2m-35 1h1m2 0h32m-36 1h4m1 0h30m-35 1h35m-33 1h34m-38 1h1m5 0h29m1 0h3m-40 1h9m1 0h25m1 0h1m1 0h3m-42 1h42m-41 1h4m2 0h33m1 0h1m-45 1h2m3 0h40m-46 1h4m1 0h41m-48 1h3m1 0h1m1 0h38m1 0h2m-47 1h2m1 0h45m1 0h2m-52 1h2m1 0h47m1 0h2m-57 1h1m2 0h51m1 0h2m-57 1h57m-57 1h51m2 0h1m1 0h1m-56 1h35m1 0h20m-63 1h1m6 0h3m1 0h53m-64 1h1m5 0h55m1 0h2m-65 1h1m1 0h2m3 0h56m-57 1h54m2 0h1m-57 1h48m1 0h7m-78 1h1m10 0h2m5 0h1m4 0h4m1 0h49m-67 1h3m5 0h2m1 0h3m1 0h52m-66 1h2m5 0h5m1 0h21m1 0h32m-75 1h1m8 0h8m2 0h56m1 0h1m-79 1h1m1 0h2m7 0h6m1 0h18m1 0h41m-85 1h1m6 0h2m1 0h3m4 0h53m1 0h14m-91 1h2m5 0h1m1 0h1m2 0h6m1 0h1m3 0h69m-98 1h2m3 0h3m1 0h2m1 0h1m1 0h6m1 0h4m1 0h1m2 0h17m1 0h48m-95 1h3m1 0h1m1 0h1m1 0h88m-94 1h11m1 0h11m1 0h70m-94 1h77m1 0h14m-96 1h2m1 0h92m-96 1h7m1 0h88m6 0h1m-109 1h1m5 0h97m-110 1h1m7 0h2m2 0h99m-111 1h1m4 0h1m2 0h103m-106 1h2m1 0h2m1 0h75m1 0h21m1 0h1m-105 1h7m1 0h96m3 0h1m-108 1h1m2 0h49m1 0h51m2 0h2m-106 1h47m1 0h55m-103 1h103m-102 1h98m1 0h4m-105 1h101m1 0h3m-106 1h102m2 0h3m-107 1h2m1 0h17m1 0h40m1 0h39m1 0h1m1 0h2m-106 1h1m2 0h42m1 0h59m-104 1h13m1 0h86m1 0h4m-106 1h1m1 0h101m1 0h1m-105 1h37m1 0h67m-104 1h37m1 0h60m1 0h1m-100 1h101m-102 1h103m-102 1h59m1 0h41m-105 1h1m1 0h13m1 0h86m1 0h2m-106 1h1m1 0h4m1 0h57m1 0h41m-107 1h107m-104 1h16m1 0h45m1 0h38m1 0h1m-103 1h1m1 0h98m1 0h3m-103 1h68m1 0h33m-103 1h1m1 0h6m1 0h40m1 0h50m1 0h1m-102 1h98m1 0h3m-103 1h104m-103 1h81m1 0h21m-103 1h101m-101 1h100m-99 1h95m2 0h2m-100 1h2m1 0h29m1 0h64m-94 1h4m1 0h90m2 0h2m-98 1h39m1 0h48m1 0h8m-97 1h5m1 0h2m1 0h10m1 0h36m1 0h36m-93 1h2m1 0h87m-91 1h2m2 0h1m2 0h3m1 0h81m-85 1h3m3 0h6m1 0h73m-85 1h2m2 0h4m1 0h76m-81 1h1m1 0h2m2 0h75m-80 1h3m4 0h7m1 0h62m1 0h1m-79 1h3m7 0h9m1 0h57m-77 1h1m10 0h1m2 0h3m2 0h3m1 0h53m-61 1h1m4 0h3m1 0h5m1 0h43m1 0h2m1 0h3m-67 1h2m6 0h1m3 0h2m1 0h2m1 0h44m1 0h4m-66 1h1m14 0h27m1 0h7m1 0h9m1 0h1m-55 1h1m4 0h1m3 0h42m2 0h1m-49 1h1m5 0h25m1 0h16m-39 1h36m1 0h2m-38 1h27m3 0h4m6 0h2m-44 1h3m1 0h1m1 0h21m6 0h2m7 0h2m-42 1h2m1 0h15m1 0h8m-28 1h2m2 0h21m1 0h3m-25 1h3m1 0h1m1 0h11m1 0h1m1 0h1m1 0h2m-24 1h6m1 0h9m1 0h3m1 0h2m-21 1h3m2 0h3m3 0h4m5 0h1m-16 1h2m3 0h2m2 0h1m-4 1h4m-3 1h3m-6 1h2m4 0h1m-5 1h1m4 0h1m-2 1h3m-5 1h1m3 0h1m1 1h1" stroke="#ff6600"/>
<path d="M173 3h1m11 2h1m-22 2h1m2 0h1m1 1h1m11 0h2m-12 2h1m-9 1h1m16 0h1m-7 1h1m6 1h1m1 0h1m2 0h1m-35 1h1m15 0h2m2 0h1m4 0h1m6 1h1m-19 1h1m13 0h1m-18 1h1m19 0h1m-29 1h1m5 0h1m13 0h1m2 0h1m-22 1h1m3 0h1m5 0h1m5 0h1m16 0h1m1 0h1m-10 1h1m2 0h1m13 0h1m-23 1h1m21 0h1m-40 1h1m3 0h2m18 0h1m16 0h1m-50 1h1m14 0h1m4 0h1m-14 1h1m10 0h1m13 0h1m1 0h1m11 0h1m-40 1h1m-27 2h1m10 0h1m23 0h1m-7 1h1m2 0h1m-1 1h1m15 1h1m-12 1h1m7 4h1m-5 88h1m-6 14h1m-10 8h1m11 1h1m-2 4h1m0 1h1m9 2h1m-16 1h1m15 6h1m-33 1h1m27 0h1m-26 1h1m5 0h1m8 5h1m11 0h1m-6 1h1m-19 1h1m15 0h1m-6 1h1m6 1h1m-13 1h1m5 0h1m7 0h1m-20 1h1m15 1h1m2 1h1m-13 1h2m-5 2h1m5 1h1m-4 1h1m2 0h1m-14 3h1m20 0h1m-26 3h1m16 0h1m-11 2h1m11 0h1m12 1h1m-35 1h1m9 1h1m-8 1h1m1 0h1m13 0h1m-5 1h1m5 0h1m2 0h1m-16 1h1m14 1h1m-9 1h1m1 0h1m-6 1h1m6 0h1m1 0h1m-6 1h1m-5 1h1m-3 1h1m5 1h1m1 2h1m1 0h1m-24 1h1m7 0h1m4 0h1m0 2h1m11 0h1m1 0h1m-25 1h1m9 1h2m1 1h1m7 0h1m1 0h1m-12 3h1m-3 1h1m-5 1h1m7 1h1m3 0h1m-23 1h1m11 0h1m-12 1h1m14 0h1m14 0h1m-19 1h1m4 1h1m1 0h1m5 0h1m0 2h1m-15 1h1m5 1h1m-2 1h1m-7 1h1m15 1h1m1 3h1m-17 2h1m-10 1h1m3 2h1m-6 1h1m9 4h1m18 0h1m-20 1h1m-9 3h1m17 7h1m-11 1h1m9 3h1m-4 9h1m-4 1h1" stroke="#1a1a78"/>
<path d="M182 14h1m-7 1h1m6 0h1m-20 1h2m10 0h2m-2 3h2m-2 1h1m2 0h1m0 1h1m2 0h1m-3 1h1m1 0h1m-2 1h1m1 0h1m-11 1h3m4 0h2m-7 1h1m-15 169h2m-1 1h1m-1 1h1m3 3h1m-4 1h1m1 0h2m-3 1h1m0 1h1m-3 1h2m1 0h1m-4 1h2m1 0h1m0 1h1m-5 1h2m2 0h1m-2 1h1m-2 1h1m2 17h2m-3 1h2m-1 1h1" stroke="#1c1c9c"/>
<path d="M165 205h1m1 0h1m-2 1h2" stroke="#0a0af0"/></g>
<path d="M203.0 2289.0V2288.8H205.0V2288.3H207.0V2287.9H209.0V2287.4H211.0V2287.0H213.0V2286.9H215.0V2286.7H217.0V2286.6H219.0V2286.4H221.0V2286.3H223.0V2286.2H225.0V2286.0H227.0V2285.9H229.0V2285.4H231.0V2284.6H233.0V2283.8H235.0V2283.0H237.0V2282.3H239.0V2281.4H241.0V2280.0H243.0V2278.7H245.0V2277.3H247.0V2276.0H249.0V2274.6H251.0V2273.3H253.0V2272.2H255.0V2271.2H257.0V2270.2H259.0V2269.3H261.0V2264.8H263.0V2256.7H265.0V2250.1H267.0V2246.2H269.0V2242.0H271.0V2237.6H273.0V2231.5H275.0V2225.6H277.0V2219.4H279.0V2213.7H281.0V2205.4H283.0V2196.1H285.0V2188.1H287.0V2177.7H289.0V2168.7H291.0V2160.3H293.0V2157.7H295.0V2155.1H297.0V2151.6H299.0V2146.6H301.0V2141.2H303.0V2134.3H305.0V2122.5H307.0V2115.6H309.0V2102.4H311.0V2097.2H313.0V2089.7H315.0V2074.5H317.0V2066.8H319.0V2060.0H321.0V2047.3H323.0V2046.1H325.0V2035.4H327.0V2013.0H329.0V2007.4H331.0V1990.9H333.0V1980.0H335.0V1975.7H337.0V1965.9H339.0V1961.5H341.0V1943.4H343.0V1944.9H345.0V1936.2H347.0V1960.1H349.0V1968.6H351.0V1959.4H353.0V1984.4H355.0V2000.8H357.0V2013.6H359.0V2020.9H361.0V2043.1H363.0V2054.2H365.0V2071.2H367.0V2081.3H369.0V2103.0H371.0V2110.7H373.0V2126.3H375.0V2140.0H377.0V2153.8H379.0V2167.3H381.0V2178.1H383.0V2196.9H385.0V2204.5H387.0V2206.9H389.0V2209.1H391.0V2211.9H393.0V2215.6H395.0V2221.9H397.0V2228.0H399.0V2233.4H401.0V2238.8H403.0V2243.9H405.0V2248.8H407.0V2253.9H409.0V2259.2H411.0V2264.6H413.0V2269.9H415.0V2273.4H417.0V2276.4H419.0V2279.4H421.0V2282.4H423.0V2284.4H425.0V2285.8H427.0V2287.1H429.0V2288.2H431.0V2288.7H433.0V2289.0Z" fill="#a5a6be"/>
<path d="M203.0 2289.0V2288.8H205.0V2288.3H207.0V2287.9H209.0V2287.5H211.0V2287.0H213.0V2286.9H215.0V2286.8H217.0V2286.6H219.0V2286.5H221.0V2286.3H223.0V2286.2H225.0V2286.1H227.0V2285.9H229.0V2285.5H231.0V2284.7H233.0V2283.9H235.0V2283.2H237.0V2282.4H239.0V2281.5H241.0V2280.2H243.0V2278.9H245.0V2277.6H247.0V2276.2H249.0V2274.9H251.0V2273.6H253.0V2272.5H255.0V2271.6H257.0V2270.7H259.0V2269.7H261.0V2265.2H263.0V2257.4H265.0V2251.1H267.0V2247.3H269.0V2243.6H271.0V2239.0H273.0V2233.2H275.0V2227.4H277.0V2222.4H279.0V2215.9H281.0V2207.1H283.0V2199.6H285.0V2192.2H287.0V2183.6H289.0V2171.8H291.0V2167.7H293.0V2163.6H295.0V2159.4H297.0V2154.4H299.0V2152.0H301.0V2147.6H303.0V2140.7H305.0V2132.4H307.0V2122.9H309.0V2118.1H311.0V2106.2H313.0V2104.1H315.0V2095.7H317.0V2086.5H319.0V2078.9H321.0V2075.5H323.0V2051.8H325.0V2046.2H327.0V2041.7H329.0V2032.2H331.0V2021.0H333.0V1998.4H335.0V2015.8H337.0V1991.6H339.0V1979.8H341.0V1968.8H343.0V1956.6H345.0V2000.2H347.0V2011.4H349.0V1996.8H351.0V2004.8H353.0V2024.0H355.0V2032.9H357.0V2037.9H359.0V2046.2H361.0V2062.4H363.0V2073.2H365.0V2091.3H367.0V2101.2H369.0V2113.6H371.0V2123.0H373.0V2131.8H375.0V2149.0H377.0V2158.5H379.0V2170.5H381.0V2182.1H383.0V2200.1H385.0V2206.9H387.0V2210.0H389.0V2211.7H391.0V2214.1H393.0V2218.6H395.0V2223.8H397.0V2229.1H399.0V2235.2H401.0V2240.0H403.0V2245.0H405.0V2249.9H407.0V2254.7H409.0V2259.9H411.0V2265.1H413.0V2270.3H415.0V2273.7H417.0V2276.6H419.0V2279.6H421.0V2282.5H423.0V2284.5H425.0V2285.8H427.0V2287.2H429.0V2288.2H431.0V2288.7H433.0V2289.0Z" fill="#d1865e"/>
<path d="M381.7 2289.0V2182.1H383.0V2200.1H385.0V2206.9H387.0V2210.0H389.0V2211.7H391.0V2214.1H393.0V2218.6H395.0V2223.8H397.0V2229.1H399.0V2235.2H401.0V2240.0H403.0V2245.0H405.0V2249.9H407.0V2254.7H409.0V2259.9H411.0V2265.1H413.0V2270.3H415.0V2273.7H417.0V2276.6H419.0V2279.6H421.0V2282.5H423.0V2284.5H425.0V2285.8H427.0V2287.2H429.0V2288.2H431.0V2288.7H433.0V2289.0Z" fill="#b2665d"/>
<path d="M203.0 2289.0V2288.8H205.0V2288.3H207.0V2287.9H209.0V2287.4H211.0V2287.0H213.0V2286.9H215.0V2286.7H217.0V2286.6H219.0V2286.4H221.0V2286.3H223.0V2286.2H225.0V2286.0H227.0V2285.9H229.0V2285.4H231.0V2284.6H233.0V2283.8H235.0V2283.0H237.0V2282.3H239.0V2281.4H241.0V2280.0H243.0V2278.7H245.0V2277.3H247.0V2276.0H249.0V2274.6H251.0V2273.3H253.0V2272.2H255.0V2271.2H257.0V2270.2H259.0V2269.3H261.0V2264.8H263.0V2256.7H265.0V2250.1H267.0V2246.2H269.0V2242.0H271.0V2237.6H273.0V2231.5H275.0V2225.6H277.0V2219.4H279.0V2213.7H281.0V2205.4H283.0V2196.1H285.0V2188.1H287.0V2177.7H289.0V2168.7H291.0V2160.3H293.0V2157.7H295.0V2155.1H297.0V2151.6H299.0V2146.6H301.0V2141.2H303.0V2134.3H305.0V2122.5H307.0V2115.6H309.0V2102.4H311.0V2097.2H313.0V2089.7H315.0V2074.5H317.0V2066.8H319.0V2060.0H321.0V2047.3H323.0V2046.1H325.0V2035.4H327.0V2013.0H329.0V2007.4H331.0V1990.9H333.0V1980.0H335.0V1975.7H337.0V1965.9H339.0V1961.5H341.0V1943.4H343.0V1944.9H345.0V1936.2H347.0V1960.1H349.0V1968.6H351.0V1959.4H353.0V1984.4H355.0V2000.8H357.0V2013.6H359.0V2020.9H361.0V2043.1H363.0V2054.2H365.0V2071.2H367.0V2081.3H369.0V2103.0H371.0V2110.7H373.0V2126.3H375.0V2140.0H377.0V2153.8H379.0V2167.3H381.0V2178.1H383.0V2196.9H385.0V2204.5H387.0V2206.9H389.0V2209.1H391.0V2211.9H393.0V2215.6H395.0V2221.9H397.0V2228.0H399.0V2233.4H401.0V2238.8H403.0V2243.9H405.0V2248.8H407.0V2253.9H409.0V2259.2H411.0V2264.6H413.0V2269.9H415.0V2273.4H417.0V2276.4H419.0V2279.4H421.0V2282.4H423.0V2284.4H425.0V2285.8H427.0V2287.1H429.0V2288.2H431.0V2288.7H433.0V2289.0" fill="none" stroke="#373764" stroke-width="1.4"/>
<path d="M203.0 2289.0V2288.8H205.0V2288.3H207.0V2287.9H209.0V2287.5H211.0V2287.0H213.0V2286.9H215.0V2286.8H217.0V2286.6H219.0V2286.5H221.0V2286.3H223.0V2286.2H225.0V2286.1H227.0V2285.9H229.0V2285.5H231.0V2284.7H233.0V2283.9H235.0V2283.2H237.0V2282.4H239.0V2281.5H241.0V2280.2H243.0V2278.9H245.0V2277.6H247.0V2276.2H249.0V2274.9H251.0V2273.6H253.0V2272.5H255.0V2271.6H257.0V2270.7H259.0V2269.7H261.0V2265.2H263.0V2257.4H265.0V2251.1H267.0V2247.3H269.0V2243.6H271.0V2239.0H273.0V2233.2H275.0V2227.4H277.0V2222.4H279.0V2215.9H281.0V2207.1H283.0V2199.6H285.0V2192.2H287.0V2183.6H289.0V2171.8H291.0V2167.7H293.0V2163.6H295.0V2159.4H297.0V2154.4H299.0V2152.0H301.0V2147.6H303.0V2140.7H305.0V2132.4H307.0V2122.9H309.0V2118.1H311.0V2106.2H313.0V2104.1H315.0V2095.7H317.0V2086.5H319.0V2078.9H321.0V2075.5H323.0V2051.8H325.0V2046.2H327.0V2041.7H329.0V2032.2H331.0V2021.0H333.0V1998.4H335.0V2015.8H337.0V1991.6H339.0V1979.8H341.0V1968.8H343.0V1956.6H345.0V2000.2H347.0V2011.4H349.0V1996.8H351.0V2004.8H353.0V2024.0H355.0V2032.9H357.0V2037.9H359.0V2046.2H361.0V2062.4H363.0V2073.2H365.0V2091.3H367.0V2101.2H369.0V2113.6H371.0V2123.0H373.0V2131.8H375.0V2149.0H377.0V2158.5H379.0V2170.5H381.0V2182.1H383.0V2200.1H385.0V2206.9H387.0V2210.0H389.0V2211.7H391.0V2214.1H393.0V2218.6H395.0V2223.8H397.0V2229.1H399.0V2235.2H401.0V2240.0H403.0V2245.0H405.0V2249.9H407.0V2254.7H409.0V2259.9H411.0V2265.1H413.0V2270.3H415.0V2273.7H417.0V2276.6H419.0V2279.6H421.0V2282.5H423.0V2284.5H425.0V2285.8H427.0V2287.2H429.0V2288.2H431.0V2288.7H433.0V2289.0" fill="none" stroke="#ff6e14" stroke-width="1.2"/>
<path d="M381.7 2289.0V2180.4" stroke="#8c3c50" stroke-width="1.3"/>
<g transform="translate(798.00 1231.90) scale(1.5) translate(0 .5)" fill="none" stroke-width="1"><path d="M142 147h1m2 3h1m-3 1h1m31 0h1m-41 1h1m12 0h2m5 1h1m5 0h1m2 0h1m-29 1h1m4 0h1m18 0h1m-18 1h1m2 0h1m20 0h1m-67 1h1m29 0h1m2 0h1m2 0h1m16 0h1m-28 1h1m16 0h1m16 0h1m-37 1h1m10 0h1m31 0h1m27 0h1m-77 1h1m6 0h1m2 0h1m41 0h1m-48 1h1m5 0h1m1 0h1m44 0h1m-60 1h1m1 0h1m1 0h1m35 0h1m1 0h1m7 0h2m4 1h1m3 0h1m6 0h1m-87 1h1m16 0h1m4 0h1m2 0h1m22 0h1m12 0h1m-44 1h1m52 0h1m1 0h2m-14 1h1m-35 1h1m39 0h1m8 0h1m-35 1h1m16 0h1m11 0h1m29 0h1m-79 1h1m40 0h1m1 0h1m5 0h1m-59 1h1m8 0h1m8 0h1m1 0h1m-49 1h1m43 0h1m36 0h1m-46 1h1m2 0h1m2 0h1m2 0h1m1 0h1m26 0h1m-67 1h1m69 0h1m8 0h1m15 0h1m-11 1h1m4 0h1m-56 1h1m6 0h1m14 0h1m20 0h1m1 1h1m40 1h1m-126 1h2m22 0h1m14 0h1m7 0h1m18 0h1m2 0h1m8 0h1m6 0h1m-68 1h1m57 0h1m-44 1h1m5 0h1m3 0h1m37 0h1m-45 1h1m39 0h1m7 0h1m8 0h1m-121 1h1m34 0h1m12 0h1m8 0h1m8 0h1m-36 1h1m14 0h1m19 0h1m51 0h1m3 0h1m9 0h1m-114 1h1m34 0h1m3 0h1m51 0h2m7 0h1m-86 1h1m13 0h1m11 0h1m1 0h1m1 0h1m3 0h1m36 0h1m1 0h1m-86 1h1m15 0h1m8 0h1m11 0h1m51 0h1m1 0h1m-106 1h1m28 0h1m19 0h1m4 0h1m2 0h2m1 0h1m6 0h1m18 0h1m31 0h1m-68 1h2m12 0h1m26 0h1m13 0h1m11 0h1m-71 1h1m-23 1h1m20 0h1m58 0h1m-86 1h1m16 0h1m11 0h1m9 0h1m-65 1h1m44 0h1m5 0h1m1 0h1m37 0h1m22 0h1m16 0h1m-122 1h1m23 0h1m16 0h1m3 0h1m2 0h1m3 0h1m1 0h1m36 0h1m1 0h1m3 0h1m2 0h1m17 0h1m-93 1h1m22 0h1m38 0h1m17 0h1m23 0h1m-135 1h2m12 0h1m12 0h1m7 0h1m7 0h1m1 0h1m9 0h1m2 0h1m54 0h1m-98 1h1m8 0h1m38 0h1m22 0h1m11 0h1m-81 1h1m3 0h1m11 0h2m9 0h2m4 0h1m4 0h2m26 0h1m9 0h1m7 0h1m7 0h1m-109 1h1m23 0h1m37 0h1m35 0h1m4 0h1m1 0h1m3 0h1m17 0h1m-122 1h1m22 0h1m9 0h1m4 0h1m9 0h2m34 0h1m-78 1h1m67 0h1m1 0h1m23 0h1m-80 1h1m1 0h1m2 0h1m8 0h2m8 0h1m1 0h1m30 0h1m6 0h1m-80 1h2m24 0h1m5 0h1m36 0h1m56 0h1m-137 1h1m25 0h1m5 0h1m14 0h1m2 0h1m39 0h1m14 0h1m-114 1h1m60 0h1m38 0h1m-104 1h1m11 0h1m21 0h1m2 0h1m2 0h1m1 0h1m9 0h1m5 0h1m27 0h1m12 0h1m13 0h1m33 0h1m-144 1h1m20 0h1m5 0h1m1 0h1m16 0h1m53 0h1m31 0h1m-149 1h1m27 0h1m21 0h1m2 0h1m3 0h1m4 0h1m2 0h1m48 0h1m10 0h1m-84 1h1m12 0h1m13 0h1m40 0h1m-61 1h1m5 0h1m3 0h2m4 0h1m47 0h1m1 0h1m7 0h1m1 0h1m12 0h1m-152 1h1m41 0h1m42 0h1m6 0h1m37 0h1m11 0h1m-163 1h1m41 0h1m20 0h1m10 0h1m11 0h1m1 0h1m1 0h1m4 0h1m40 0h1m50 0h1m-119 1h1m22 0h1m47 0h1m11 0h1m13 0h1m-109 1h1m12 0h1m4 0h1m22 0h1m5 0h1m1 0h1m27 0h1m19 0h1m4 0h1m-105 1h1m8 0h1m16 0h1m6 0h1m11 0h1m40 0h1m24 0h1m-162 1h1m13 0h1m24 0h1m18 0h1m23 0h1m4 0h1m44 0h1m13 0h1m3 0h1m37 0h1m-149 1h1m30 0h1m3 0h1m2 0h1m1 0h1m57 0h1m1 0h1m16 0h1m-103 1h1m9 0h1m11 0h1m5 0h1m52 0h1m10 0h1m14 0h1m9 0h1m-139 1h1m1 0h1m11 0h2m7 0h1m2 0h1m8 0h1m2 0h1m6 0h1m22 0h1m41 0h1m3 0h1m11 0h1m1 0h1m10 0h1m-123 1h1m25 0h1m5 0h1m4 0h1m-63 1h1m18 0h1m13 0h1m3 0h2m3 0h1m70 0h2m2 0h1m4 0h1m-133 1h1m26 0h1m22 0h1m6 0h1m16 0h1m75 0h1m-123 1h1m14 0h1m3 0h1m5 0h1m1 0h1m4 0h1m2 0h1m13 0h1m39 0h1m9 0h1m2 0h1m-159 1h1m45 0h1m19 0h1m11 0h1m4 0h1m2 0h1m60 0h1m29 0h1m1 0h1m-175 1h1m19 0h1m8 0h1m7 0h1m34 0h1m3 0h1m9 0h1m60 0h1m3 0h1m-146 1h1m11 0h1m20 0h1m2 0h1m9 0h1m28 0h1m54 0h1m3 0h1m4 0h1m8 0h1m17 0h1m-132 1h1m2 0h1m10 0h1m8 0h1m6 0h1m1 0h1m1 0h1m1 0h1m8 0h1m2 0h1m57 0h1m10 0h1m5 0h1m-117 1h1m32 0h1m13 0h1m41 0h1m15 0h1m-105 1h1m8 0h1m9 0h1m4 0h1m11 0h1m11 0h1m49 0h1m8 0h1m-133 1h1m39 0h1m11 0h1m4 0h1m59 0h1m21 0h1m-145 1h1m17 0h1m10 0h1m6 0h2m1 0h1m11 0h1m1 0h1m5 0h1m4 0h1m78 0h1m-117 1h1m2 0h1m3 0h1m14 0h1m3 0h1m69 0h1m7 0h1m1 0h1m-114 1h1m21 0h1m81 0h1m13 0h1m15 0h1m11 0h1m-150 1h1m27 0h1m4 0h1m26 0h1m38 0h1m12 0h1m7 0h1m3 0h1m10 0h1m-166 1h1m27 0h1m8 0h1m7 0h1m20 0h2m1 0h1m1 0h1m4 0h1m56 0h1m1 0h1m1 0h1m7 0h1m2 0h1m4 0h1m13 0h1m7 0h1m-121 1h1m8 0h1m19 0h1m1 0h1m-54 1h1m1 0h1m14 0h1m10 0h1m3 0h1m11 0h1m68 0h1m1 0h1m11 0h1m-147 1h1m5 0h1m12 0h1m7 0h1m2 0h1m8 0h1m19 0h1m1 0h1m16 0h1m45 0h1m5 0h1m10 0h1m-170 1h1m3 0h1m7 0h1m13 0h1m26 0h1m8 0h1m6 0h1m4 0h1m2 0h2m75 0h1m17 0h1m-101 1h1m15 0h1m63 0h1m16 0h1m1 0h1m-161 1h1m8 0h1m10 0h1m21 0h1m14 0h1m22 0h1m73 0h1m-152 1h1m42 0h1m13 0h1m3 0h1m14 0h1m58 0h1m7 0h1m1 0h1m3 0h1m-117 1h1m16 0h1m4 0h1m7 0h1m10 0h1m-43 1h1m38 0h1m11 0h1m2 0h1m71 0h1m-138 1h1m2 0h1m12 0h1m12 0h1m3 0h1m4 0h1m13 0h1m9 0h1m3 0h1m53 0h1m-156 1h1m49 0h1m3 0h1m2 0h1m3 0h1m13 0h1m3 0h1m9 0h1m5 0h1m3 0h1m49 0h1m1 0h1m53 0h1m-214 1h1m46 0h1m20 0h1m55 0h1m-101 1h1m47 0h1m8 0h1m33 0h1m43 0h1m4 0h1m-123 1h1m3 0h1m13 0h2m1 0h1m1 0h1m32 0h1m57 0h1m4 0h1m14 0h2m-153 1h1m41 0h1m4 0h1m1 0h1m3 0h1m1 0h1m8 0h1m-67 1h1m20 0h1m7 0h1m11 0h1m17 0h1m71 0h1m3 0h1m4 0h1m11 0h1m2 0h1m-180 1h1m29 0h1m16 0h1m8 0h1m8 0h1m2 0h1m5 0h1m1 0h1m31 0h1m92 0h1m-183 1h1m19 0h1m8 0h1m9 0h1m96 0h1m6 0h1m3 0h1m-110 1h1m10 0h1m11 0h1m1 0h1m91 0h1m-109 1h1m1 0h1m1 0h1m8 0h1m4 0h1m27 0h1m51 0h1m4 0h1m1 0h1m-133 1h1m1 0h1m18 0h1m11 0h1m9 0h1m5 0h1m5 0h1m4 0h1m61 0h1m2 0h1m-122 1h1m17 0h1m4 0h1m12 0h1m3 0h1m1 0h1m62 0h1m9 0h1m15 0h1m8 0h1m-147 1h1m26 0h1m2 0h1m3 0h1m46 0h1m43 0h1m-144 1h1m33 0h1m5 0h1m22 0h1m19 0h1m53 0h1m2 0h1m1 0h1m16 0h1m-140 1h1m8 0h1m13 0h1m10 0h1m1 0h1m2 0h1m1 0h1m5 0h1m12 0h1m8 0h1m58 0h1m-164 1h1m18 0h1m28 0h1m12 0h1m4 0h1m87 0h1m5 0h1m-129 1h1m29 0h1m45 0h1m41 0h1m11 0h1m6 0h1m-120 1h1m1 0h1m11 0h1m14 0h1m15 0h1m1 0h1m56 0h1m22 0h1m-156 1h1m26 0h1m13 0h1m7 0h2m8 0h1m5 0h1m36 0h1m31 0h1m-120 1h1m4 0h1m4 0h1m21 0h1m4 0h1m16 0h1m3 0h1m15 0h1m47 0h1m3 0h1m1 0h1m1 0h1m-102 1h2m8 0h1m1 0h2m6 0h1m72 0h1m1 0h1m8 0h1m-95 1h1m14 0h1m24 0h1m63 0h1m-130 1h1m3 0h1m14 0h1m7 0h1m39 0h2m27 0h1m5 0h1m10 0h1m5 0h1m-123 1h1m15 0h1m5 0h1m10 0h1m4 0h1m27 0h1m45 0h1m-156 1h1m55 0h1m23 0h1m84 0h1m-62 1h1m5 0h1m-110 1h1m56 0h1m64 0h1m30 0h1m10 0h1m5 0h1m-119 1h1m4 0h1m4 0h1m1 0h1m2 0h1m1 0h1m1 0h1m20 0h1m6 0h1m3 0h1m2 0h1m75 0h1m-146 1h1m6 0h1m1 0h1m12 0h1m21 0h1m63 0h1m4 0h1m14 0h1m-172 1h1m67 0h1m1 0h1m4 0h1m83 0h1m3 0h1m-153 1h1m16 0h1m16 0h1m15 0h1m6 0h1m39 0h1m5 0h1m-54 1h1m9 0h1m1 0h2m1 0h1m35 0h1m45 0h1m4 0h1m-93 1h1m9 0h1m11 0h1m1 0h1m1 0h1m5 0h1m11 0h1m3 0h1m4 0h1m31 0h1m-102 1h1m3 0h1m3 0h1m4 0h2m5 0h1m3 0h1m5 0h1m3 0h1m1 0h1m18 0h1m48 0h1m8 0h1m-143 1h1m2 0h1m12 0h1m5 0h1m3 0h1m8 0h1m11 0h1m21 0h1m9 0h1m6 0h1m42 0h1m3 0h1m6 0h1m3 0h1m-120 1h1m5 0h1m6 0h1m2 0h1m12 0h1m16 0h1m2 0h1m1 0h1m2 0h1m1 0h1m7 0h1m76 0h1m-171 1h1m7 0h1m7 0h1m4 0h1m32 0h1m1 0h1m12 0h1m1 0h1m15 0h1m1 0h1m47 0h1m-133 1h1m27 0h1m16 0h1m13 0h2m1 0h1m8 0h1m6 0h1m16 0h1m2 0h1m27 0h1m4 0h1m-120 1h1m20 0h1m5 0h1m1 0h1m4 0h1m2 0h1m1 0h1m32 0h1m4 0h1m2 0h1m27 0h1m4 0h1m-114 1h1m19 0h1m21 0h1m6 0h1m5 0h1m2 0h1m37 0h1m22 0h1m-89 1h1m6 0h1m4 0h1m3 0h1m8 0h1m13 0h1m12 0h1m29 0h1m9 0h1m4 0h2m-112 1h1m2 0h1m5 0h1m5 0h1m1 0h1m4 0h1m10 0h1m6 0h1m13 0h1m37 0h1m6 0h1m-138 1h1m44 0h1m1 0h1m2 0h1m17 0h2m14 0h1m5 0h1m12 0h1m29 0h1m6 0h1m7 0h1m-110 1h1m4 0h1m37 0h1m1 0h1m26 0h1m14 0h1m1 0h1m14 0h1m-91 1h1m3 0h1m2 0h1m5 0h1m5 0h1m30 0h1m26 0h1m10 0h1m3 0h1m4 0h1m-95 1h1m25 0h1m9 0h1m35 0h1m8 0h1m-158 1h1m36 0h1m25 0h1m5 0h1m17 0h1m1 0h1m3 0h1m10 0h1m46 0h2m1 0h1m2 0h1m-166 1h1m46 0h1m8 0h1m9 0h1m6 0h1m13 0h1m3 0h1m7 0h1m18 0h1m43 0h1m11 0h1m4 0h1m-129 1h1m25 0h1m15 0h1m3 0h1m7 0h1m22 0h1m31 0h1m-95 1h1m14 0h1m9 0h1m14 0h1m1 0h1m26 0h1m23 0h1m8 0h1m-165 1h1m35 0h1m10 0h1m32 0h1m15 0h1m1 0h1m13 0h1m48 0h1m4 0h1m-155 1h1m44 0h1m2 0h1m4 0h1m1 0h1m1 0h1m5 0h1m15 0h1m1 0h1m4 0h1m5 0h1m5 0h1m4 0h1m9 0h1m18 0h1m13 0h1m-128 1h1m15 0h1m26 0h1m2 0h1m4 0h1m3 0h1m36 0h1m5 0h1m1 0h1m9 0h1m14 0h1m7 0h1m-127 1h1m15 0h1m5 0h1m1 0h1m1 0h2m16 0h1m5 0h1m5 0h1m17 0h1m3 0h2m28 0h1m1 0h1m5 0h1m1 0h1m5 0h1m2 0h1m6 0h2m27 0h1m-151 1h1m6 0h1m32 0h1m39 0h1m-99 1h1m42 0h1m9 0h1m1 0h1m21 0h1m7 0h1m4 0h1m-76 1h1m12 0h1m3 0h1m2 0h1m10 0h1m21 0h1m10 0h1m17 0h1m1 0h1m25 0h1m1 0h1m5 0h1m-112 1h1m10 0h1m7 0h2m3 0h1m3 0h1m3 0h1m1 0h1m1 0h1m4 0h1m9 0h1m2 0h1m25 0h1m24 0h1m7 0h1m-118 1h1m6 0h1m37 0h1m18 0h1m2 0h1m32 0h1m-157 1h1m40 0h1m37 0h1m5 0h1m1 0h1m5 0h1m4 0h1m12 0h1m4 0h1m46 0h1m7 0h1m9 0h1m24 0h1m-170 1h1m45 0h1m8 0h1m11 0h1m15 0h1m2 0h1m2 0h1m28 0h1m2 0h1m4 0h1m3 0h1m25 0h1m-141 1h1m41 0h1m2 0h1m66 0h1m11 0h1m-121 1h1m35 0h1m6 0h1m25 0h1m6 0h1m21 0h1m3 0h1m1 0h2m4 0h1m-138 1h1m22 0h1m15 0h1m33 0h1m12 0h1m10 0h1m43 0h1m-90 1h2m26 0h1m9 0h1m31 0h1m1 0h1m9 0h1m1 0h1m2 0h1m-136 1h1m59 0h1m8 0h1m52 0h1m-61 1h1m16 0h1m1 0h1m11 0h1m1 0h1m3 0h1m7 0h1m12 0h1m-81 1h1m30 0h1m17 0h1m32 0h1m2 0h1m-88 1h1m12 0h1m5 0h1m9 0h1m7 0h1m1 0h1m3 0h1m9 0h1m16 0h2m7 0h1m-76 1h1m31 0h1m9 0h1m15 0h1m3 0h1m1 0h1m5 0h1m4 0h1m7 0h1m1 0h1m1 0h1m1 0h1m-90 1h1m8 0h2m9 0h1m33 0h1m5 0h1m7 0h1m8 0h1m-60 1h1m7 0h1m11 0h1m12 0h1m5 0h1m5 0h1m14 0h1m-76 1h1m6 0h1m38 0h1m11 0h1m3 0h1m8 0h1m7 1h1m1 0h1m-160 1h1m4 0h1m8 0h1m2 0h1m3 0h1m3 0h1m7 0h1m1 0h1m4 0h1m2 0h1m1 0h1m-44 1h1m2 0h1m4 0h1m4 0h1m21 0h1m2 0h1m6 0h1m2 0h1m8 0h1m103 0h1" stroke="#23233a"/>
<path d="M144 151h1m2 5h1m1 0h2m-13 1h2m6 0h1m3 0h1m6 0h4m4 0h1m-27 1h1m4 0h1m1 0h4m3 0h5m6 0h2m-29 1h1m1 0h1m1 0h1m2 0h2m1 0h1m5 0h1m4 0h1m8 0h1m-32 1h2m1 0h1m2 0h1m2 0h1m2 0h1m2 0h2m1 0h1m11 0h1m-34 1h1m1 0h2m7 0h2m1 0h4m7 0h1m8 0h1m-40 1h1m1 0h3m5 0h1m7 0h1m4 0h1m1 0h1m12 0h2m-40 1h1m3 0h1m2 0h4m8 0h1m2 0h1m8 0h2m2 0h2m2 0h1m1 0h2m-42 1h2m1 0h3m2 0h1m2 0h1m13 0h1m9 0h1m2 0h2m-40 1h1m6 0h1m3 0h1m7 0h2m9 0h1m-27 1h2m3 0h2m14 0h2m3 0h1m-29 1h2m3 0h2m5 0h1m5 0h1m2 0h2m3 0h1m3 0h1m4 0h1m-35 1h1m7 0h1m8 0h1m7 0h1m3 0h3m-28 1h1m4 0h1m5 0h1m2 0h2m1 0h1m1 0h4m1 0h1m8 0h2m-37 1h1m1 0h1m11 0h2m1 0h1m7 0h1m10 0h1m-33 1h1m8 0h1m1 0h1m1 0h3m1 0h1m2 0h1m-33 1h1m12 0h1m4 0h2m3 0h1m6 0h2m-33 1h2m11 0h1m8 0h1m1 0h1m4 0h1m2 0h1m14 0h1m-41 1h2m3 0h2m1 0h1m1 0h1m1 0h2m1 0h1m1 0h2m2 0h2m1 0h1m3 0h2m-30 1h1m6 0h2m1 0h1m1 0h1m1 0h1m1 0h1m6 0h2m4 0h1m-30 1h2m5 0h1m1 0h1m2 0h1m1 0h2m1 0h1m2 0h3m7 0h1m12 0h1m-45 1h2m5 0h2m1 0h1m1 0h2m1 0h1m2 0h3m9 0h1m-22 1h1m5 0h1m6 0h2m7 0h1m-22 1h1m1 0h2m1 0h1m1 0h3m3 0h2m1 0h2m3 0h2m-30 1h4m1 0h1m6 0h2m1 0h1m2 0h1m2 0h1m1 0h1m1 0h1m4 0h2m-31 1h1m2 0h1m15 0h1m4 0h1m2 0h1m2 0h1m-40 1h2m6 0h1m10 0h1m1 0h1m1 0h1m6 0h1m1 0h1m-33 1h1m17 0h1m7 0h1m1 0h1m1 0h1m1 0h1m1 0h1m1 0h1m-30 1h4m1 0h3m1 0h1m1 0h1m1 0h1m7 0h1m6 0h1m-25 1h1m12 0h1m1 0h1m8 0h1m-27 1h2m4 0h1m6 0h1m5 0h2m6 0h1m13 0h1m-50 1h1m5 0h2m6 0h1m14 0h1m1 0h1m2 0h2m-35 1h1m10 0h1m18 0h1m1 0h1m-35 1h2m7 0h1m1 0h1m2 0h2m11 0h1m1 0h3m2 0h1m2 0h3m-39 1h1m6 0h1m1 0h4m10 0h1m4 0h1m5 0h2m1 0h1m-54 1h1m22 0h2m4 0h1m2 0h1m9 0h1m2 0h1m-46 1h1m1 0h1m21 0h1m2 0h1m1 0h1m2 0h1m1 0h1m9 0h1m4 0h4m8 0h2m-62 1h2m18 0h1m2 0h1m1 0h2m2 0h1m1 0h1m2 0h3m7 0h4m3 0h2m8 0h1m11 0h2m-87 1h1m12 0h1m21 0h1m18 0h2m7 0h1m1 0h1m-38 1h1m5 0h3m3 0h1m1 0h1m4 0h2m8 0h2m6 0h1m-38 1h2m5 0h1m2 0h1m25 0h2m8 0h1m-50 1h1m2 0h1m5 0h1m2 0h1m3 0h1m23 0h1m-52 1h1m11 0h2m7 0h1m1 0h1m3 0h1m5 0h1m17 0h1m-69 1h1m8 0h1m6 0h2m21 0h1m2 0h1m25 0h1m-70 1h1m1 0h1m34 0h1m22 0h1m7 0h1m-68 1h2m25 0h2m6 0h3m15 0h1m5 0h1m4 0h1m2 0h2m3 0h1m-49 1h1m3 0h1m9 0h2m16 0h1m2 0h1m2 0h1m1 0h1m-49 1h3m6 0h1m1 0h1m10 0h1m1 0h1m4 0h1m13 0h6m-48 1h1m8 0h1m1 0h1m5 0h1m1 0h1m2 0h1m1 0h1m1 0h1m7 0h1m4 0h1m9 0h2m-54 1h1m2 0h1m9 0h1m3 0h2m1 0h1m2 0h1m6 0h2m15 0h2m2 0h1m4 0h1m-40 1h1m1 0h1m1 0h1m1 0h1m1 0h3m9 0h1m4 0h1m1 0h1m1 0h1m3 0h2m1 0h1m2 0h1m6 0h2m-53 1h1m7 0h1m3 0h1m18 0h2m6 0h1m2 0h1m9 0h1m-47 1h1m3 0h3m3 0h1m12 0h1m8 0h1m1 0h3m8 0h1m-73 1h1m24 0h2m3 0h1m2 0h1m3 0h1m9 0h2m2 0h1m1 0h2m9 0h2m-67 1h3m19 0h2m3 0h1m3 0h2m1 0h1m17 0h1m4 0h2m3 0h1m3 0h1m-59 1h1m2 0h1m2 0h1m6 0h1m1 0h1m2 0h2m6 0h1m2 0h1m12 0h1m2 0h1m1 0h1m6 0h2m-61 1h2m2 0h2m6 0h1m4 0h1m14 0h1m3 0h1m15 0h1m1 0h1m33 0h1m-98 1h1m8 0h1m17 0h1m7 0h1m1 0h1m1 0h1m23 0h2m-66 1h3m6 0h2m16 0h1m2 0h1m3 0h2m1 0h2m1 0h1m21 0h1m2 0h1m-63 1h1m6 0h1m11 0h1m5 0h4m1 0h1m6 0h1m6 0h1m21 0h1m-49 1h1m1 0h2m1 0h1m1 0h1m4 0h1m1 0h2m27 0h1m2 0h3m4 0h1m-53 1h1m2 0h1m1 0h1m2 0h2m3 0h1m1 0h2m3 0h1m22 0h2m-60 1h2m6 0h1m2 0h1m4 0h1m8 0h2m7 0h1m25 0h4m-64 1h1m1 0h1m7 0h3m3 0h1m7 0h1m8 0h3m19 0h3m6 0h2m1 0h1m-54 1h2m1 0h1m7 0h2m1 0h1m1 0h1m5 0h1m21 0h1m1 0h3m3 0h2m-63 1h1m7 0h1m3 0h1m3 0h1m14 0h1m1 0h1m18 0h1m-66 1h1m21 0h2m2 0h2m11 0h1m23 0h1m3 0h3m11 0h1m-81 1h1m12 0h2m6 0h1m1 0h2m2 0h4m2 0h1m11 0h1m22 0h1m4 0h1m-74 1h1m6 0h1m4 0h1m1 0h1m5 0h1m4 0h1m4 0h1m6 0h3m1 0h1m32 0h1m3 0h1m-84 1h2m16 0h1m9 0h2m2 0h3m1 0h3m5 0h1m23 0h1m8 0h1m-76 1h1m6 0h1m18 0h1m5 0h1m4 0h1m2 0h1m2 0h1m1 0h1m4 0h2m16 0h1m3 0h1m1 0h1m2 0h1m-55 1h2m1 0h1m4 0h1m1 0h1m7 0h1m1 0h1m28 0h2m2 0h1m9 0h1m-67 1h2m2 0h1m1 0h1m6 0h5m2 0h1m2 0h1m1 0h1m3 0h1m1 0h1m18 0h1m6 0h1m9 0h2m-90 1h2m19 0h1m6 0h1m3 0h1m10 0h2m2 0h1m1 0h2m12 0h1m1 0h2m6 0h1m5 0h1m-80 1h1m12 0h1m1 0h2m5 0h1m3 0h1m4 0h1m1 0h1m1 0h2m7 0h3m9 0h1m1 0h1m4 0h1m4 0h2m1 0h1m2 0h1m4 0h2m-67 1h3m1 0h1m1 0h1m1 0h1m1 0h1m2 0h2m3 0h1m3 0h1m1 0h1m3 0h1m4 0h1m8 0h1m1 0h1m4 0h1m1 0h3m4 0h1m-60 1h1m4 0h1m2 0h1m1 0h2m6 0h1m2 0h2m7 0h1m10 0h1m1 0h1m-59 1h1m13 0h2m20 0h2m1 0h1m1 0h1m2 0h1m11 0h3m9 0h1m2 0h1m1 0h2m-88 1h1m11 0h1m1 0h1m9 0h1m4 0h1m6 0h1m7 0h2m2 0h1m2 0h2m1 0h1m1 0h1m8 0h1m18 0h2m4 0h1m1 0h1m-93 1h1m11 0h1m1 0h1m10 0h1m2 0h1m1 0h1m7 0h1m6 0h1m2 0h1m1 0h1m4 0h1m14 0h1m16 0h2m1 0h2m-79 1h2m9 0h1m1 0h1m9 0h1m2 0h1m2 0h2m1 0h1m3 0h2m1 0h2m2 0h2m12 0h1m1 0h1m5 0h1m4 0h1m3 0h2m-81 1h1m15 0h1m1 0h1m7 0h3m1 0h2m1 0h2m12 0h1m9 0h1m4 0h1m1 0h1m10 0h2m1 0h1m2 0h1m1 0h2m-85 1h1m14 0h1m15 0h1m1 0h1m2 0h2m1 0h4m1 0h3m8 0h1m8 0h1m4 0h2m3 0h2m1 0h1m3 0h1m1 0h1m-69 1h2m1 0h3m6 0h2m5 0h1m2 0h3m8 0h1m1 0h1m4 0h1m9 0h1m1 0h1m9 0h1m1 0h1m-62 1h1m2 0h1m6 0h1m1 0h2m3 0h1m5 0h3m4 0h1m21 0h1m2 0h1m1 0h1m1 0h1m6 0h2m-83 1h1m7 0h1m1 0h2m1 0h2m8 0h1m1 0h1m7 0h1m3 0h1m9 0h1m3 0h2m19 0h1m4 0h1m2 0h2m1 0h2m-76 1h2m1 0h1m10 0h2m8 0h3m1 0h2m1 0h2m3 0h1m12 0h1m11 0h1m5 0h2m2 0h1m2 0h1m-50 1h1m2 0h2m2 0h1m1 0h1m1 0h1m9 0h1m14 0h1m1 0h1m8 0h1m1 0h1m-72 1h1m3 0h1m21 0h1m7 0h1m22 0h1m1 0h1m12 0h1m-90 1h1m3 0h2m10 0h2m3 0h1m5 0h2m2 0h2m3 0h2m1 0h1m6 0h1m2 0h1m3 0h1m18 0h2m2 0h4m1 0h1m2 0h1m-84 1h1m1 0h1m1 0h1m11 0h1m2 0h1m1 0h1m1 0h1m4 0h1m1 0h1m1 0h1m2 0h1m2 0h2m6 0h1m28 0h1m4 0h1m2 0h1m-83 1h1m11 0h2m2 0h1m4 0h1m3 0h1m1 0h1m1 0h1m2 0h1m1 0h1m3 0h1m1 0h1m1 0h2m4 0h1m1 0h1m1 0h1m13 0h1m4 0h1m2 0h6m-68 1h1m4 0h3m5 0h1m4 0h3m2 0h1m1 0h1m4 0h1m3 0h1m1 0h1m1 0h1m2 0h3m16 0h1m3 0h1m-80 1h1m3 0h2m7 0h3m3 0h1m5 0h1m1 0h1m1 0h1m2 0h1m8 0h1m4 0h1m12 0h1m13 0h1m6 0h2m-73 1h1m3 0h1m2 0h3m3 0h1m1 0h1m1 0h2m1 0h1m2 0h1m4 0h1m1 0h1m1 0h1m7 0h1m2 0h1m3 0h1m1 0h1m19 0h1m1 0h1m10 0h1m-82 1h1m4 0h1m3 0h1m2 0h2m4 0h2m1 0h1m1 0h1m2 0h2m3 0h1m1 0h1m5 0h1m1 0h1m1 0h2m1 0h1m24 0h1m3 0h3m2 0h2m-89 1h1m12 0h3m1 0h1m3 0h3m5 0h1m2 0h1m2 0h1m2 0h1m3 0h2m2 0h1m2 0h1m3 0h1m14 0h2m5 0h1m6 0h1m-84 1h1m1 0h1m11 0h1m2 0h1m9 0h1m6 0h2m4 0h3m2 0h2m1 0h2m2 0h1m1 0h1m1 0h1m10 0h1m6 0h1m1 0h1m6 0h1m-83 1h1m14 0h1m4 0h3m6 0h1m3 0h1m4 0h1m5 0h1m1 0h2m3 0h1m1 0h1m1 0h1m5 0h1m5 0h1m1 0h2m1 0h1m1 0h1m2 0h2m2 0h1m-86 1h1m4 0h1m13 0h1m9 0h1m1 0h2m2 0h1m1 0h1m3 0h1m6 0h1m4 0h1m3 0h1m13 0h1m2 0h1m3 0h2m4 0h1m-81 1h2m8 0h1m1 0h2m2 0h1m1 0h1m2 0h1m2 0h1m5 0h2m1 0h1m5 0h1m6 0h1m11 0h1m1 0h1m8 0h1m5 0h2m-79 1h1m11 0h1m1 0h1m2 0h1m1 0h3m1 0h1m1 0h1m4 0h1m5 0h1m9 0h2m1 0h3m19 0h1m1 0h4m2 0h2m-73 1h1m10 0h1m2 0h1m6 0h2m1 0h1m3 0h1m1 0h1m2 0h1m1 0h1m8 0h1m17 0h1m6 0h1m-73 1h1m3 0h1m5 0h1m5 0h1m1 0h1m4 0h1m3 0h1m3 0h1m3 0h1m3 0h1m1 0h2m1 0h1m7 0h1m2 0h1m4 0h1m4 0h1m1 0h1m-69 1h1m1 0h1m3 0h1m2 0h1m3 0h2m3 0h1m4 0h1m2 0h1m1 0h1m3 0h1m4 0h1m2 0h1m7 0h1m1 0h2m4 0h1m7 0h1m1 0h1m7 0h1m3 0h1m-79 1h2m5 0h1m3 0h1m2 0h1m3 0h1m7 0h1m1 0h1m1 0h2m2 0h1m2 0h1m1 0h1m2 0h3m1 0h1m9 0h1m11 0h3m7 0h2m-71 1h2m7 0h1m10 0h1m1 0h1m1 0h2m5 0h1m3 0h1m20 0h2m6 0h1m1 0h4m-93 1h2m36 0h2m1 0h2m1 0h1m1 0h2m1 0h1m3 0h1m1 0h2m1 0h2m2 0h2m18 0h1m1 0h1m1 0h1m1 0h1m1 0h1m6 0h1m-97 1h1m8 0h2m16 0h1m8 0h1m3 0h1m3 0h1m2 0h1m1 0h1m7 0h2m4 0h2m12 0h1m4 0h1m1 0h1m2 0h1m1 0h1m6 0h1m7 0h1m-94 1h1m15 0h2m3 0h2m2 0h1m6 0h1m1 0h1m1 0h1m2 0h1m1 0h2m6 0h1m3 0h1m2 0h1m7 0h1m12 0h1m5 0h3m6 0h1m-113 1h1m19 0h1m17 0h1m2 0h1m1 0h2m1 0h1m1 0h1m3 0h1m1 0h1m1 0h1m3 0h1m9 0h2m1 0h1m17 0h1m4 0h1m1 0h2m-99 1h1m1 0h1m16 0h2m3 0h1m16 0h1m1 0h1m2 0h1m1 0h1m2 0h1m3 0h1m1 0h2m28 0h1m3 0h1m6 0h1m18 0h1m-117 1h2m18 0h2m2 0h3m9 0h1m9 0h1m3 0h1m1 0h1m3 0h1m6 0h4m4 0h1m1 0h1m6 0h1m5 0h1m1 0h1m5 0h2m1 0h1m-78 1h1m3 0h1m9 0h2m1 0h2m9 0h2m2 0h2m3 0h2m9 0h1m1 0h1m5 0h4m9 0h2m1 0h2m12 0h1m-86 1h1m5 0h3m2 0h2m3 0h1m7 0h3m1 0h1m3 0h1m5 0h2m4 0h1m1 0h2m2 0h1m8 0h3m4 0h1m1 0h1m4 0h1m2 0h1m1 0h2m6 0h1m-90 1h1m7 0h1m2 0h1m3 0h1m4 0h1m2 0h2m4 0h1m12 0h2m7 0h2m2 0h1m15 0h1m1 0h2m1 0h1m2 0h1m1 0h1m3 0h1m4 0h1m-92 1h1m7 0h1m1 0h2m7 0h1m1 0h1m2 0h1m5 0h1m1 0h2m4 0h1m6 0h1m1 0h2m1 0h2m7 0h1m3 0h1m1 0h2m8 0h1m1 0h2m8 0h1m3 0h1m-86 1h2m10 0h2m3 0h1m2 0h2m1 0h1m5 0h1m3 0h1m5 0h1m3 0h1m-45 1h1m2 0h1m1 0h2m3 0h1m1 0h1m2 0h3m2 0h1m2 0h4m2 0h2m4 0h1m8 0h2m1 0h3m4 0h2m1 0h1m1 0h2m9 0h1m2 0h2m-72 1h1m1 0h1m3 0h3m4 0h1m2 0h1m5 0h1m5 0h1m9 0h1m1 0h1m1 0h2m10 0h1m8 0h1m1 0h2m4 0h1m2 0h2m-76 1h1m19 0h1m1 0h1m4 0h1m1 0h1m7 0h1m5 0h1m3 0h1m3 0h1m11 0h1m4 0h4m1 0h1m1 0h1m-72 1h1m14 0h1m1 0h2m5 0h1m1 0h1m7 0h1m3 0h2m3 0h1m1 0h3m4 0h1m4 0h1m1 0h2m3 0h1m3 0h1m3 0h1m-93 1h1m19 0h2m13 0h2m18 0h1m3 0h1m1 0h1m15 0h1m3 0h1m4 0h1m2 0h1m-91 1h1m20 0h1m10 0h1m17 0h1m1 0h1m2 0h1m3 0h2m1 0h1m1 0h2m1 0h1m1 0h1m4 0h1m1 0h1m3 0h1m3 0h3m2 0h2m15 0h1m-102 1h1m39 0h1m5 0h1m3 0h1m1 0h2m3 0h1m10 0h1m2 0h1m1 0h1m4 0h1m3 0h1m18 0h2m-103 1h1m32 0h1m5 0h1m6 0h2m3 0h1m12 0h2m1 0h1m1 0h2m2 0h2m1 0h1m5 0h2m-61 1h1m9 0h1m1 0h2m3 0h3m4 0h2m11 0h1m2 0h1m3 0h1m8 0h1m1 0h1m2 0h1m-71 1h1m12 0h1m6 0h2m2 0h1m1 0h1m1 0h1m18 0h2m13 0h1m2 0h1m1 0h1m3 0h2m-61 1h1m11 0h1m1 0h1m1 0h1m5 0h1m5 0h1m4 0h2m3 0h1m2 0h3m3 0h1m3 0h1m1 0h1m1 0h1m-73 1h1m19 0h1m4 0h2m1 0h1m3 0h1m7 0h2m3 0h2m4 0h3m2 0h1m7 0h1m1 0h1m5 0h2m-55 1h4m4 0h1m13 0h2m1 0h1m2 0h1m3 0h1m2 0h2m2 0h2m2 0h1m2 0h1m3 0h1m2 0h1m2 0h1m-54 1h1m1 0h2m10 0h1m4 0h1m1 0h1m1 0h3m3 0h1m2 0h1m5 0h3m2 0h2m23 0h1m-68 1h1m1 0h1m8 0h3m3 0h2m9 0h1m1 0h2m7 0h1m4 0h1m1 0h1m-45 1h1m9 0h1m7 0h1m3 0h1m4 0h1m3 0h1m1 0h1m1 0h1m2 0h1m1 0h2m-42 1h2m5 0h2m7 0h1m4 0h1m1 0h1m2 0h1m1 0h1m2 0h1m5 0h1m1 0h1m1 0h2m3 0h1m-82 1h1m19 0h1m4 0h1m14 0h1m1 0h1m1 0h1m3 0h2m2 0h1m4 0h4m3 0h2m3 0h1m4 0h2m-83 1h1m33 0h1m10 0h1m1 0h1m3 0h1m3 0h1m1 0h1m1 0h1m8 0h1m5 0h1m3 0h1m5 0h1m1 0h1m1 0h5m-72 1h1m12 0h1m9 0h2m1 0h1m7 0h1m2 0h1m9 0h1m3 0h2m1 0h2m2 0h4m2 0h1m6 0h1m-73 1h2m11 0h1m12 0h2m8 0h2m1 0h1m5 0h1m10 0h2m6 0h2m6 0h1m-46 1h1m2 0h1m6 0h1m1 0h2m5 0h1m5 0h1m1 0h1m2 0h1m8 0h1m3 0h1m1 0h2m-96 1h1m42 0h1m1 0h1m17 0h1m10 0h1m1 0h2m1 0h2m8 0h1m1 0h1m-52 1h2m1 0h3m22 0h2m2 0h1m2 0h1m4 0h1m1 0h1m1 0h2m-58 1h1m10 0h1m1 0h1m27 0h1m5 0h1m1 0h1m4 0h1m1 0h1m1 0h1m4 0h1m7 0h2m-44 1h1m12 0h1m3 0h2m1 0h1m9 0h1m3 0h2m1 0h1m4 0h1m-61 1h2m9 0h1m5 0h2m4 0h1m1 0h1m3 0h2m14 0h1m1 0h2m2 0h1m2 0h1m1 0h1m-57 1h1m3 0h1m17 0h1m1 0h1m4 0h1m9 0h1m6 0h1m3 0h1m4 0h2m-53 1h2m3 0h1m11 0h2m3 0h2m1 0h3m2 0h1m8 0h1m4 0h1m-43 1h1m20 0h1m3 0h4m2 0h3m5 0h1m2 0h1m-53 1h1m9 0h1m11 0h1m11 0h1m3 0h1m2 0h1m1 0h1m1 0h1m4 0h1m-40 1h1m4 0h2m5 0h1m11 0h1m6 0h1m2 0h1m7 0h1m2 0h1m-45 1h1m4 0h1m4 0h1m13 0h2m15 0h1m-43 1h1m9 0h1m9 0h1m4 0h1m2 0h2m1 0h6m1 0h2m1 0h1m-22 1h2m4 0h3m2 0h1m3 0h1m13 0h2m-55 1h2m23 0h1m10 0h2m2 0h2m6 0h1m5 0h1m-54 1h1m27 0h2m1 0h1m4 0h2m1 0h1m1 0h1m-29 1h1m5 0h1m9 0h4m5 0h1m2 0h1m11 0h1m-42 1h2m7 0h3m16 0h2m12 0h1m-23 1h1m8 0h1m-21 1h1m5 0h1m7 0h2m4 0h1m-14 1h1m6 0h1m4 0h2m-25 1h1m14 0h1m11 0h1m-55 1h1m5 0h1m19 0h1m28 0h1m-151 1h1m34 0h1m9 0h1m4 0h4m1 0h2m4 0h2m2 0h3m1 0h4m1 0h2m4 0h3m5 0h3m2 0h3m8 0h1m3 0h1m1 0h3m10 0h2m1 0h1m6 0h2m19 0h1m2 0h1m-105 1h2m1 0h1m5 0h1m2 0h1m1 0h1m1 0h1m1 0h3m1 0h1m4 0h1m1 0h1m5 0h1m1 0h1m2 0h1m2 0h1m5 0h3m3 0h3m1 0h1m10 0h1m1 0h2m6 0h1m1 0h1m18 0h1" stroke="#34365e"/>
<path d="M149 157h1m5 2h1m-16 1h1m14 0h3m-19 1h3m12 0h1m1 0h2m-19 1h6m9 0h4m-29 1h1m10 0h1m1 0h2m1 0h1m5 0h2m1 0h4m-17 1h6m3 0h4m2 0h1m1 0h2m-26 1h2m5 0h7m2 0h2m1 0h1m2 0h3m-24 1h1m8 0h4m2 0h3m3 0h2m-20 1h2m6 0h3m-11 1h1m5 0h2m1 0h1m-11 1h4m2 0h4m-9 1h3m1 0h5m6 0h3m-15 1h3m1 0h2m7 0h1m-14 1h2m3 0h1m-6 1h3m4 0h1m4 2h1m-1 2h1m-11 1h1m-2 1h1m-2 1h1m1 0h1m1 0h1m4 0h2m8 0h2m-23 1h6m1 0h1m4 0h2m3 0h1m3 0h2m-23 1h5m7 0h2m2 0h1m1 0h1m3 0h2m-29 1h2m3 0h2m1 0h1m4 0h4m2 0h1m7 0h1m-19 1h1m3 0h4m2 0h1m-12 1h1m1 0h3m1 0h1m2 0h1m-10 1h3m1 0h2m2 0h1m1 0h1m-13 1h1m2 0h3m1 0h1m1 0h7m-15 1h1m1 0h11m1 0h1m-14 1h4m1 0h3m1 0h2m-10 1h7m2 0h1m-7 1h3m2 0h2m-5 1h6m-15 1h2m3 0h1m4 0h5m-14 1h2m1 0h3m4 0h2m1 0h1m4 0h1m-18 1h1m2 0h3m2 0h4m1 0h1m-14 1h1m2 0h3m1 0h4m1 0h5m-16 1h1m1 0h2m1 0h3m2 0h6m-16 1h5m2 0h6m1 0h2m-21 1h2m3 0h3m2 0h1m1 0h8m-20 1h3m1 0h8m1 0h1m1 0h4m-18 1h12m2 0h1m-14 1h4m1 0h4m1 0h1m1 0h2m-17 1h1m2 0h2m2 0h2m1 0h1m1 0h1m1 0h4m-11 1h5m1 0h1m1 0h2m-21 1h2m4 0h2m3 0h4m2 0h2m1 0h1m10 0h1m-25 1h2m2 0h1m1 0h2m3 0h2m7 0h1m-20 1h2m1 0h2m1 0h2m1 0h3m4 0h5m3 0h1m-25 1h8m1 0h2m6 0h3m-19 1h3m1 0h4m2 0h2m5 0h3m-22 1h9m4 0h1m3 0h2m-19 1h2m2 0h8m4 0h1m-19 1h2m2 0h11m2 0h1m-19 1h3m2 0h7m1 0h3m1 0h3m-23 1h1m1 0h5m2 0h14m-28 1h1m7 0h5m1 0h4m1 0h9m-31 1h2m10 0h3m1 0h1m1 0h4m1 0h3m1 0h6m-21 1h9m1 0h12m3 0h1m-26 1h1m2 0h3m1 0h4m1 0h6m1 0h1m1 0h1m-33 1h1m11 0h10m1 0h7m-26 1h1m2 0h2m3 0h13m1 0h3m-40 1h1m13 0h7m4 0h1m1 0h7m1 0h5m4 0h1m2 0h1m-40 1h1m5 0h2m3 0h4m3 0h5m1 0h9m2 0h2m-40 1h1m7 0h3m2 0h6m1 0h2m1 0h15m1 0h1m-39 1h1m6 0h2m6 0h2m1 0h14m1 0h2m1 0h2m-30 1h2m6 0h4m1 0h6m1 0h6m3 0h1m8 0h1m-38 1h1m6 0h4m2 0h5m1 0h7m1 0h1m8 0h2m-52 1h1m12 0h1m1 0h1m5 0h3m4 0h17m-32 1h2m6 0h2m4 0h8m2 0h1m1 0h2m1 0h3m-44 1h1m11 0h2m11 0h2m1 0h2m1 0h5m6 0h1m1 0h2m-46 1h2m10 0h3m7 0h1m2 0h4m4 0h2m4 0h1m5 0h2m-53 1h1m17 0h3m3 0h1m2 0h5m1 0h1m5 0h3m-44 1h2m18 0h2m3 0h2m1 0h3m1 0h3m4 0h2m1 0h2m-45 1h2m20 0h1m3 0h4m1 0h1m1 0h2m4 0h5m1 0h3m-48 1h3m22 0h2m1 0h4m2 0h2m3 0h12m-50 1h2m8 0h1m8 0h1m3 0h2m1 0h5m2 0h3m2 0h5m1 0h6m-59 1h1m9 0h1m18 0h1m4 0h6m2 0h2m4 0h3m1 0h1m2 0h2m8 0h1m-51 1h1m10 0h1m2 0h1m4 0h2m3 0h1m2 0h3m4 0h4m2 0h2m8 0h1m-54 1h1m13 0h1m7 0h4m2 0h3m1 0h2m4 0h2m2 0h3m-45 1h2m9 0h1m1 0h1m1 0h1m2 0h1m3 0h1m1 0h2m2 0h8m1 0h1m4 0h2m5 0h1m-62 1h1m27 0h3m3 0h3m2 0h3m1 0h4m1 0h1m1 0h1m3 0h1m6 0h1m-35 1h3m4 0h2m4 0h5m1 0h2m1 0h3m2 0h2m1 0h1m2 0h1m-31 1h1m2 0h2m1 0h2m1 0h1m1 0h1m1 0h1m2 0h10m2 0h4m-32 1h1m2 0h3m1 0h4m1 0h1m3 0h2m2 0h2m1 0h2m4 0h3m-34 1h2m4 0h6m1 0h1m1 0h8m1 0h2m6 0h2m-33 1h1m5 0h17m-50 1h1m6 0h1m20 0h1m4 0h1m1 0h11m2 0h2m1 0h1m-53 1h2m26 0h2m5 0h1m1 0h2m1 0h7m2 0h1m1 0h2m-32 1h2m6 0h1m3 0h1m6 0h2m1 0h4m1 0h5m-46 1h1m9 0h2m2 0h3m8 0h2m5 0h4m1 0h7m2 0h3m-39 1h1m4 0h6m5 0h2m3 0h1m1 0h3m1 0h5m1 0h2m2 0h3m-53 1h1m16 0h1m3 0h3m9 0h14m1 0h5m-48 1h1m27 0h8m1 0h1m2 0h1m2 0h2m1 0h1m9 0h1m-57 1h2m23 0h1m1 0h1m2 0h4m2 0h3m5 0h2m-47 1h2m29 0h2m3 0h4m-47 1h3m23 0h1m4 0h2m4 0h2m3 0h4m3 0h1m9 0h1m-59 1h1m11 0h1m3 0h3m6 0h1m4 0h5m1 0h2m3 0h4m1 0h2m9 0h3m-67 1h2m16 0h1m3 0h4m13 0h5m1 0h3m1 0h2m1 0h3m-54 1h2m13 0h1m18 0h1m3 0h2m2 0h3m1 0h2m2 0h3m3 0h2m1 0h1m-60 1h2m13 0h1m10 0h1m7 0h6m2 0h1m2 0h3m2 0h4m3 0h5m-64 1h2m26 0h2m3 0h1m1 0h3m5 0h2m3 0h2m1 0h2m2 0h1m2 0h1m1 0h4m-65 1h2m16 0h1m24 0h3m2 0h3m1 0h2m4 0h1m3 0h3m-48 1h2m24 0h3m1 0h4m1 0h3m3 0h1m-16 1h13m1 0h1m-27 1h2m6 0h1m4 0h1m1 0h8m2 0h4m13 0h1m-35 1h2m2 0h1m3 0h2m1 0h2m5 0h3m-36 1h1m19 0h2m1 0h6m1 0h3m1 0h2m-17 1h6m2 0h6m3 0h1m-16 1h3m4 0h2m6 0h1m6 0h1m-33 1h2m16 0h4m9 0h1m1 0h1m-20 1h1m4 0h4m4 0h2m3 0h1m1 0h1m-62 1h1m10 0h1m22 0h2m4 0h4m3 0h5m6 0h1m-59 1h1m33 0h3m3 0h3m5 0h1m1 0h3m-27 1h2m7 0h3m2 0h1m1 0h1m2 0h2m1 0h2m1 0h4m-29 1h2m7 0h4m4 0h1m3 0h4m2 0h2m-20 1h4m4 0h1m2 0h5m-14 1h1m4 0h1m3 0h2m1 0h1m-14 1h1m3 0h4m2 0h3m8 0h1m-24 1h1m1 0h1m3 0h3m1 0h4m4 0h1m3 0h1m-23 1h1m2 0h1m4 0h2m8 0h2m-17 1h3m1 0h2m5 0h1m2 0h2m-36 1h1m19 0h2m3 0h1m5 0h1m-41 1h1m28 0h2m7 0h2m10 0h1m-22 1h1m8 0h3m4 0h1m-40 1h1m21 0h1m10 0h2m-12 1h1m3 0h1m8 0h2m-3 1h2m-1 1h1m-45 1h1m16 1h2m14 0h1m11 0h2m-29 1h1m14 0h3m1 0h1m6 0h3m-38 1h1m26 0h3m5 0h3m-21 1h1m12 0h2m-16 1h2m20 0h1m2 0h1m-26 1h2m5 0h1m13 0h3m-17 1h1m13 0h3m-13 2h1m-40 1h1m37 0h1m1 0h1m-41 1h1m37 0h5m-4 1h1m1 0h3m-5 1h2m1 0h2m3 0h2m-10 1h2m7 0h1m-9 1h3m-2 1h3m2 0h1m-5 1h2m1 0h3m-5 1h4m-14 1h1m-9 6h1m8 4h1m-74 1h2m3 0h1m7 0h4m3 0h5m3 0h2m3 0h7m2 0h3m5 0h10m4 0h6m2 0h19m-91 1h2m3 0h1m7 0h4m3 0h5m3 0h2m4 0h5m3 0h3m5 0h10m4 0h6m3 0h18" stroke="#4a4b79"/>
<path d="M205 6h1m-143 3h1m23 0h1m108 1h1m-10 6h1m-31 1h1m9 0h1m32 0h1m1 0h1m-36 2h1m6 0h1m2 0h1m16 0h1m-38 1h1m1 0h1m16 0h1m5 0h1m12 0h1m4 0h1m-15 1h1m2 0h1m-37 1h1m22 0h1m29 0h1m-108 1h1m71 0h1m6 0h1m22 0h1m-27 1h1m14 0h1m6 0h1m-43 1h1m4 0h1m45 0h1m7 0h1m-65 1h1m12 0h1m10 0h1m23 0h1m-47 1h1m4 0h1m30 0h1m7 0h1m-50 1h1m21 0h1m2 0h1m12 0h1m5 0h1m2 0h1m8 0h1m-63 1h1m22 0h1m13 0h1m1 0h1m7 0h1m7 0h1m-55 1h1m2 0h1m5 0h1m-29 1h1m14 0h1m25 0h1m21 0h1m2 0h1m-45 1h1m38 0h1m1 0h1m7 0h1m-58 1h1m29 0h1m-44 1h1m9 0h1m6 0h1m2 0h1m42 0h1m1 0h1m14 0h1m-90 1h1m18 0h1m4 0h1m51 0h1m5 0h1m-57 1h1m-23 1h1m5 0h1m10 0h1m3 0h1m-7 1h1m65 0h1m-71 1h1m1 0h1m63 0h1m14 0h1m-212 1h1m123 0h1m13 0h1m60 0h1m-200 1h1m120 0h1m4 0h1m5 0h2m2 0h1m75 0h1m-89 2h1m3 0h1m1 0h1m2 0h1m63 0h1m4 0h1m-77 1h1m79 0h2m-101 1h1m6 0h1m5 0h1m6 0h1m75 0h1m-204 1h1m103 0h1m6 0h1m-112 1h1m199 0h1m1 0h1m-84 1h1m5 0h1m82 0h1m-109 1h1m14 0h1m1 0h1m-118 1h1m112 0h1m90 0h2m-206 2h1m103 0h1m5 0h1m92 0h1m-91 1h1m93 0h1m5 0h1m-125 1h1m10 0h1m2 0h1m95 0h1m3 0h1m-204 1h1m106 1h1m96 0h1m-96 1h1m88 0h1m4 0h1m5 0h1m-210 1h1m89 0h1m17 0h1m-15 1h1m10 0h1m4 0h1m88 0h1m4 0h1m22 0h1m-130 1h1m3 0h1m-103 1h1m199 0h1m1 0h2m6 1h1m-124 1h1m7 0h1m103 0h1m1 0h1m-202 1h1m87 0h1m3 0h2m4 0h1m105 0h1m1 0h1m-9 1h1m-113 1h1m9 0h1m97 0h1m-111 1h1m14 0h1m104 0h1m1 0h1m-207 1h1m88 0h1m4 0h1m1 0h1m101 0h1m1 0h1m1 0h1m-203 1h1m88 0h1m108 0h1m-110 2h1m6 0h1m103 0h1m-119 1h1m10 0h1m102 0h1m1 0h1m1 0h1m-125 1h1m6 0h1m118 0h1m-203 1h1m195 1h1m4 0h1m-122 1h1m4 0h1m117 0h1m6 0h1m-18 1h1m6 0h1m4 0h1m-172 1h1m169 0h1m5 0h1m-211 1h1m75 0h1m6 0h1m1 0h1m114 0h1m-120 1h1m111 0h1m-123 1h1m7 0h1m9 0h1m104 0h1m1 0h1m10 0h1m-153 1h1m-56 1h1m71 0h1m6 0h1m117 0h1m1 0h1m5 0h1m-138 1h1m17 0h1m105 0h1m-193 1h1m56 0h1m13 0h1m1 0h1m115 0h1m20 0h1m-143 1h1m4 0h1m4 0h1m113 0h1m5 0h1m-199 1h1m85 0h1m-87 1h1m66 0h1m4 0h2m124 0h1m-124 1h1m3 0h1m5 0h1m104 0h1m6 0h1m-123 1h1m3 0h1m119 0h1m36 0h1m-164 1h1m3 0h1m3 0h1m109 0h1m-192 1h1m76 0h1m1 0h1m115 0h1m-134 1h1m5 0h1m3 0h1m9 0h1m109 0h1m4 0h1m2 0h1m6 0h1m-132 1h1m127 0h1m-136 1h1m6 0h1m1 0h1m1 0h1m115 0h1m2 0h1m-140 1h1m6 0h1m2 0h1m130 0h1m31 0h1m-234 1h1m58 0h1m5 0h1m10 0h1m2 0h1m-80 1h1m73 0h1m6 0h1m-12 1h1m15 0h2m118 0h2m-131 1h1m4 0h1m111 0h1m3 0h1m-130 1h1m10 0h1m113 0h1m2 0h1m3 0h1m1 0h1m-137 1h1m6 0h1m3 0h1m9 0h1m99 0h1m-145 1h1m27 0h1m20 0h1m92 0h1m3 0h1m9 0h1m-137 1h1m2 0h1m15 0h1m6 0h1m114 0h1m-133 1h1m8 0h1m2 0h2m98 0h1m2 0h1m6 0h1m6 0h1m-142 1h1m15 0h1m14 0h1m2 0h1m91 0h1m12 0h1m-184 1h1m57 0h1m9 0h1m9 0h1m94 0h1m2 0h1m2 0h1m5 0h1m-138 1h1m10 0h1m15 0h1m6 0h1m1 0h1m81 0h1m10 0h1m-105 1h1m1 0h1m1 0h1m1 0h1m95 0h1m-104 1h1m6 0h1m3 0h1m3 0h1m77 0h1m2 0h1m21 0h1m-117 1h1m6 0h1m7 0h1m75 0h1m-82 1h1m96 0h1m-110 1h1m5 0h1m83 0h1m11 0h1m-108 1h1m105 0h1m32 0h1m-120 1h1m5 0h1m66 0h1m29 0h1m-130 1h1m29 0h1m2 0h1m71 0h1m17 0h1m-118 1h1m15 0h1m3 0h1m8 0h1m57 0h1m1 0h2m6 0h1m11 0h1m-114 1h1m16 0h1m8 0h1m2 0h1m6 0h2m52 0h1m7 0h1m1 0h1m16 0h1m-104 1h1m12 0h1m75 0h1m1 0h2m-96 1h1m2 0h1m2 0h1m1 0h1m17 0h1m59 0h1m11 0h1m5 0h1m-114 1h1m6 0h1m21 0h1m13 0h1m1 0h1m44 0h1m27 0h2m-151 1h1m40 0h1m2 0h1m13 0h1m1 0h1m25 0h1m14 0h1m16 0h1m2 0h1m1 0h1m1 0h1m7 0h1m7 0h1m-121 1h1m19 0h1m8 0h1m15 0h1m26 0h1m1 0h1m1 0h1m1 0h1m10 0h1m2 0h1m2 0h1m27 0h1m-102 1h1m4 0h1m9 0h1m16 0h1m34 0h1m15 0h1m8 0h2m9 0h2m-97 1h1m1 0h1m9 0h1m2 0h1m1 0h1m8 0h1m42 0h1m2 0h1m5 0h1m12 0h1m7 0h1m-118 1h1m23 0h1m26 0h1m3 0h1m31 0h1m5 0h1m-79 1h1m1 0h1m72 0h2m21 0h1m-101 1h1m6 0h1m30 0h1m25 0h1m3 0h1m-107 1h1m32 0h1m23 0h1m5 0h1m89 0h1m-142 1h1m16 0h1m14 0h1m5 0h1m19 0h1m33 0h1m8 0h1m-92 1h1m14 0h1m1 0h1m16 0h2m3 0h1m14 0h1m25 0h1m10 0h1m2 0h1m5 0h1m-107 1h1m4 0h1m2 0h1m10 0h1m9 0h1m2 0h1m21 0h1m49 0h1m6 0h1m1 0h1m41 0h1m-153 1h1m15 0h1m16 0h1m1 0h1m7 0h1m3 0h1m10 0h1m6 0h1m1 0h1m24 0h1m1 0h1m8 0h1m9 0h2m8 0h1m2 0h1m15 0h1m-129 1h1m18 0h1m3 0h1m23 0h1m23 0h1m14 0h1m8 0h1m22 0h1m-113 1h1m5 0h1m11 0h1m4 0h1m33 0h1m3 0h1m6 0h1m1 0h1m1 0h1m1 0h1m5 0h1m2 0h1m2 0h1m-78 1h1m53 0h1m12 0h1m5 0h1m7 0h1m26 0h1m-126 1h1m2 0h1m16 0h1m8 0h1m1 0h1m8 0h1m45 0h1m10 0h1m3 0h1m1 0h2m6 0h1m-99 1h1m4 0h1m13 0h1m1 0h1m38 0h1m2 0h1m-83 1h1m13 0h1m17 0h1m1 0h1m12 0h1m13 0h1m3 0h1m6 0h1m2 0h1m8 0h1m6 0h1m9 0h1m-102 1h1m19 0h1m3 0h1m1 0h1m2 0h2m4 0h1m42 0h1m17 0h1m3 0h1m6 0h1m5 0h1m1 0h1m-133 1h1m22 0h1m12 0h1m6 0h1m18 0h1m2 0h1m22 0h1m4 0h1m18 0h1m15 0h1m-105 1h1m1 0h1m27 0h1m15 0h1m1 0h1m1 0h1m29 0h1m16 0h1m-116 1h1m7 0h1m13 0h1m2 0h1m4 0h1m7 0h1m6 0h1m7 0h1m3 0h1m1 0h1m2 0h1m24 0h1m1 0h1m12 0h2m1 0h1m12 0h1m-41 1h1m1 0h1m10 0h1m-76 1h1m14 0h1m1 0h1m5 0h1m1 0h1m20 0h1m7 0h1m1 0h1m2 0h1m7 0h1m1 0h1m1 0h1m20 0h1m25 0h1m-111 1h1m29 0h1m13 0h1m1 0h1m27 0h1m7 0h1m-84 1h1m5 0h1m8 0h1m4 0h1m1 0h2m14 0h1m10 0h1m4 0h1m1 0h1m24 0h1m6 0h1m-111 1h1m39 0h1m7 0h1m4 0h1m11 0h1m13 0h1m12 0h1m-68 1h1m8 0h1m1 0h1m6 0h1m17 0h1m7 0h1m1 0h2m1 0h1m2 0h1m18 0h1m11 0h1m10 0h1m-104 1h1m14 0h1m17 0h1m3 0h1m15 0h1m9 0h1m5 0h1m13 0h1m2 0h1m1 0h1m-115 1h1m35 0h1m7 0h1m26 0h1m10 0h1m8 0h1m5 0h2m6 0h1m1 0h1m16 0h1m-85 1h1m40 0h1m6 0h1m22 0h1m2 0h1m1 0h1m3 0h1m-88 1h1m10 0h1m1 0h2m2 0h1m10 0h1m11 0h1m1 0h1m14 0h1m2 0h1m2 0h1m10 0h1m-65 1h1m8 0h1m1 0h1m16 0h1m9 0h1m3 0h2m26 0h1m-92 1h1m27 0h1m14 0h1m26 0h1m2 0h1m-82 1h1m12 0h1m1 0h1m4 0h1m3 0h1m2 0h1m33 0h1m5 0h2m1 0h1m4 0h1m2 0h1m1 0h1m14 0h1m-76 1h1m11 0h1m14 0h1m3 0h1m39 0h1m-82 1h1m3 0h1m15 0h1m8 0h1m9 0h1m10 0h1m1 0h1m1 0h2m7 0h2m5 0h1m12 0h1m5 0h1m16 0h1m-105 1h1m4 0h1m5 0h1m14 0h1m2 0h1m5 0h1m23 0h1m4 0h1m2 0h1m3 0h1m6 0h1m2 0h1m9 0h1m7 0h1m-91 1h1m12 0h1m8 0h1m22 0h1m14 0h1m9 0h1m-76 1h1m17 0h1m11 0h1m3 0h1m1 0h1m6 0h1m15 0h1m25 0h1m-85 1h1m7 0h1m10 0h1m11 0h1m7 0h1m15 0h1m7 0h1m9 0h1m-46 1h1m34 0h1m14 0h1m22 0h1m-128 1h1m28 0h1m17 0h1m2 0h1m7 0h1m47 0h1m-79 1h1m17 0h1m21 0h2m13 0h1m-69 1h1m55 0h2m7 0h1m45 0h1m-41 1h1m-61 1h1m14 0h1m65 0h1m-16 1h1m-40 1h1m2 0h1m-31 1h1m23 1h1m23 0h1m6 1h1m39 0h1m-70 1h1m6 0h1m5 0h1m-5 1h1m-11 1h1m9 0h1m19 0h1m31 0h1m-41 1h1m43 1h1m-40 3h1m11 7h1m-38 1h1" stroke="#8a5630"/>
<path d="M168 25h1m-2 1h3m-11 1h2m2 0h1m6 0h1m2 0h1m-21 1h1m1 0h2m3 0h2m2 0h1m-13 1h1m5 0h1m-6 1h1m2 0h1m1 0h2m1 0h2m3 0h1m1 0h1m2 0h1m2 0h2m1 0h1m2 0h1m-34 1h2m4 0h1m2 0h1m5 0h1m3 0h1m2 0h1m5 0h1m1 0h1m1 0h1m-42 1h1m7 0h2m1 0h2m1 0h1m1 0h1m4 0h1m9 0h1m6 0h1m3 0h3m6 0h1m12 0h1m-54 1h1m1 0h1m2 0h1m6 0h1m2 0h2m4 0h2m1 0h2m3 0h1m2 0h1m1 0h1m6 0h1m11 0h2m-55 1h1m3 0h1m8 0h1m4 0h1m1 0h1m10 0h1m3 0h2m-56 1h1m16 0h1m2 0h2m20 0h1m8 0h1m4 0h1m7 0h1m-66 1h2m13 0h3m1 0h1m43 0h2m1 0h1m-53 1h1m43 0h1m1 0h2m5 0h3m-62 1h2m51 0h1m6 0h1m-70 1h1m9 0h1m2 0h1m58 0h1m-74 1h1m1 0h1m11 0h1m47 0h1m3 0h2m-55 1h1m50 0h1m2 0h1m-74 1h1m7 0h1m6 0h1m1 0h2m1 0h1m50 0h1m1 0h2m-74 1h1m11 0h2m58 0h1m-72 1h1m11 0h1m1 0h1m54 0h1m1 0h1m3 0h2m-76 1h1m6 0h5m1 0h1m57 0h1m3 0h1m-77 1h1m6 0h1m71 0h1m-81 1h1m4 0h4m3 0h3m56 0h4m-75 1h1m68 0h1m4 0h1m3 0h1m-80 1h1m4 0h4m1 0h1m61 0h4m1 0h3m-81 1h1m2 0h3m73 0h1m-82 1h3m1 0h1m9 0h1m66 0h1m-84 1h2m2 0h1m3 0h1m1 0h1m70 0h3m-95 1h2m8 0h1m5 0h1m73 0h1m1 0h1m-93 1h2m2 0h2m3 0h1m1 0h1m1 0h2m-11 1h1m1 0h1m2 0h1m2 0h1m1 0h2m1 0h1m1 0h1m70 0h4m-87 1h2m2 0h2m1 0h1m72 0h2m1 0h2m-6 1h1m2 0h1m-82 1h2m79 0h2m-84 1h2m2 0h1m77 0h2m2 0h1m-91 1h2m2 0h1m2 0h1m76 0h2m3 0h1m-100 1h1m4 0h1m4 0h1m1 0h2m1 0h1m1 0h1m79 0h2m1 0h1m-101 1h1m3 0h2m2 0h1m2 0h1m1 0h1m1 0h1m77 0h1m4 0h3m-100 1h1m1 0h1m1 0h1m1 0h1m89 0h1m-94 1h1m2 0h1m86 0h5m-95 1h1m2 0h1m1 0h1m81 0h3m4 0h1m-92 1h1m83 0h1m9 0h1m-99 1h1m87 0h1m1 0h1m2 0h1m5 0h1m4 0h1m-108 1h1m90 0h1m1 0h1m3 0h1m-104 1h2m4 0h1m92 0h3m1 0h2m-105 1h2m95 0h1m-93 1h1m88 0h1m7 0h2m-8 1h2m1 0h2m-106 1h3m4 0h1m92 0h1m4 0h2m-5 1h3m-103 1h4m96 0h2m6 0h1m-106 1h1m94 0h1m10 0h1m3 0h1m-115 1h1m3 0h1m95 0h1m1 0h2m5 0h1m12 0h1m-124 1h1m1 0h1m98 0h1m2 0h1m2 0h2m2 0h1m-113 1h1m3 0h2m94 0h1m4 0h1m4 0h2m-198 1h1m86 0h1m2 0h1m95 0h1m4 0h1m5 0h1m1 0h1m-200 1h1m86 0h1m3 0h1m106 0h1m-199 1h1m82 0h1m2 0h2m3 0h1m98 0h2m-111 1h4m4 0h1m1 0h1m96 0h1m2 0h1m-113 1h1m1 0h1m6 0h2m97 0h1m12 0h1m-122 1h1m4 0h2m101 0h1m12 0h1m-121 1h1m3 0h1m3 0h2m100 0h2m7 0h1m-133 1h1m12 0h2m6 0h1m99 0h1m5 0h1m-108 1h1m105 0h3m-112 1h1m2 0h1m100 0h1m4 0h1m-111 1h1m104 0h1m-105 1h1m1 0h1m100 0h1m8 0h3m-114 1h2m100 0h1m-104 1h1m102 0h1m1 0h3m-107 1h2m1 0h1m96 0h1m4 0h1m-107 1h1m102 0h1m3 0h2m1 0h2m-111 1h4m104 0h1m6 0h1m-126 1h1m11 0h1m101 0h1m-3 1h1m1 0h1m-101 1h1m-6 1h1m100 0h2m-104 1h2m4 0h1m96 0h2m-102 1h1m4 0h2m-20 1h1m11 0h2m8 0h1m89 0h1m-91 1h1m-5 1h1m6 0h1m81 0h1m1 0h2m17 0h1m-103 1h3m3 0h1m-8 1h1m81 0h1m-78 1h2m1 0h1m70 0h1m-75 1h1m2 0h1m70 0h1m1 0h2m3 0h1m4 0h1m-82 1h1m62 0h1m1 0h1m1 0h1m3 0h1m8 0h2m-90 1h1m8 0h1m61 0h1m4 0h1m1 0h1m-80 1h1m7 0h2m1 0h1m60 0h1m7 0h1m-72 1h1m2 0h1m6 0h2m53 0h1m-62 1h2m53 0h2m2 0h1m3 0h1m-62 1h2m1 0h2m1 0h1m48 0h1m4 0h2m-63 1h1m1 0h1m44 0h1m1 0h1m2 0h1m1 0h3m-51 1h2m1 0h1m7 0h1m21 0h1m7 0h1m4 0h1m1 0h1m-49 1h1m2 0h2m1 0h1m1 0h1m1 0h1m21 0h1m1 0h1m9 0h1m1 0h1m1 0h2m-48 1h1m1 0h1m1 0h2m2 0h1m2 0h1m29 0h1m1 0h1m3 0h1m9 0h1m-65 1h2m4 0h2m6 0h1m1 0h2m5 0h2m13 0h2m4 0h1m3 0h1m2 0h1m13 0h1m1 0h2m-85 1h1m16 0h2m2 0h2m9 0h1m2 0h2m4 0h2m2 0h2m4 0h2m4 0h2m2 0h1m1 0h1m2 0h1m15 0h1m-84 1h1m17 0h1m5 0h2m7 0h1m15 0h1m7 0h1m4 0h1m3 0h1m-68 1h1m24 0h1m1 0h2m4 0h1m1 0h1m2 0h1m3 0h1m2 0h3m-24 1h1m3 0h2m2 0h1m1 0h1m3 0h2m2 0h3m12 0h1m2 0h1m9 0h1m-46 1h1m10 0h1m4 0h1m4 0h1m4 0h1m2 0h2m1 0h1m2 0h2m5 0h1m2 0h1m-55 1h2m3 0h1m3 0h1m8 0h1m6 0h1m2 0h1m6 0h2m9 0h1m2 0h2m1 0h2m1 0h1m-56 1h1m3 0h2m2 0h2m3 0h2m4 0h2m4 0h1m7 0h1m2 0h1m5 0h1m2 0h2m1 0h1m2 0h1m4 0h1m-56 1h1m4 0h2m5 0h1m7 0h1m2 0h1m7 0h4m2 0h3m1 0h2m11 0h3m-65 1h2m3 0h3m5 0h1m5 0h1m2 0h1m3 0h2m6 0h1m1 0h2m1 0h1m5 0h1m2 0h1m2 0h2m7 0h1m13 0h2m1 0h2m-79 1h2m16 0h1m1 0h3m3 0h1m5 0h2m1 0h1m3 0h1m1 0h1m1 0h1m2 0h3m3 0h1m8 0h1m2 0h1m9 0h1m3 0h1m-62 1h1m10 0h1m3 0h2m7 0h1m1 0h2m4 0h1m2 0h2m6 0h1m1 0h4m12 0h1m-78 1h1m14 0h1m6 0h1m2 0h1m19 0h3m2 0h1m4 0h1m3 0h1m2 0h1m15 0h2m-81 1h1m20 0h2m5 0h1m1 0h1m11 0h2m2 0h1m1 0h1m3 0h1m1 0h2m5 0h1m-61 1h1m23 0h2m2 0h1m6 0h1m3 0h1m2 0h1m4 0h1m4 0h1m6 0h1m-60 1h1m11 0h2m3 0h3m3 0h1m1 0h1m1 0h1m1 0h2m1 0h1m2 0h2m2 0h2m2 0h2m1 0h1m9 0h1m10 0h1m-69 1h1m5 0h2m5 0h1m4 0h1m2 0h1m1 0h1m4 0h1m3 0h1m1 0h2m5 0h2m1 0h1m1 0h1m11 0h1m-72 1h1m12 0h1m7 0h1m10 0h1m1 0h2m4 0h2m1 0h2m6 0h2m5 0h1m2 0h1m2 0h2m5 0h1m-73 1h1m14 0h1m7 0h2m15 0h1m1 0h1m1 0h1m1 0h4m1 0h2m8 0h3m1 0h1m12 0h1m1 0h1m6 0h1m-72 1h1m18 0h1m1 0h1m7 0h1m4 0h1m4 0h1m19 0h1m3 0h1m1 0h1m4 0h2m-82 1h1m27 0h1m1 0h2m6 0h1m1 0h1m9 0h2m12 0h1m4 0h1m6 0h1m-76 1h2m26 0h1m8 0h2m11 0h1m1 0h1m6 0h2m6 0h3m5 0h1m-76 1h1m15 0h1m8 0h1m19 0h2m2 0h1m2 0h2m3 0h1m1 0h1m10 0h1m4 0h1m-60 1h1m1 0h1m5 0h1m1 0h1m4 0h1m4 0h1m4 0h1m3 0h1m4 0h1m6 0h3m5 0h1m3 0h1m4 0h1m-71 1h1m8 0h1m4 0h1m5 0h2m4 0h1m4 0h1m5 0h1m9 0h1m4 0h1m3 0h1m9 0h2m9 0h1m-79 1h1m19 0h1m2 0h1m4 0h2m8 0h1m10 0h1m18 0h1m8 0h1m-77 1h1m4 0h1m14 0h2m1 0h1m3 0h1m6 0h3m7 0h1m19 0h3m-63 1h2m14 0h1m1 0h2m1 0h1m3 0h1m3 0h1m4 0h1m16 0h2m3 0h4m8 0h2m-68 1h1m1 0h1m4 0h1m9 0h1m4 0h1m1 0h1m23 0h2m5 0h1m7 0h1m3 0h1m-45 1h1m25 0h1m14 0h1m3 0h1m-60 1h1m18 0h1m2 0h2m-36 1h1m11 0h2m1 0h3m6 0h2m7 0h2m13 0h1m3 0h2m-39 1h1m7 0h1m2 0h1m23 0h1m2 0h1m13 0h1m-52 1h1m6 0h2m46 0h1m-51 1h1m4 0h1m-15 1h1m8 0h2m3 0h2m28 0h2m2 0h1m-34 1h1m3 0h1m25 0h1m1 0h2m-40 1h1m9 0h2m2 0h1m-7 2h3m-2 1h1m17 0h1m-25 1h1" stroke="#d2702e"/>
<path d="M154 29h3m-3 1h2m11 0h1m-1 1h2m1 0h3m-17 1h3m12 0h3m3 0h2m-29 1h1m4 0h6m11 0h1m4 0h1m-27 1h1m4 0h5m3 0h2m9 0h2m1 0h1m-27 1h9m1 0h4m2 0h3m3 0h7m-30 1h1m1 0h28m1 0h5m-42 1h2m1 0h6m1 0h32m-45 1h8m1 0h15m1 0h21m-46 1h5m2 0h39m-46 1h2m1 0h2m1 0h38m1 0h2m-46 1h46m1 0h1m-49 1h28m1 0h21m-53 1h2m1 0h50m-54 1h1m1 0h52m-54 1h17m1 0h37m-62 1h2m1 0h1m3 0h33m1 0h23m-63 1h1m5 0h52m1 0h1m-64 1h1m2 0h3m2 0h55m-59 1h59m-63 1h1m2 0h1m2 0h14m1 0h46m-71 1h1m2 0h2m1 0h2m2 0h58m1 0h2m-74 1h3m3 0h5m1 0h62m-73 1h3m1 0h32m1 0h33m2 0h1m-72 1h1m1 0h70m-70 1h63m1 0h1m2 0h2m-73 1h2m1 0h1m1 0h55m1 0h8m-73 1h2m1 0h39m1 0h10m1 0h20m-74 1h4m1 0h1m1 0h68m-75 1h71m1 0h4m-77 1h1m1 0h74m-76 1h72m1 0h2m-84 1h1m8 0h1m1 0h33m1 0h6m1 0h32m-85 1h4m1 0h81m-88 1h1m3 0h81m1 0h1m-88 1h1m5 0h79m-86 1h2m2 0h2m1 0h51m1 0h27m-86 1h2m1 0h47m1 0h22m1 0h13m-88 1h2m1 0h85m3 0h1m-93 1h4m1 0h82m1 0h1m-91 1h88m1 0h2m5 0h2m-98 1h3m1 0h83m2 0h2m-91 1h80m1 0h7m-91 1h67m1 0h24m-99 1h3m3 0h5m1 0h87m-94 1h2m1 0h91m-93 1h2m2 0h87m1 0h1m-93 1h29m1 0h7m1 0h55m-94 1h18m1 0h21m1 0h49m1 0h2m1 0h1m-96 1h2m1 0h91m2 0h2m-98 1h93m3 0h3m-98 1h58m1 0h12m1 0h21m1 0h2m1 0h1m-98 1h74m1 0h22m-98 1h95m-97 1h1m1 0h16m1 0h76m-95 1h35m1 0h6m1 0h54m-96 1h97m-97 1h79m1 0h1m1 0h13m1 0h1m-99 1h58m1 0h41m-101 1h100m-100 1h99m-99 1h53m1 0h7m1 0h36m-99 1h1m1 0h10m1 0h87m-100 1h98m-96 1h96m-99 1h1m3 0h34m1 0h61m-97 1h69m1 0h30m-100 1h3m1 0h15m1 0h80m-99 1h2m1 0h92m-95 1h4m1 0h77m1 0h12m-95 1h75m1 0h18m-93 1h1m1 0h89m1 0h2m-90 1h27m1 0h39m1 0h22m-89 1h4m1 0h5m1 0h29m1 0h41m1 0h1m1 0h3m-86 1h4m1 0h77m1 0h2m-82 1h79m-78 1h2m3 0h62m1 0h5m1 0h4m-77 1h2m3 0h70m1 0h1m-73 1h48m1 0h15m1 0h4m2 0h2m-72 1h9m1 0h54m2 0h1m-66 1h1m1 0h3m1 0h22m1 0h27m2 0h3m2 0h1m-62 1h2m2 0h2m2 0h1m1 0h4m1 0h44m3 0h3m-64 1h5m1 0h2m1 0h39m1 0h5m1 0h3m2 0h4m-63 1h5m2 0h2m2 0h43m2 0h3m2 0h1m-59 1h1m4 0h7m1 0h33m1 0h3m4 0h1m-50 1h3m1 0h35m1 0h4m-46 1h2m1 0h6m2 0h3m1 0h1m1 0h16m1 0h3m1 0h2m5 0h1m-41 1h1m2 0h2m2 0h3m1 0h13m1 0h2m3 0h2m1 0h1m6 0h1m-37 1h1m4 0h6m1 0h3m1 0h2m1 0h4m3 0h1m1 0h5m-28 1h4m1 0h4m1 0h2m2 0h4m2 0h1m1 0h3m1 0h3m-28 1h1m6 0h3m1 0h6m3 0h1m1 0h1m3 0h2m-21 1h1m3 0h3m5 0h1m6 0h1m-21 1h1m1 0h1m-4 1h1m11 1h2m-22 1h1m9 0h1m10 0h1m-22 1h2m8 0h2m14 0h1m-17 1h2m-2 1h2m-17 1h1m16 0h1m3 1h1m-16 1h1m14 0h1m-16 1h3m-10 4h1m8 0h1m-20 7h1m-1 1h1m5 8h1m7 0h2" stroke="#ff6600"/>
<path d="M177 0h1m17 0h1m-24 1h1m8 0h1m-8 2h1m2 0h1m19 0h1m3 0h1m-16 1h1m16 0h1m-8 1h1m-8 1h1m2 0h1m6 0h1m-31 1h2m6 0h1m16 0h1m-30 1h1m9 0h1m10 0h1m14 0h1m-40 1h1m16 0h1m8 0h1m2 0h1m1 0h1m-19 1h1m26 0h1m-37 1h1m4 0h1m18 0h1m13 0h1m-37 1h1m2 0h1m1 0h1m-11 1h1m20 0h1m4 0h1m9 0h1m-48 1h1m24 0h1m1 0h1m-17 1h1m3 0h1m3 0h1m2 0h1m-19 1h1m31 0h1m-45 1h1m11 0h1m4 0h1m3 0h1m17 0h1m6 0h1m5 0h1m7 0h1m-34 1h1m30 0h1m-27 1h1m3 0h1m1 0h1m4 0h1m23 0h1m-47 1h1m3 0h1m1 0h1m2 0h1m11 0h1m6 0h1m3 0h1m-36 1h1m-5 1h1m9 0h1m4 0h1m23 0h1m-23 1h2m4 0h1m5 0h1m6 0h1m7 0h1m-44 1h1m31 0h1m-26 1h1m15 0h1m4 0h1m1 0h1m-17 1h1m10 0h1m6 0h1m-19 2h1m-9 1h1m8 0h1m9 0h1m-4 1h2m2 0h1m-26 1h1m13 0h1m3 0h1m-4 2h1m4 0h1m-9 1h1m1 0h1m-5 8h1m-4 40h1m4 5h1m-1 12h1m-8 1h1m26 21h1m-16 9h1m-11 3h1m-11 2h1m9 3h1m2 0h1m-22 2h1m10 0h1m7 0h1m-7 1h1m1 0h1m3 0h1m13 0h1m-16 3h1m9 0h1m13 0h1m-25 1h1m9 0h1m-14 1h1m-9 1h1m12 0h1m8 0h1m-15 1h1m-4 1h1m1 0h1m2 0h1m-2 2h1m10 0h1m-10 1h1m1 0h1m4 0h1m-3 1h1m2 0h1m-19 2h1m14 0h1m3 0h1m-5 2h1m2 0h1m6 0h1m-21 1h1m21 0h1m-20 1h1m11 0h1m-15 1h1m4 0h1m1 0h1m-11 1h1m-2 1h1m2 0h1m6 0h1m-8 1h1m5 0h1m7 0h1m-12 1h1m6 0h1m10 0h1m-6 1h1m-18 1h1m3 0h1m5 0h1m6 0h1m-21 1h1m-8 1h1m8 0h1m10 0h1m8 0h1m-25 2h1m14 0h2m3 1h1m-16 1h1m10 0h1m-11 2h1m8 0h1m9 0h1m-23 2h1m1 0h1m3 0h1m28 0h1m-35 2h1m6 0h1m3 0h1m9 0h2m-19 1h1m4 0h1m1 1h1m4 0h2m-28 1h1m15 0h1m6 0h1m7 0h1m-32 1h1m3 0h1m16 1h1m-16 1h1m-1 1h1m17 0h1m-11 1h1m7 1h1m-10 1h1m18 0h2m-25 1h1m1 0h1m12 1h1m-15 1h1m12 0h1m3 0h1m11 0h1m-45 2h1m21 0h1m9 0h1m-18 1h1m1 0h1m1 0h1m12 0h1m-35 2h1m34 0h1m-6 1h2m1 0h1m6 0h1m-26 1h1m4 0h1m2 0h1m-6 1h1m19 0h1m-24 1h1m1 0h1m4 0h1m4 0h2m6 0h1m1 0h1m-10 2h1m3 0h1m2 0h1m7 0h1m5 0h1m-38 1h1m12 0h1m4 0h1m-12 1h1m2 1h1m6 0h1m1 0h1m-21 1h1m13 1h1m-16 1h1m12 0h1m9 0h1m1 0h1m-17 1h2m4 0h1m15 0h1m-20 1h1m6 0h1m-21 1h1m0 1h1m14 0h1m4 0h1m-18 1h1m20 0h2m4 0h1m-22 1h1m22 0h1m-18 1h1m1 0h1m1 0h1m1 0h1m2 0h1m-12 1h1m3 1h1m1 0h2m2 0h1m-20 1h1m7 0h1m1 0h1m-9 1h1m1 0h1m1 0h1m5 0h1m3 0h1m1 0h1m-20 1h1m9 0h1m3 0h1m-3 1h1m-12 1h1m13 0h1m1 0h1m2 0h1m1 0h1m-17 2h1m5 1h1m3 0h1m-1 1h1m3 0h1m1 0h1m-4 1h1m-14 1h1m4 0h1m3 0h1m5 0h1m10 0h1m-24 1h1m-19 1h1m4 0h1m4 0h1m10 0h1m6 0h1m1 0h1m23 0h1m-42 1h1m3 0h1m14 0h1m-30 1h1m15 0h1m-7 1h1m5 0h1m1 0h1m2 1h2m-5 1h1m-12 1h1m1 0h1m4 0h1m1 0h1m8 0h1m7 0h1m-27 1h1m4 0h1m13 0h1m-28 1h1m17 0h1m4 0h1m-21 1h1m6 0h1m3 0h1m6 0h1m-14 1h1m5 0h1m12 0h1m4 0h1m-29 1h1m11 0h1m9 0h1m5 0h1m4 0h2m-9 1h1m-14 3h1m-13 1h2m4 0h2m4 0h1m1 0h1m4 1h1m5 0h1m-19 1h1m3 0h1m5 0h1m2 0h1m2 0h1m-19 1h1m7 1h1m16 1h1m-15 1h1m4 0h1m9 1h1m-16 1h1m-3 1h1m8 0h1m-14 2h2m16 0h1m10 0h1m-26 1h1m-7 1h1m1 0h1m1 1h1m1 0h1m3 0h1m-12 1h2m1 1h1m2 1h1m15 0h2m-16 1h1m1 0h1m2 0h1m4 0h1m-14 2h1m9 1h1m-12 1h1m12 0h1m-18 1h1m7 0h1m4 0h1m-8 2h1m16 0h1m-24 1h1m3 0h1m-3 1h1m1 0h1m9 0h1m4 0h1m-13 1h1m1 2h1m4 1h1m6 0h1m-27 2h1m17 0h1m-18 1h1m17 1h1m-11 1h2m6 1h1m-10 2h1m9 0h1m-9 5h1m16 0h1m-4 1h1m-12 6h1m8 1h1m-13 5h1m-3 2h1m0 2h1m-7 2h1m21 4h1m-21 1h1m5 4h1m39 0h1m15 0h1m13 0h1m-62 1h1m13 0h1m5 0h1m12 0h1m1 0h1m2 0h1m8 0h1" stroke="#1a1a78"/>
<path d="M183 3h1m-4 1h3m1 0h1m11 0h1m-17 1h1m4 0h1m-8 1h1m2 0h1m-3 1h3m2 0h1m-2 1h2m-17 1h2m13 0h2m-16 1h1m6 0h2m2 0h2m1 0h1m6 0h1m-14 1h1m3 0h1m-16 1h1m14 0h1m10 0h1m-26 1h1m14 0h1m8 0h2m-12 1h2m1 0h1m-8 1h1m1 0h1m3 0h2m-18 1h1m3 0h1m5 0h1m1 0h1m-14 1h1m5 0h1m3 0h2m1 0h2m-2 1h1m4 3h1m5 0h2m5 0h1m-15 1h2m4 0h2m-24 1h1m14 0h1m-16 1h1m2 0h1m-2 1h3m18 0h1m-15 1h2m-1 1h1m-11 129h2m-2 1h1m-1 3h1m-3 1h2m-3 1h2m-1 1h1m2 2h1m-6 1h2m3 0h3m-11 1h1m2 0h1m3 0h1m1 0h1m-8 2h1m2 0h4m10 0h1m-18 1h2m1 0h1m3 0h1m8 0h1m-14 1h1m1 0h1m1 0h1m7 0h1m-12 1h1m1 0h1m-4 1h1m2 0h3m-6 1h1m-1 1h1m3 0h1m-2 1h1m1 0h1m-2 1h1m-2 2h1m-7 1h2m0 1h1m4 0h1m-7 1h2m3 0h1m1 0h1m-8 1h1m2 0h1m2 0h1m-6 1h2m1 0h1m5 0h1m-10 1h1m2 0h1m1 0h1m1 0h2m-7 1h2m1 0h2m-2 1h1m-4 1h1m2 0h1m-4 1h1m1 0h1m-3 1h1m3 0h1m-4 1h3m1 0h1m-2 1h1m-2 1h1m-3 1h1m1 0h2m-9 1h1m3 0h2m1 0h1m-9 1h1m5 0h1m2 0h1m-11 1h1m6 0h1m1 0h2m-12 1h1m7 2h2m-3 1h2m-5 1h3m-4 1h1m2 0h2m10 5h1m-9 3h1m0 1h1m-1 1h1m-5 1h2m3 0h1m-12 1h1m5 0h1m-8 1h2m15 2h1m-13 2h1m0 1h1m0 2h1m5 0h1m-8 1h1m1 0h1m-5 1h2m1 4h1m10 0h1m-7 1h2m-1 1h1m8 4h2m-2 1h1m-13 10h2m0 1h1m-1 71h3m4 0h3m1 0h3m2 0h1m4 0h2m3 0h4m1 0h1m1 0h2m10 0h1m3 0h2m4 0h2m1 0h1m2 0h3m-64 1h1m1 0h3m3 0h1m2 0h1m1 0h1m2 0h3m2 0h2m4 0h1m2 0h6m3 0h1m5 0h2m2 0h1m6 0h3m2 0h1m1 0h1" stroke="#1c1c9c"/>
<path d="M167 168h2m-6 13h1m4 4h1m-2 2h1m-1 1h2" stroke="#0a0af0"/></g>
<path d="M888.0 2291.6V2291.4H890.0V2290.9H892.0V2290.4H894.0V2289.9H896.0V2289.4H898.0V2288.9H900.0V2288.4H902.0V2287.9H904.0V2287.6H906.0V2287.3H908.0V2287.0H910.0V2286.7H912.0V2286.4H914.0V2286.1H916.0V2285.8H918.0V2285.5H920.0V2285.2H922.0V2284.9H924.0V2284.6H926.0V2284.3H928.0V2283.9H930.0V2282.3H932.0V2278.3H934.0V2274.3H936.0V2269.7H938.0V2265.1H940.0V2259.7H942.0V2253.2H944.0V2245.9H946.0V2235.4H948.0V2224.1H950.0V2212.5H952.0V2197.8H954.0V2189.8H956.0V2172.9H958.0V2157.4H960.0V2141.0H962.0V2138.5H964.0V2123.5H966.0V2110.2H968.0V2106.6H970.0V2080.2H972.0V2071.8H974.0V2069.3H976.0V2055.9H978.0V2043.2H980.0V2038.1H982.0V2018.8H984.0V2013.8H986.0V2012.2H988.0V1999.8H990.0V1973.7H992.0V2003.7H994.0V1994.6H996.0V1990.5H998.0V1997.2H1000.0V1996.8H1002.0V1983.6H1004.0V1977.3H1006.0V1975.8H1008.0V1984.9H1010.0V1988.8H1012.0V1992.9H1014.0V1979.6H1016.0V1980.4H1018.0V1969.8H1020.0V1988.2H1022.0V1967.1H1024.0V1973.5H1026.0V1980.9H1028.0V1976.1H1030.0V1975.3H1032.0V2006.6H1034.0V1981.0H1036.0V2015.6H1038.0V2037.2H1040.0V2028.1H1042.0V2053.4H1044.0V2074.7H1046.0V2085.2H1048.0V2106.2H1050.0V2120.4H1052.0V2129.1H1054.0V2140.6H1056.0V2155.5H1058.0V2168.2H1060.0V2171.0H1062.0V2180.1H1064.0V2184.2H1066.0V2192.7H1068.0V2200.3H1070.0V2210.8H1072.0V2219.6H1074.0V2226.9H1076.0V2232.9H1078.0V2240.9H1080.0V2246.8H1082.0V2252.5H1084.0V2256.5H1086.0V2260.0H1088.0V2264.4H1090.0V2267.6H1092.0V2269.5H1094.0V2271.6H1096.0V2273.9H1098.0V2277.5H1100.0V2281.0H1102.0V2284.5H1104.0V2288.0H1106.0V2289.8H1108.0V2291.6H1110.0V2291.6Z" fill="#a5a6be"/>
<path d="M888.0 2291.6V2291.4H890.0V2290.9H892.0V2290.4H894.0V2289.9H896.0V2289.5H898.0V2289.0H900.0V2288.5H902.0V2288.1H904.0V2287.8H906.0V2287.5H908.0V2287.2H910.0V2286.9H912.0V2286.6H914.0V2286.3H916.0V2286.0H918.0V2285.7H920.0V2285.4H922.0V2285.1H924.0V2284.8H926.0V2284.5H928.0V2284.2H930.0V2282.6H932.0V2278.7H934.0V2274.9H936.0V2270.5H938.0V2265.7H940.0V2261.4H942.0V2254.6H944.0V2247.3H946.0V2237.6H948.0V2228.3H950.0V2219.4H952.0V2204.7H954.0V2190.3H956.0V2187.7H958.0V2175.0H960.0V2158.1H962.0V2145.1H964.0V2138.9H966.0V2138.9H968.0V2121.9H970.0V2101.4H972.0V2110.7H974.0V2083.4H976.0V2096.6H978.0V2085.6H980.0V2064.8H982.0V2063.2H984.0V2078.7H986.0V2028.7H988.0V2036.0H990.0V2017.8H992.0V2060.1H994.0V2014.6H996.0V2035.2H998.0V1996.7H1000.0V2053.4H1002.0V2046.7H1004.0V2036.0H1006.0V2051.2H1008.0V2015.4H1010.0V2019.6H1012.0V2069.0H1014.0V2035.5H1016.0V2014.2H1018.0V2017.9H1020.0V2044.0H1022.0V2023.7H1024.0V2026.5H1026.0V2036.9H1028.0V2028.9H1030.0V2051.1H1032.0V2021.5H1034.0V2051.3H1036.0V2036.7H1038.0V2100.5H1040.0V2080.1H1042.0V2086.3H1044.0V2094.7H1046.0V2113.7H1048.0V2112.9H1050.0V2132.2H1052.0V2143.9H1054.0V2148.7H1056.0V2160.0H1058.0V2172.8H1060.0V2180.7H1062.0V2186.1H1064.0V2190.3H1066.0V2198.8H1068.0V2208.5H1070.0V2214.0H1072.0V2223.7H1074.0V2229.8H1076.0V2236.3H1078.0V2242.5H1080.0V2249.2H1082.0V2253.9H1084.0V2257.1H1086.0V2261.7H1088.0V2265.4H1090.0V2268.2H1092.0V2270.3H1094.0V2272.2H1096.0V2274.5H1098.0V2277.9H1100.0V2281.3H1102.0V2284.7H1104.0V2288.1H1106.0V2289.9H1108.0V2291.6H1110.0V2291.6Z" fill="#d1865e"/>
<path d="M1057.3 2291.6V2172.8H1060.0V2180.7H1062.0V2186.1H1064.0V2190.3H1066.0V2198.8H1068.0V2208.5H1070.0V2214.0H1072.0V2223.7H1074.0V2229.8H1076.0V2236.3H1078.0V2242.5H1080.0V2249.2H1082.0V2253.9H1084.0V2257.1H1086.0V2261.7H1088.0V2265.4H1090.0V2268.2H1092.0V2270.3H1094.0V2272.2H1096.0V2274.5H1098.0V2277.9H1100.0V2281.3H1102.0V2284.7H1104.0V2288.1H1106.0V2289.9H1108.0V2291.6H1110.0V2291.6Z" fill="#b2665d"/>
<path d="M888.0 2291.6V2291.4H890.0V2290.9H892.0V2290.4H894.0V2289.9H896.0V2289.4H898.0V2288.9H900.0V2288.4H902.0V2287.9H904.0V2287.6H906.0V2287.3H908.0V2287.0H910.0V2286.7H912.0V2286.4H914.0V2286.1H916.0V2285.8H918.0V2285.5H920.0V2285.2H922.0V2284.9H924.0V2284.6H926.0V2284.3H928.0V2283.9H930.0V2282.3H932.0V2278.3H934.0V2274.3H936.0V2269.7H938.0V2265.1H940.0V2259.7H942.0V2253.2H944.0V2245.9H946.0V2235.4H948.0V2224.1H950.0V2212.5H952.0V2197.8H954.0V2189.8H956.0V2172.9H958.0V2157.4H960.0V2141.0H962.0V2138.5H964.0V2123.5H966.0V2110.2H968.0V2106.6H970.0V2080.2H972.0V2071.8H974.0V2069.3H976.0V2055.9H978.0V2043.2H980.0V2038.1H982.0V2018.8H984.0V2013.8H986.0V2012.2H988.0V1999.8H990.0V1973.7H992.0V2003.7H994.0V1994.6H996.0V1990.5H998.0V1997.2H1000.0V1996.8H1002.0V1983.6H1004.0V1977.3H1006.0V1975.8H1008.0V1984.9H1010.0V1988.8H1012.0V1992.9H1014.0V1979.6H1016.0V1980.4H1018.0V1969.8H1020.0V1988.2H1022.0V1967.1H1024.0V1973.5H1026.0V1980.9H1028.0V1976.1H1030.0V1975.3H1032.0V2006.6H1034.0V1981.0H1036.0V2015.6H1038.0V2037.2H1040.0V2028.1H1042.0V2053.4H1044.0V2074.7H1046.0V2085.2H1048.0V2106.2H1050.0V2120.4H1052.0V2129.1H1054.0V2140.6H1056.0V2155.5H1058.0V2168.2H1060.0V2171.0H1062.0V2180.1H1064.0V2184.2H1066.0V2192.7H1068.0V2200.3H1070.0V2210.8H1072.0V2219.6H1074.0V2226.9H1076.0V2232.9H1078.0V2240.9H1080.0V2246.8H1082.0V2252.5H1084.0V2256.5H1086.0V2260.0H1088.0V2264.4H1090.0V2267.6H1092.0V2269.5H1094.0V2271.6H1096.0V2273.9H1098.0V2277.5H1100.0V2281.0H1102.0V2284.5H1104.0V2288.0H1106.0V2289.8H1108.0V2291.6H1110.0V2291.6" fill="none" stroke="#373764" stroke-width="1.4"/>
<path d="M888.0 2291.6V2291.4H890.0V2290.9H892.0V2290.4H894.0V2289.9H896.0V2289.5H898.0V2289.0H900.0V2288.5H902.0V2288.1H904.0V2287.8H906.0V2287.5H908.0V2287.2H910.0V2286.9H912.0V2286.6H914.0V2286.3H916.0V2286.0H918.0V2285.7H920.0V2285.4H922.0V2285.1H924.0V2284.8H926.0V2284.5H928.0V2284.2H930.0V2282.6H932.0V2278.7H934.0V2274.9H936.0V2270.5H938.0V2265.7H940.0V2261.4H942.0V2254.6H944.0V2247.3H946.0V2237.6H948.0V2228.3H950.0V2219.4H952.0V2204.7H954.0V2190.3H956.0V2187.7H958.0V2175.0H960.0V2158.1H962.0V2145.1H964.0V2138.9H966.0V2138.9H968.0V2121.9H970.0V2101.4H972.0V2110.7H974.0V2083.4H976.0V2096.6H978.0V2085.6H980.0V2064.8H982.0V2063.2H984.0V2078.7H986.0V2028.7H988.0V2036.0H990.0V2017.8H992.0V2060.1H994.0V2014.6H996.0V2035.2H998.0V1996.7H1000.0V2053.4H1002.0V2046.7H1004.0V2036.0H1006.0V2051.2H1008.0V2015.4H1010.0V2019.6H1012.0V2069.0H1014.0V2035.5H1016.0V2014.2H1018.0V2017.9H1020.0V2044.0H1022.0V2023.7H1024.0V2026.5H1026.0V2036.9H1028.0V2028.9H1030.0V2051.1H1032.0V2021.5H1034.0V2051.3H1036.0V2036.7H1038.0V2100.5H1040.0V2080.1H1042.0V2086.3H1044.0V2094.7H1046.0V2113.7H1048.0V2112.9H1050.0V2132.2H1052.0V2143.9H1054.0V2148.7H1056.0V2160.0H1058.0V2172.8H1060.0V2180.7H1062.0V2186.1H1064.0V2190.3H1066.0V2198.8H1068.0V2208.5H1070.0V2214.0H1072.0V2223.7H1074.0V2229.8H1076.0V2236.3H1078.0V2242.5H1080.0V2249.2H1082.0V2253.9H1084.0V2257.1H1086.0V2261.7H1088.0V2265.4H1090.0V2268.2H1092.0V2270.3H1094.0V2272.2H1096.0V2274.5H1098.0V2277.9H1100.0V2281.3H1102.0V2284.7H1104.0V2288.1H1106.0V2289.9H1108.0V2291.6H1110.0V2291.6" fill="none" stroke="#ff6e14" stroke-width="1.2"/>
<path d="M1057.3 2291.6V2161.9" stroke="#8c3c50" stroke-width="1.3"/>
<g opacity="0.999">
<path d="M103 66H568V530H103ZM103 530V543M130.02 530V539.5M145.83 530V539.5M157.04 530V539.5M165.74 530V539.5M172.85 530V539.5M178.86 530V539.5M184.06 530V539.5M188.65 530V539.5M192.76 530V543M219.78 530V539.5M235.59 530V539.5M246.8 530V539.5M255.5 530V539.5M262.61 530V539.5M268.62 530V539.5M273.82 530V539.5M278.41 530V539.5M282.52 530V543M309.54 530V539.5M325.35 530V539.5M336.56 530V539.5M345.26 530V539.5M352.37 530V539.5M358.38 530V539.5M363.58 530V539.5M368.17 530V539.5M372.28 530V543M399.3 530V539.5M415.11 530V539.5M426.32 530V539.5M435.02 530V539.5M442.13 530V539.5M448.14 530V539.5M453.34 530V539.5M457.93 530V539.5M462.04 530V543M489.06 530V539.5M504.87 530V539.5M516.08 530V539.5M524.78 530V539.5M531.89 530V539.5M537.9 530V539.5M543.1 530V539.5M547.69 530V539.5M551.8 530V543M568 530V543M103 530H90M103 495.08H94M103 474.65H94M103 460.16H94M103 448.92H94M103 439.73H94M103 431.97H94M103 425.24H94M103 419.31H94M103 414H90M103 379.08H94M103 358.65H94M103 344.16H94M103 332.92H94M103 323.73H94M103 315.97H94M103 309.24H94M103 303.31H94M103 298H90M103 263.08H94M103 242.65H94M103 228.16H94M103 216.92H94M103 207.73H94M103 199.97H94M103 193.24H94M103 187.31H94M103 182H90M103 147.08H94M103 126.65H94M103 112.16H94M103 100.92H94M103 91.73H94M103 83.97H94M103 77.24H94M103 71.31H94M103 66H90" stroke="#000" stroke-width="2" fill="none"/>
<path d="M333.4 66V530M103 304H568" stroke="#000" stroke-width="2" fill="none"/>
<text x="267.43" y="54.5" font-family="Liberation Sans" font-size="24.8" font-weight="normal" fill="#000" stroke="#fff" stroke-width="0.3" textLength="107.39" lengthAdjust="spacingAndGlyphs">Test1 : P1</text>
<text x="110.71" y="96.7" font-family="Liberation Sans" font-size="24.8" font-weight="normal" fill="#000" stroke="#fff" stroke-width="0.3" textLength="155.69" lengthAdjust="spacingAndGlyphs">Q1-UL(0.75%)</text>
<text x="401.22" y="96.7" font-family="Liberation Sans" font-size="24.8" font-weight="normal" fill="#000" stroke="#fff" stroke-width="0.3" textLength="159.7" lengthAdjust="spacingAndGlyphs">Q1-UR(1.19%)</text>
<text x="110.91" y="517.7" font-family="Liberation Sans" font-size="24.8" font-weight="normal" fill="#000" stroke="#fff" stroke-width="0.3" textLength="165.12" lengthAdjust="spacingAndGlyphs">Q1-LL(94.88%)</text>
<text x="405.6" y="517.5" font-family="Liberation Sans" font-size="24.8" font-weight="normal" fill="#000" stroke="#fff" stroke-width="0.3" textLength="155.69" lengthAdjust="spacingAndGlyphs">Q1-LR(3.18%)</text>
<text x="250.61" y="601.8" font-family="Liberation Sans" font-size="24.8" font-weight="normal" fill="#000" stroke="#fff" stroke-width="0.3" textLength="166.46" lengthAdjust="spacingAndGlyphs">Annexin FITC-A</text>
<text transform="rotate(-90 48 376.46)" x="48" y="376.46" font-family="Liberation Sans" font-size="24.8" fill="#000" stroke="#fff" stroke-width="0.15" textLength="156.74" lengthAdjust="spacingAndGlyphs">7AAD PC5.5-A</text>
<text x="86.7" y="571.8" font-family="Liberation Sans" font-size="26" font-weight="normal" fill="#000" stroke="#fff" stroke-width="0.3" textLength="26.7" lengthAdjust="spacingAndGlyphs">10</text>
<text x="113.41" y="561.1" font-family="Liberation Sans" font-size="18.3" font-weight="normal" fill="#000" stroke="#fff" stroke-width="0.23" textLength="9.9" lengthAdjust="spacingAndGlyphs">2</text>
<text x="176.46" y="571.8" font-family="Liberation Sans" font-size="26" font-weight="normal" fill="#000" stroke="#fff" stroke-width="0.3" textLength="26.7" lengthAdjust="spacingAndGlyphs">10</text>
<text x="203.38" y="561.1" font-family="Liberation Sans" font-size="18.3" font-weight="normal" fill="#000" stroke="#fff" stroke-width="0.23" textLength="9.48" lengthAdjust="spacingAndGlyphs">3</text>
<text x="266.22" y="571.8" font-family="Liberation Sans" font-size="26" font-weight="normal" fill="#000" stroke="#fff" stroke-width="0.3" textLength="26.7" lengthAdjust="spacingAndGlyphs">10</text>
<text x="293.5" y="561.1" font-family="Liberation Sans" font-size="18.3" font-weight="normal" fill="#000" stroke="#fff" stroke-width="0.23" textLength="8.92" lengthAdjust="spacingAndGlyphs">4</text>
<text x="355.98" y="571.8" font-family="Liberation Sans" font-size="26" font-weight="normal" fill="#000" stroke="#fff" stroke-width="0.3" textLength="26.7" lengthAdjust="spacingAndGlyphs">10</text>
<text x="382.9" y="561.1" font-family="Liberation Sans" font-size="18.3" font-weight="normal" fill="#000" stroke="#fff" stroke-width="0.23" textLength="9.48" lengthAdjust="spacingAndGlyphs">5</text>
<text x="445.74" y="571.8" font-family="Liberation Sans" font-size="26" font-weight="normal" fill="#000" stroke="#fff" stroke-width="0.3" textLength="26.7" lengthAdjust="spacingAndGlyphs">10</text>
<text x="472.47" y="561.1" font-family="Liberation Sans" font-size="18.3" font-weight="normal" fill="#000" stroke="#fff" stroke-width="0.23" textLength="9.69" lengthAdjust="spacingAndGlyphs">6</text>
<text x="535.5" y="571.8" font-family="Liberation Sans" font-size="26" font-weight="normal" fill="#000" stroke="#fff" stroke-width="0.3" textLength="26.7" lengthAdjust="spacingAndGlyphs">10</text>
<text x="562.21" y="561.1" font-family="Liberation Sans" font-size="18.3" font-weight="normal" fill="#000" stroke="#fff" stroke-width="0.23" textLength="9.9" lengthAdjust="spacingAndGlyphs">7</text>
<text transform="rotate(-90 79.8 544.75)" x="79.8" y="544.75" font-family="Liberation Sans" font-size="26" fill="#000" stroke="#fff" stroke-width="0.15" textLength="26.03" lengthAdjust="spacingAndGlyphs">10</text>
<text transform="rotate(-90 68 518.92)" x="68" y="518.92" font-family="Liberation Sans" font-size="18.3" fill="#000" stroke="#fff" stroke-width="0.11" textLength="10.27" lengthAdjust="spacingAndGlyphs">2</text>
<text transform="rotate(-90 79.8 429.95)" x="79.8" y="429.95" font-family="Liberation Sans" font-size="26" fill="#000" stroke="#fff" stroke-width="0.15" textLength="26.03" lengthAdjust="spacingAndGlyphs">10</text>
<text transform="rotate(-90 68 403.91)" x="68" y="403.91" font-family="Liberation Sans" font-size="18.3" fill="#000" stroke="#fff" stroke-width="0.11" textLength="9.84" lengthAdjust="spacingAndGlyphs">3</text>
<text transform="rotate(-90 79.8 313.95)" x="79.8" y="313.95" font-family="Liberation Sans" font-size="26" fill="#000" stroke="#fff" stroke-width="0.15" textLength="26.03" lengthAdjust="spacingAndGlyphs">10</text>
<text transform="rotate(-90 68 287.53)" x="68" y="287.53" font-family="Liberation Sans" font-size="18.3" fill="#000" stroke="#fff" stroke-width="0.11" textLength="9.25" lengthAdjust="spacingAndGlyphs">4</text>
<text transform="rotate(-90 79.8 197.95)" x="79.8" y="197.95" font-family="Liberation Sans" font-size="26" fill="#000" stroke="#fff" stroke-width="0.15" textLength="26.03" lengthAdjust="spacingAndGlyphs">10</text>
<text transform="rotate(-90 68 171.91)" x="68" y="171.91" font-family="Liberation Sans" font-size="18.3" fill="#000" stroke="#fff" stroke-width="0.11" textLength="9.84" lengthAdjust="spacingAndGlyphs">5</text>
<text transform="rotate(-90 79.8 81.95)" x="79.8" y="81.95" font-family="Liberation Sans" font-size="26" fill="#000" stroke="#fff" stroke-width="0.15" textLength="26.03" lengthAdjust="spacingAndGlyphs">10</text>
<text transform="rotate(-90 68 56.1)" x="68" y="56.1" font-family="Liberation Sans" font-size="18.3" fill="#000" stroke="#fff" stroke-width="0.11" textLength="10.05" lengthAdjust="spacingAndGlyphs">6</text>
<path d="M102.6 652.1H582.7V1030H102.6ZM102.6 1030V1040.6M130.55 1030V1037.4M146.9 1030V1037.4M158.5 1030V1037.4M167.49 1030V1037.4M174.84 1030V1037.4M181.06 1030V1037.4M186.44 1030V1037.4M191.19 1030V1037.4M195.44 1030V1040.6M223.39 1030V1037.4M239.74 1030V1037.4M251.34 1030V1037.4M260.33 1030V1037.4M267.68 1030V1037.4M273.9 1030V1037.4M279.28 1030V1037.4M284.03 1030V1037.4M288.28 1030V1040.6M316.23 1030V1037.4M332.58 1030V1037.4M344.18 1030V1037.4M353.17 1030V1037.4M360.52 1030V1037.4M366.74 1030V1037.4M372.12 1030V1037.4M376.87 1030V1037.4M381.12 1030V1040.6M409.07 1030V1037.4M425.42 1030V1037.4M437.02 1030V1037.4M446.01 1030V1037.4M453.36 1030V1037.4M459.58 1030V1037.4M464.96 1030V1037.4M469.71 1030V1037.4M473.96 1030V1040.6M501.91 1030V1037.4M518.26 1030V1037.4M529.86 1030V1037.4M538.85 1030V1037.4M546.2 1030V1037.4M552.42 1030V1037.4M557.8 1030V1037.4M562.55 1030V1037.4M566.8 1030V1040.6M582.7 1030V1040.6M102.6 1030H95.2M102.6 1006.62H95.2M102.6 983.24H95.2M102.6 959.86H95.2M102.6 936.48H95.2M102.6 913.1H95.2M102.6 889.72H95.2M102.6 866.34H95.2M102.6 842.96H95.2M102.6 819.58H95.2M102.6 796.2H95.2M102.6 772.82H95.2M102.6 749.44H95.2M102.6 726.06H95.2M102.6 702.68H95.2M102.6 679.3H95.2M102.6 655.92H95.2" stroke="#000" stroke-width="1.9" fill="none"/>
<path d="M102.6 1030H91.2M102.6 913.1H91.2M102.6 796.2H91.2M102.6 679.3H91.2" stroke="#000" stroke-width="1.9" fill="none"/>
<text x="283.43" y="642.9" font-family="Liberation Sans" font-size="22.5" font-weight="normal" fill="#000" stroke="#fff" stroke-width="0.28" textLength="92.49" lengthAdjust="spacingAndGlyphs">Test1 : P1</text>
<text x="268.23" y="1091.5" font-family="Liberation Sans" font-size="22.5" font-weight="normal" fill="#000" stroke="#fff" stroke-width="0.28" textLength="144.4" lengthAdjust="spacingAndGlyphs">Annexin FITC-A</text>
<text transform="rotate(-90 55.4 867.75)" x="55.4" y="867.75" font-family="Liberation Sans" font-size="22.5" fill="#000" stroke="#fff" stroke-width="0.14" textLength="55.24" lengthAdjust="spacingAndGlyphs">Count</text>
<text transform="rotate(-90 54.7 715.44)" x="54.7" y="715.44" font-family="Liberation Sans" font-size="21" fill="#000" stroke="#fff" stroke-width="0.13" textLength="7.42" lengthAdjust="spacingAndGlyphs">(</text>
<text transform="rotate(-90 54.7 705.18)" x="54.7" y="705.18" font-family="Liberation Sans" font-size="21" fill="#000" stroke="#fff" stroke-width="0.13" textLength="9.06" lengthAdjust="spacingAndGlyphs">x</text>
<text transform="rotate(-90 54.7 690.26)" x="54.7" y="690.26" font-family="Liberation Sans" font-size="21" fill="#000" stroke="#fff" stroke-width="0.13" textLength="6.39" lengthAdjust="spacingAndGlyphs">1</text>
<text transform="rotate(-90 54.7 678.73)" x="54.7" y="678.73" font-family="Liberation Sans" font-size="21" fill="#000" stroke="#fff" stroke-width="0.13" textLength="10.08" lengthAdjust="spacingAndGlyphs">0</text>
<text transform="rotate(-90 44.2 664.54)" x="44.2" y="664.54" font-family="Liberation Sans" font-size="15" fill="#000" stroke="#fff" stroke-width="0" textLength="4.73" lengthAdjust="spacingAndGlyphs">1</text>
<text transform="rotate(-90 54.7 655.31)" x="54.7" y="655.31" font-family="Liberation Sans" font-size="21" fill="#000" stroke="#fff" stroke-width="0.13" textLength="7.54" lengthAdjust="spacingAndGlyphs">)</text>
<text transform="rotate(-90 82.5 1034.02)" x="82.5" y="1034.02" font-family="Liberation Sans" font-size="22" fill="#000" stroke="#fff" stroke-width="0.14" textLength="10.96" lengthAdjust="spacingAndGlyphs">0</text>
<text transform="rotate(-90 82.5 929.89)" x="82.5" y="929.89" font-family="Liberation Sans" font-size="22" fill="#000" stroke="#fff" stroke-width="0.14" textLength="32.87" lengthAdjust="spacingAndGlyphs">100</text>
<text transform="rotate(-90 82.5 812.75)" x="82.5" y="812.75" font-family="Liberation Sans" font-size="22" fill="#000" stroke="#fff" stroke-width="0.14" textLength="32.87" lengthAdjust="spacingAndGlyphs">200</text>
<text transform="rotate(-90 82.5 695.75)" x="82.5" y="695.75" font-family="Liberation Sans" font-size="22" fill="#000" stroke="#fff" stroke-width="0.14" textLength="32.87" lengthAdjust="spacingAndGlyphs">300</text>
<text x="88.29" y="1065" font-family="Liberation Sans" font-size="21.5" font-weight="normal" fill="#000" stroke="#fff" stroke-width="0.27" textLength="22.36" lengthAdjust="spacingAndGlyphs">10</text>
<text x="111.72" y="1056.4" font-family="Liberation Sans" font-size="16.5" font-weight="normal" fill="#000" stroke="#fff" stroke-width="0" textLength="7.58" lengthAdjust="spacingAndGlyphs">2</text>
<text x="181.13" y="1065" font-family="Liberation Sans" font-size="21.5" font-weight="normal" fill="#000" stroke="#fff" stroke-width="0.27" textLength="22.36" lengthAdjust="spacingAndGlyphs">10</text>
<text x="204.72" y="1056.4" font-family="Liberation Sans" font-size="16.5" font-weight="normal" fill="#000" stroke="#fff" stroke-width="0" textLength="7.26" lengthAdjust="spacingAndGlyphs">3</text>
<text x="273.97" y="1065" font-family="Liberation Sans" font-size="21.5" font-weight="normal" fill="#000" stroke="#fff" stroke-width="0.27" textLength="22.36" lengthAdjust="spacingAndGlyphs">10</text>
<text x="297.83" y="1056.4" font-family="Liberation Sans" font-size="16.5" font-weight="normal" fill="#000" stroke="#fff" stroke-width="0" textLength="6.83" lengthAdjust="spacingAndGlyphs">4</text>
<text x="366.81" y="1065" font-family="Liberation Sans" font-size="21.5" font-weight="normal" fill="#000" stroke="#fff" stroke-width="0.27" textLength="22.36" lengthAdjust="spacingAndGlyphs">10</text>
<text x="390.4" y="1056.4" font-family="Liberation Sans" font-size="16.5" font-weight="normal" fill="#000" stroke="#fff" stroke-width="0" textLength="7.26" lengthAdjust="spacingAndGlyphs">5</text>
<text x="459.65" y="1065" font-family="Liberation Sans" font-size="21.5" font-weight="normal" fill="#000" stroke="#fff" stroke-width="0.27" textLength="22.36" lengthAdjust="spacingAndGlyphs">10</text>
<text x="483.09" y="1056.4" font-family="Liberation Sans" font-size="16.5" font-weight="normal" fill="#000" stroke="#fff" stroke-width="0" textLength="7.42" lengthAdjust="spacingAndGlyphs">6</text>
<text x="552.49" y="1065" font-family="Liberation Sans" font-size="21.5" font-weight="normal" fill="#000" stroke="#fff" stroke-width="0.27" textLength="22.36" lengthAdjust="spacingAndGlyphs">10</text>
<text x="575.92" y="1056.4" font-family="Liberation Sans" font-size="16.5" font-weight="normal" fill="#000" stroke="#fff" stroke-width="0" textLength="7.58" lengthAdjust="spacingAndGlyphs">7</text>
<path d="M352 933.2H548.1M352 921.9V943.6M548.1 921.9V943.6" stroke="#1a1a96" stroke-width="1.4" fill="none"/>
<path d="M352 933.2H548.1M352 921.9V943.6M548.1 921.9V943.6" stroke="#1a1a96" stroke-width="1.4" fill="none"/>
<text x="350.97" y="909.3" font-family="Liberation Sans" font-size="21.2" font-weight="normal" fill="#1c1c8c" stroke="#fff" stroke-width="0.26" textLength="96.39" lengthAdjust="spacingAndGlyphs">P2(0.91%)</text>
<path d="M771.5 49.4H1257.2V535H771.5ZM771.5 535V548.61M799.74 535V544.94M816.25 535V544.94M827.97 535V544.94M837.06 535V544.94M844.49 535V544.94M850.77 535V544.94M856.21 535V544.94M861.01 535V544.94M865.3 535V548.61M893.54 535V544.94M910.05 535V544.94M921.77 535V544.94M930.86 535V544.94M938.29 535V544.94M944.57 535V544.94M950.01 535V544.94M954.81 535V544.94M959.1 535V548.61M987.34 535V544.94M1003.85 535V544.94M1015.57 535V544.94M1024.66 535V544.94M1032.09 535V544.94M1038.37 535V544.94M1043.81 535V544.94M1048.61 535V544.94M1052.9 535V548.61M1081.14 535V544.94M1097.65 535V544.94M1109.37 535V544.94M1118.46 535V544.94M1125.89 535V544.94M1132.17 535V544.94M1137.61 535V544.94M1142.41 535V544.94M1146.7 535V548.61M1174.94 535V544.94M1191.45 535V544.94M1203.17 535V544.94M1212.26 535V544.94M1219.69 535V544.94M1225.97 535V544.94M1231.41 535V544.94M1236.21 535V544.94M1240.5 535V548.61M1257.2 535V548.61M771.5 535H757.89M771.5 498.45H762.08M771.5 477.08H762.08M771.5 461.91H762.08M771.5 450.15H762.08M771.5 440.53H762.08M771.5 432.41H762.08M771.5 425.36H762.08M771.5 419.15H762.08M771.5 413.6H757.89M771.5 377.05H762.08M771.5 355.68H762.08M771.5 340.51H762.08M771.5 328.75H762.08M771.5 319.13H762.08M771.5 311.01H762.08M771.5 303.96H762.08M771.5 297.75H762.08M771.5 292.2H757.89M771.5 255.65H762.08M771.5 234.28H762.08M771.5 219.11H762.08M771.5 207.35H762.08M771.5 197.73H762.08M771.5 189.61H762.08M771.5 182.56H762.08M771.5 176.35H762.08M771.5 170.8H757.89M771.5 134.25H762.08M771.5 112.88H762.08M771.5 97.71H762.08M771.5 85.95H762.08M771.5 76.33H762.08M771.5 68.21H762.08M771.5 61.16H762.08M771.5 54.95H762.08M771.5 49.4H757.89" stroke="#000" stroke-width="1.8" fill="none"/>
<path d="M1012.4 49.4V535M771.5 298.6H1257.2" stroke="#000" stroke-width="1.6" fill="none"/>
<text x="964.24" y="37.36" font-family="Liberation Sans" font-size="25.95" font-weight="normal" fill="#000" stroke="#fff" stroke-width="0.3" textLength="70.23" lengthAdjust="spacingAndGlyphs">C : P1</text>
<text x="779.57" y="81.53" font-family="Liberation Sans" font-size="25.95" font-weight="normal" fill="#000" stroke="#fff" stroke-width="0.3" textLength="177" lengthAdjust="spacingAndGlyphs">Q1-UL(73.93%)</text>
<text x="1068.63" y="81.53" font-family="Liberation Sans" font-size="25.95" font-weight="normal" fill="#000" stroke="#fff" stroke-width="0.3" textLength="181.19" lengthAdjust="spacingAndGlyphs">Q1-UR(13.34%)</text>
<text x="779.78" y="522.13" font-family="Liberation Sans" font-size="25.95" font-weight="normal" fill="#000" stroke="#fff" stroke-width="0.3" textLength="172.8" lengthAdjust="spacingAndGlyphs">Q1-LL(12.02%)</text>
<text x="1087.24" y="521.92" font-family="Liberation Sans" font-size="25.95" font-weight="normal" fill="#000" stroke="#fff" stroke-width="0.3" textLength="162.94" lengthAdjust="spacingAndGlyphs">Q1-LR(0.71%)</text>
<text x="925.98" y="610.14" font-family="Liberation Sans" font-size="25.95" font-weight="normal" fill="#000" stroke="#fff" stroke-width="0.3" textLength="174.21" lengthAdjust="spacingAndGlyphs">Annexin FITC-A</text>
<text transform="rotate(-90 713.94 374.31)" x="713.94" y="374.31" font-family="Liberation Sans" font-size="25.95" fill="#000" stroke="#fff" stroke-width="0.15" textLength="164.03" lengthAdjust="spacingAndGlyphs">7AAD PC5.5-A</text>
<text x="754.44" y="578.75" font-family="Liberation Sans" font-size="27.21" font-weight="normal" fill="#000" stroke="#fff" stroke-width="0.3" textLength="27.94" lengthAdjust="spacingAndGlyphs">10</text>
<text x="782.39" y="567.55" font-family="Liberation Sans" font-size="19.15" font-weight="normal" fill="#000" stroke="#fff" stroke-width="0.24" textLength="10.36" lengthAdjust="spacingAndGlyphs">2</text>
<text x="848.24" y="578.75" font-family="Liberation Sans" font-size="27.21" font-weight="normal" fill="#000" stroke="#fff" stroke-width="0.3" textLength="27.94" lengthAdjust="spacingAndGlyphs">10</text>
<text x="876.41" y="567.55" font-family="Liberation Sans" font-size="19.15" font-weight="normal" fill="#000" stroke="#fff" stroke-width="0.24" textLength="9.93" lengthAdjust="spacingAndGlyphs">3</text>
<text x="942.04" y="578.75" font-family="Liberation Sans" font-size="27.21" font-weight="normal" fill="#000" stroke="#fff" stroke-width="0.3" textLength="27.94" lengthAdjust="spacingAndGlyphs">10</text>
<text x="970.59" y="567.55" font-family="Liberation Sans" font-size="19.15" font-weight="normal" fill="#000" stroke="#fff" stroke-width="0.24" textLength="9.34" lengthAdjust="spacingAndGlyphs">4</text>
<text x="1035.84" y="578.75" font-family="Liberation Sans" font-size="27.21" font-weight="normal" fill="#000" stroke="#fff" stroke-width="0.3" textLength="27.94" lengthAdjust="spacingAndGlyphs">10</text>
<text x="1064.01" y="567.55" font-family="Liberation Sans" font-size="19.15" font-weight="normal" fill="#000" stroke="#fff" stroke-width="0.24" textLength="9.93" lengthAdjust="spacingAndGlyphs">5</text>
<text x="1129.64" y="578.75" font-family="Liberation Sans" font-size="27.21" font-weight="normal" fill="#000" stroke="#fff" stroke-width="0.3" textLength="27.94" lengthAdjust="spacingAndGlyphs">10</text>
<text x="1157.61" y="567.55" font-family="Liberation Sans" font-size="19.15" font-weight="normal" fill="#000" stroke="#fff" stroke-width="0.24" textLength="10.14" lengthAdjust="spacingAndGlyphs">6</text>
<text x="1223.44" y="578.75" font-family="Liberation Sans" font-size="27.21" font-weight="normal" fill="#000" stroke="#fff" stroke-width="0.3" textLength="27.94" lengthAdjust="spacingAndGlyphs">10</text>
<text x="1251.39" y="567.55" font-family="Liberation Sans" font-size="19.15" font-weight="normal" fill="#000" stroke="#fff" stroke-width="0.24" textLength="10.36" lengthAdjust="spacingAndGlyphs">7</text>
<text transform="rotate(-90 747.22 550.44)" x="747.22" y="550.44" font-family="Liberation Sans" font-size="27.21" fill="#000" stroke="#fff" stroke-width="0.15" textLength="27.24" lengthAdjust="spacingAndGlyphs">10</text>
<text transform="rotate(-90 734.87 523.41)" x="734.87" y="523.41" font-family="Liberation Sans" font-size="19.15" fill="#000" stroke="#fff" stroke-width="0.12" textLength="10.75" lengthAdjust="spacingAndGlyphs">2</text>
<text transform="rotate(-90 747.22 430.3)" x="747.22" y="430.3" font-family="Liberation Sans" font-size="27.21" fill="#000" stroke="#fff" stroke-width="0.15" textLength="27.24" lengthAdjust="spacingAndGlyphs">10</text>
<text transform="rotate(-90 734.87 403.04)" x="734.87" y="403.04" font-family="Liberation Sans" font-size="19.15" fill="#000" stroke="#fff" stroke-width="0.12" textLength="10.29" lengthAdjust="spacingAndGlyphs">3</text>
<text transform="rotate(-90 747.22 308.9)" x="747.22" y="308.9" font-family="Liberation Sans" font-size="27.21" fill="#000" stroke="#fff" stroke-width="0.15" textLength="27.24" lengthAdjust="spacingAndGlyphs">10</text>
<text transform="rotate(-90 734.87 281.25)" x="734.87" y="281.25" font-family="Liberation Sans" font-size="19.15" fill="#000" stroke="#fff" stroke-width="0.12" textLength="9.68" lengthAdjust="spacingAndGlyphs">4</text>
<text transform="rotate(-90 747.22 187.5)" x="747.22" y="187.5" font-family="Liberation Sans" font-size="27.21" fill="#000" stroke="#fff" stroke-width="0.15" textLength="27.24" lengthAdjust="spacingAndGlyphs">10</text>
<text transform="rotate(-90 734.87 160.24)" x="734.87" y="160.24" font-family="Liberation Sans" font-size="19.15" fill="#000" stroke="#fff" stroke-width="0.12" textLength="10.29" lengthAdjust="spacingAndGlyphs">5</text>
<text transform="rotate(-90 747.22 66.1)" x="747.22" y="66.1" font-family="Liberation Sans" font-size="27.21" fill="#000" stroke="#fff" stroke-width="0.15" textLength="27.24" lengthAdjust="spacingAndGlyphs">10</text>
<text transform="rotate(-90 734.87 39.04)" x="734.87" y="39.04" font-family="Liberation Sans" font-size="19.15" fill="#000" stroke="#fff" stroke-width="0.12" textLength="10.51" lengthAdjust="spacingAndGlyphs">6</text>
<path d="M787.5 657H1262.6V1030.1H787.5ZM787.5 1030.1V1040.57M815.16 1030.1V1037.41M831.35 1030.1V1037.41M842.83 1030.1V1037.41M851.74 1030.1V1037.41M859.01 1030.1V1037.41M865.16 1030.1V1037.41M870.49 1030.1V1037.41M875.19 1030.1V1037.41M879.4 1030.1V1040.57M907.06 1030.1V1037.41M923.25 1030.1V1037.41M934.73 1030.1V1037.41M943.64 1030.1V1037.41M950.91 1030.1V1037.41M957.06 1030.1V1037.41M962.39 1030.1V1037.41M967.09 1030.1V1037.41M971.3 1030.1V1040.57M998.96 1030.1V1037.41M1015.15 1030.1V1037.41M1026.63 1030.1V1037.41M1035.54 1030.1V1037.41M1042.81 1030.1V1037.41M1048.96 1030.1V1037.41M1054.29 1030.1V1037.41M1058.99 1030.1V1037.41M1063.2 1030.1V1040.57M1090.86 1030.1V1037.41M1107.05 1030.1V1037.41M1118.53 1030.1V1037.41M1127.44 1030.1V1037.41M1134.71 1030.1V1037.41M1140.86 1030.1V1037.41M1146.19 1030.1V1037.41M1150.89 1030.1V1037.41M1155.1 1030.1V1040.57M1182.76 1030.1V1037.41M1198.95 1030.1V1037.41M1210.43 1030.1V1037.41M1219.34 1030.1V1037.41M1226.61 1030.1V1037.41M1232.76 1030.1V1037.41M1238.09 1030.1V1037.41M1242.79 1030.1V1037.41M1247 1030.1V1040.57M1262.6 1030.1V1040.57M787.5 1030.1H780.19M787.5 994.16H780.19M787.5 958.22H780.19M787.5 922.28H780.19M787.5 886.34H780.19M787.5 850.4H780.19M787.5 814.46H780.19M787.5 778.52H780.19M787.5 742.58H780.19M787.5 706.64H780.19M787.5 670.7H780.19" stroke="#000" stroke-width="1.8" fill="none"/>
<path d="M787.5 1030.1H776.24M787.5 850.4H776.24M787.5 670.7H776.24" stroke="#000" stroke-width="1.8" fill="none"/>
<text x="982.82" y="647.92" font-family="Liberation Sans" font-size="22.21" font-weight="normal" fill="#000" stroke="#fff" stroke-width="0.28" textLength="57.07" lengthAdjust="spacingAndGlyphs">C : P1</text>
<text x="951.03" y="1090.82" font-family="Liberation Sans" font-size="22.21" font-weight="normal" fill="#000" stroke="#fff" stroke-width="0.28" textLength="142.57" lengthAdjust="spacingAndGlyphs">Annexin FITC-A</text>
<text transform="rotate(-90 740.9 869.91)" x="740.9" y="869.91" font-family="Liberation Sans" font-size="22.21" fill="#000" stroke="#fff" stroke-width="0.14" textLength="54.54" lengthAdjust="spacingAndGlyphs">Count</text>
<text transform="rotate(-90 740.21 719.53)" x="740.21" y="719.53" font-family="Liberation Sans" font-size="20.73" fill="#000" stroke="#fff" stroke-width="0.13" textLength="7.32" lengthAdjust="spacingAndGlyphs">(</text>
<text transform="rotate(-90 740.21 709.41)" x="740.21" y="709.41" font-family="Liberation Sans" font-size="20.73" fill="#000" stroke="#fff" stroke-width="0.13" textLength="8.95" lengthAdjust="spacingAndGlyphs">x</text>
<text transform="rotate(-90 740.21 694.68)" x="740.21" y="694.68" font-family="Liberation Sans" font-size="20.73" fill="#000" stroke="#fff" stroke-width="0.13" textLength="6.31" lengthAdjust="spacingAndGlyphs">1</text>
<text transform="rotate(-90 740.21 683.29)" x="740.21" y="683.29" font-family="Liberation Sans" font-size="20.73" fill="#000" stroke="#fff" stroke-width="0.13" textLength="9.95" lengthAdjust="spacingAndGlyphs">0</text>
<text transform="rotate(-90 729.84 669.28)" x="729.84" y="669.28" font-family="Liberation Sans" font-size="14.81" fill="#000" stroke="#fff" stroke-width="0" textLength="4.67" lengthAdjust="spacingAndGlyphs">1</text>
<text transform="rotate(-90 740.21 660.17)" x="740.21" y="660.17" font-family="Liberation Sans" font-size="20.73" fill="#000" stroke="#fff" stroke-width="0.13" textLength="7.44" lengthAdjust="spacingAndGlyphs">)</text>
<text transform="rotate(-90 767.66 1034.06)" x="767.66" y="1034.06" font-family="Liberation Sans" font-size="21.72" fill="#000" stroke="#fff" stroke-width="0.14" textLength="10.82" lengthAdjust="spacingAndGlyphs">0</text>
<text transform="rotate(-90 767.66 861.24)" x="767.66" y="861.24" font-family="Liberation Sans" font-size="21.72" fill="#000" stroke="#fff" stroke-width="0.14" textLength="21.63" lengthAdjust="spacingAndGlyphs">50</text>
<text transform="rotate(-90 767.66 687.28)" x="767.66" y="687.28" font-family="Liberation Sans" font-size="21.72" fill="#000" stroke="#fff" stroke-width="0.14" textLength="32.45" lengthAdjust="spacingAndGlyphs">100</text>
<text x="773.37" y="1064.66" font-family="Liberation Sans" font-size="21.23" font-weight="normal" fill="#000" stroke="#fff" stroke-width="0.27" textLength="22.07" lengthAdjust="spacingAndGlyphs">10</text>
<text x="796.5" y="1056.16" font-family="Liberation Sans" font-size="16.29" font-weight="normal" fill="#000" stroke="#fff" stroke-width="0" textLength="7.48" lengthAdjust="spacingAndGlyphs">2</text>
<text x="865.27" y="1064.66" font-family="Liberation Sans" font-size="21.23" font-weight="normal" fill="#000" stroke="#fff" stroke-width="0.27" textLength="22.07" lengthAdjust="spacingAndGlyphs">10</text>
<text x="888.56" y="1056.16" font-family="Liberation Sans" font-size="16.29" font-weight="normal" fill="#000" stroke="#fff" stroke-width="0" textLength="7.17" lengthAdjust="spacingAndGlyphs">3</text>
<text x="957.17" y="1064.66" font-family="Liberation Sans" font-size="21.23" font-weight="normal" fill="#000" stroke="#fff" stroke-width="0.27" textLength="22.07" lengthAdjust="spacingAndGlyphs">10</text>
<text x="980.73" y="1056.16" font-family="Liberation Sans" font-size="16.29" font-weight="normal" fill="#000" stroke="#fff" stroke-width="0" textLength="6.74" lengthAdjust="spacingAndGlyphs">4</text>
<text x="1049.07" y="1064.66" font-family="Liberation Sans" font-size="21.23" font-weight="normal" fill="#000" stroke="#fff" stroke-width="0.27" textLength="22.07" lengthAdjust="spacingAndGlyphs">10</text>
<text x="1072.36" y="1056.16" font-family="Liberation Sans" font-size="16.29" font-weight="normal" fill="#000" stroke="#fff" stroke-width="0" textLength="7.17" lengthAdjust="spacingAndGlyphs">5</text>
<text x="1140.97" y="1064.66" font-family="Liberation Sans" font-size="21.23" font-weight="normal" fill="#000" stroke="#fff" stroke-width="0.27" textLength="22.07" lengthAdjust="spacingAndGlyphs">10</text>
<text x="1164.12" y="1056.16" font-family="Liberation Sans" font-size="16.29" font-weight="normal" fill="#000" stroke="#fff" stroke-width="0" textLength="7.32" lengthAdjust="spacingAndGlyphs">6</text>
<text x="1232.87" y="1064.66" font-family="Liberation Sans" font-size="21.23" font-weight="normal" fill="#000" stroke="#fff" stroke-width="0.27" textLength="22.07" lengthAdjust="spacingAndGlyphs">10</text>
<text x="1256" y="1056.16" font-family="Liberation Sans" font-size="16.29" font-weight="normal" fill="#000" stroke="#fff" stroke-width="0" textLength="7.48" lengthAdjust="spacingAndGlyphs">7</text>
<path d="M1034.2 934H1228.1M1034.2 922.84V944.27M1228.1 922.84V944.27" stroke="#1a1a96" stroke-width="1.4" fill="none"/>
<path d="M1034.2 934H1228.1M1034.2 922.84V944.27M1228.1 922.84V944.27" stroke="#1a1a96" stroke-width="1.4" fill="none"/>
<text x="1033.18" y="910.4" font-family="Liberation Sans" font-size="20.93" font-weight="normal" fill="#1c1c8c" stroke="#fff" stroke-width="0.26" textLength="95.16" lengthAdjust="spacingAndGlyphs">P2(6.98%)</text>
<path d="M111.7 1240H586.2V1714.7H111.7ZM111.7 1714.7V1728M139.29 1714.7V1724.42M155.42 1714.7V1724.42M166.87 1714.7V1724.42M175.75 1714.7V1724.42M183.01 1714.7V1724.42M189.14 1714.7V1724.42M194.46 1714.7V1724.42M199.15 1714.7V1724.42M203.34 1714.7V1728M230.93 1714.7V1724.42M247.06 1714.7V1724.42M258.51 1714.7V1724.42M267.39 1714.7V1724.42M274.65 1714.7V1724.42M280.78 1714.7V1724.42M286.1 1714.7V1724.42M290.79 1714.7V1724.42M294.98 1714.7V1728M322.57 1714.7V1724.42M338.7 1714.7V1724.42M350.15 1714.7V1724.42M359.03 1714.7V1724.42M366.29 1714.7V1724.42M372.42 1714.7V1724.42M377.74 1714.7V1724.42M382.43 1714.7V1724.42M386.62 1714.7V1728M414.21 1714.7V1724.42M430.34 1714.7V1724.42M441.79 1714.7V1724.42M450.67 1714.7V1724.42M457.93 1714.7V1724.42M464.06 1714.7V1724.42M469.38 1714.7V1724.42M474.07 1714.7V1724.42M478.26 1714.7V1728M505.85 1714.7V1724.42M521.98 1714.7V1724.42M533.43 1714.7V1724.42M542.31 1714.7V1724.42M549.57 1714.7V1724.42M555.7 1714.7V1724.42M561.02 1714.7V1724.42M565.71 1714.7V1724.42M569.9 1714.7V1728M586.2 1714.7V1728M111.7 1714.7H98.4M111.7 1678.98H102.49M111.7 1658.08H102.49M111.7 1643.25H102.49M111.7 1631.75H102.49M111.7 1622.35H102.49M111.7 1614.41H102.49M111.7 1607.53H102.49M111.7 1601.46H102.49M111.7 1596.03H98.4M111.7 1560.3H102.49M111.7 1539.4H102.49M111.7 1524.58H102.49M111.7 1513.07H102.49M111.7 1503.68H102.49M111.7 1495.73H102.49M111.7 1488.85H102.49M111.7 1482.78H102.49M111.7 1477.35H98.4M111.7 1441.63H102.49M111.7 1420.73H102.49M111.7 1405.9H102.49M111.7 1394.4H102.49M111.7 1385H102.49M111.7 1377.06H102.49M111.7 1370.18H102.49M111.7 1364.11H102.49M111.7 1358.67H98.4M111.7 1322.95H102.49M111.7 1302.05H102.49M111.7 1287.23H102.49M111.7 1275.72H102.49M111.7 1266.33H102.49M111.7 1258.38H102.49M111.7 1251.5H102.49M111.7 1245.43H102.49M111.7 1240H98.4" stroke="#000" stroke-width="1.8" fill="none"/>
<path d="M346.6 1240V1714.7M111.7 1482.9H586.2" stroke="#000" stroke-width="1.6" fill="none"/>
<text x="299.75" y="1228.23" font-family="Liberation Sans" font-size="25.37" font-weight="normal" fill="#000" stroke="#fff" stroke-width="0.3" textLength="68.66" lengthAdjust="spacingAndGlyphs">R : P1</text>
<text x="119.59" y="1271.41" font-family="Liberation Sans" font-size="25.37" font-weight="normal" fill="#000" stroke="#fff" stroke-width="0.3" textLength="173.03" lengthAdjust="spacingAndGlyphs">Q1-UL(75.05%)</text>
<text x="401.86" y="1271.41" font-family="Liberation Sans" font-size="25.37" font-weight="normal" fill="#000" stroke="#fff" stroke-width="0.3" textLength="177.13" lengthAdjust="spacingAndGlyphs">Q1-UR(15.47%)</text>
<text x="119.8" y="1702.12" font-family="Liberation Sans" font-size="25.37" font-weight="normal" fill="#000" stroke="#fff" stroke-width="0.3" textLength="155.18" lengthAdjust="spacingAndGlyphs">Q1-LL(8.84%)</text>
<text x="420.06" y="1701.91" font-family="Liberation Sans" font-size="25.37" font-weight="normal" fill="#000" stroke="#fff" stroke-width="0.3" textLength="159.28" lengthAdjust="spacingAndGlyphs">Q1-LR(0.64%)</text>
<text x="262.72" y="1788.16" font-family="Liberation Sans" font-size="25.37" font-weight="normal" fill="#000" stroke="#fff" stroke-width="0.3" textLength="170.29" lengthAdjust="spacingAndGlyphs">Annexin FITC-A</text>
<text transform="rotate(-90 55.43 1557.62)" x="55.43" y="1557.62" font-family="Liberation Sans" font-size="25.37" fill="#000" stroke="#fff" stroke-width="0.15" textLength="160.35" lengthAdjust="spacingAndGlyphs">7AAD PC5.5-A</text>
<text x="95.02" y="1757.46" font-family="Liberation Sans" font-size="26.6" font-weight="normal" fill="#000" stroke="#fff" stroke-width="0.3" textLength="27.31" lengthAdjust="spacingAndGlyphs">10</text>
<text x="122.35" y="1746.52" font-family="Liberation Sans" font-size="18.72" font-weight="normal" fill="#000" stroke="#fff" stroke-width="0.23" textLength="10.13" lengthAdjust="spacingAndGlyphs">2</text>
<text x="186.66" y="1757.46" font-family="Liberation Sans" font-size="26.6" font-weight="normal" fill="#000" stroke="#fff" stroke-width="0.3" textLength="27.31" lengthAdjust="spacingAndGlyphs">10</text>
<text x="214.2" y="1746.52" font-family="Liberation Sans" font-size="18.72" font-weight="normal" fill="#000" stroke="#fff" stroke-width="0.23" textLength="9.7" lengthAdjust="spacingAndGlyphs">3</text>
<text x="278.3" y="1757.46" font-family="Liberation Sans" font-size="26.6" font-weight="normal" fill="#000" stroke="#fff" stroke-width="0.3" textLength="27.31" lengthAdjust="spacingAndGlyphs">10</text>
<text x="306.21" y="1746.52" font-family="Liberation Sans" font-size="18.72" font-weight="normal" fill="#000" stroke="#fff" stroke-width="0.23" textLength="9.13" lengthAdjust="spacingAndGlyphs">4</text>
<text x="369.94" y="1757.46" font-family="Liberation Sans" font-size="26.6" font-weight="normal" fill="#000" stroke="#fff" stroke-width="0.3" textLength="27.31" lengthAdjust="spacingAndGlyphs">10</text>
<text x="397.48" y="1746.52" font-family="Liberation Sans" font-size="18.72" font-weight="normal" fill="#000" stroke="#fff" stroke-width="0.23" textLength="9.7" lengthAdjust="spacingAndGlyphs">5</text>
<text x="461.58" y="1757.46" font-family="Liberation Sans" font-size="26.6" font-weight="normal" fill="#000" stroke="#fff" stroke-width="0.3" textLength="27.31" lengthAdjust="spacingAndGlyphs">10</text>
<text x="488.93" y="1746.52" font-family="Liberation Sans" font-size="18.72" font-weight="normal" fill="#000" stroke="#fff" stroke-width="0.23" textLength="9.91" lengthAdjust="spacingAndGlyphs">6</text>
<text x="553.22" y="1757.46" font-family="Liberation Sans" font-size="26.6" font-weight="normal" fill="#000" stroke="#fff" stroke-width="0.3" textLength="27.31" lengthAdjust="spacingAndGlyphs">10</text>
<text x="580.55" y="1746.52" font-family="Liberation Sans" font-size="18.72" font-weight="normal" fill="#000" stroke="#fff" stroke-width="0.23" textLength="10.13" lengthAdjust="spacingAndGlyphs">7</text>
<text transform="rotate(-90 87.97 1729.8)" x="87.97" y="1729.8" font-family="Liberation Sans" font-size="26.6" fill="#000" stroke="#fff" stroke-width="0.15" textLength="26.63" lengthAdjust="spacingAndGlyphs">10</text>
<text transform="rotate(-90 75.89 1703.37)" x="75.89" y="1703.37" font-family="Liberation Sans" font-size="18.72" fill="#000" stroke="#fff" stroke-width="0.12" textLength="10.5" lengthAdjust="spacingAndGlyphs">2</text>
<text transform="rotate(-90 87.97 1612.35)" x="87.97" y="1612.35" font-family="Liberation Sans" font-size="26.6" fill="#000" stroke="#fff" stroke-width="0.15" textLength="26.63" lengthAdjust="spacingAndGlyphs">10</text>
<text transform="rotate(-90 75.89 1585.7)" x="75.89" y="1585.7" font-family="Liberation Sans" font-size="18.72" fill="#000" stroke="#fff" stroke-width="0.12" textLength="10.06" lengthAdjust="spacingAndGlyphs">3</text>
<text transform="rotate(-90 87.97 1493.67)" x="87.97" y="1493.67" font-family="Liberation Sans" font-size="26.6" fill="#000" stroke="#fff" stroke-width="0.15" textLength="26.63" lengthAdjust="spacingAndGlyphs">10</text>
<text transform="rotate(-90 75.89 1466.64)" x="75.89" y="1466.64" font-family="Liberation Sans" font-size="18.72" fill="#000" stroke="#fff" stroke-width="0.12" textLength="9.46" lengthAdjust="spacingAndGlyphs">4</text>
<text transform="rotate(-90 87.97 1375)" x="87.97" y="1375" font-family="Liberation Sans" font-size="26.6" fill="#000" stroke="#fff" stroke-width="0.15" textLength="26.63" lengthAdjust="spacingAndGlyphs">10</text>
<text transform="rotate(-90 75.89 1348.35)" x="75.89" y="1348.35" font-family="Liberation Sans" font-size="18.72" fill="#000" stroke="#fff" stroke-width="0.12" textLength="10.06" lengthAdjust="spacingAndGlyphs">5</text>
<text transform="rotate(-90 87.97 1256.32)" x="87.97" y="1256.32" font-family="Liberation Sans" font-size="26.6" fill="#000" stroke="#fff" stroke-width="0.15" textLength="26.63" lengthAdjust="spacingAndGlyphs">10</text>
<text transform="rotate(-90 75.89 1229.88)" x="75.89" y="1229.88" font-family="Liberation Sans" font-size="18.72" fill="#000" stroke="#fff" stroke-width="0.12" textLength="10.28" lengthAdjust="spacingAndGlyphs">6</text>
<path d="M107.7 1875.2H633.8V2289H107.7ZM107.7 2289V2300.61M138.34 2289V2297.1M156.27 2289V2297.1M168.99 2289V2297.1M178.86 2289V2297.1M186.92 2289V2297.1M193.73 2289V2297.1M199.63 2289V2297.1M204.84 2289V2297.1M209.5 2289V2300.61M240.14 2289V2297.1M258.07 2289V2297.1M270.79 2289V2297.1M280.66 2289V2297.1M288.72 2289V2297.1M295.53 2289V2297.1M301.43 2289V2297.1M306.64 2289V2297.1M311.3 2289V2300.61M341.94 2289V2297.1M359.87 2289V2297.1M372.59 2289V2297.1M382.46 2289V2297.1M390.52 2289V2297.1M397.33 2289V2297.1M403.23 2289V2297.1M408.44 2289V2297.1M413.1 2289V2300.61M443.74 2289V2297.1M461.67 2289V2297.1M474.39 2289V2297.1M484.26 2289V2297.1M492.32 2289V2297.1M499.13 2289V2297.1M505.03 2289V2297.1M510.24 2289V2297.1M514.9 2289V2300.61M545.54 2289V2297.1M563.47 2289V2297.1M576.19 2289V2297.1M586.06 2289V2297.1M594.12 2289V2297.1M600.93 2289V2297.1M606.83 2289V2297.1M612.04 2289V2297.1M616.7 2289V2300.61M633.8 2289V2300.61M107.7 2289H99.6M107.7 2252.05H99.6M107.7 2215.1H99.6M107.7 2178.15H99.6M107.7 2141.2H99.6M107.7 2104.25H99.6M107.7 2067.3H99.6M107.7 2030.35H99.6M107.7 1993.4H99.6M107.7 1956.45H99.6M107.7 1919.5H99.6M107.7 1882.55H99.6" stroke="#000" stroke-width="1.8" fill="none"/>
<path d="M107.7 2289H95.22M107.7 2104.25H95.22M107.7 1919.5H95.22" stroke="#000" stroke-width="1.8" fill="none"/>
<text x="323.99" y="1865.13" font-family="Liberation Sans" font-size="24.64" font-weight="normal" fill="#000" stroke="#fff" stroke-width="0.3" textLength="63.29" lengthAdjust="spacingAndGlyphs">R : P1</text>
<text x="289.07" y="2356.34" font-family="Liberation Sans" font-size="24.64" font-weight="normal" fill="#000" stroke="#fff" stroke-width="0.3" textLength="158.12" lengthAdjust="spacingAndGlyphs">Annexin FITC-A</text>
<text transform="rotate(-90 56.02 2111.33)" x="56.02" y="2111.33" font-family="Liberation Sans" font-size="24.64" fill="#000" stroke="#fff" stroke-width="0.15" textLength="60.49" lengthAdjust="spacingAndGlyphs">Count</text>
<text transform="rotate(-90 55.25 1944.55)" x="55.25" y="1944.55" font-family="Liberation Sans" font-size="22.99" fill="#000" stroke="#fff" stroke-width="0.14" textLength="8.12" lengthAdjust="spacingAndGlyphs">(</text>
<text transform="rotate(-90 55.25 1933.32)" x="55.25" y="1933.32" font-family="Liberation Sans" font-size="22.99" fill="#000" stroke="#fff" stroke-width="0.14" textLength="9.92" lengthAdjust="spacingAndGlyphs">x</text>
<text transform="rotate(-90 55.25 1916.99)" x="55.25" y="1916.99" font-family="Liberation Sans" font-size="22.99" fill="#000" stroke="#fff" stroke-width="0.14" textLength="7" lengthAdjust="spacingAndGlyphs">1</text>
<text transform="rotate(-90 55.25 1904.35)" x="55.25" y="1904.35" font-family="Liberation Sans" font-size="22.99" fill="#000" stroke="#fff" stroke-width="0.14" textLength="11.04" lengthAdjust="spacingAndGlyphs">0</text>
<text transform="rotate(-90 43.75 1888.82)" x="43.75" y="1888.82" font-family="Liberation Sans" font-size="16.42" fill="#000" stroke="#fff" stroke-width="0" textLength="5.18" lengthAdjust="spacingAndGlyphs">1</text>
<text transform="rotate(-90 55.25 1878.72)" x="55.25" y="1878.72" font-family="Liberation Sans" font-size="22.99" fill="#000" stroke="#fff" stroke-width="0.14" textLength="8.26" lengthAdjust="spacingAndGlyphs">)</text>
<text transform="rotate(-90 85.69 2293.4)" x="85.69" y="2293.4" font-family="Liberation Sans" font-size="24.09" fill="#000" stroke="#fff" stroke-width="0.15" textLength="12" lengthAdjust="spacingAndGlyphs">0</text>
<text transform="rotate(-90 85.69 2116.28)" x="85.69" y="2116.28" font-family="Liberation Sans" font-size="24.09" fill="#000" stroke="#fff" stroke-width="0.15" textLength="23.99" lengthAdjust="spacingAndGlyphs">50</text>
<text transform="rotate(-90 85.69 1937.89)" x="85.69" y="1937.89" font-family="Liberation Sans" font-size="24.09" fill="#000" stroke="#fff" stroke-width="0.15" textLength="35.99" lengthAdjust="spacingAndGlyphs">100</text>
<text x="92.03" y="2327.32" font-family="Liberation Sans" font-size="23.54" font-weight="normal" fill="#000" stroke="#fff" stroke-width="0.29" textLength="24.48" lengthAdjust="spacingAndGlyphs">10</text>
<text x="117.68" y="2317.91" font-family="Liberation Sans" font-size="18.07" font-weight="normal" fill="#000" stroke="#fff" stroke-width="0.23" textLength="8.3" lengthAdjust="spacingAndGlyphs">2</text>
<text x="193.83" y="2327.32" font-family="Liberation Sans" font-size="23.54" font-weight="normal" fill="#000" stroke="#fff" stroke-width="0.29" textLength="24.48" lengthAdjust="spacingAndGlyphs">10</text>
<text x="219.66" y="2317.91" font-family="Liberation Sans" font-size="18.07" font-weight="normal" fill="#000" stroke="#fff" stroke-width="0.23" textLength="7.95" lengthAdjust="spacingAndGlyphs">3</text>
<text x="295.63" y="2327.32" font-family="Liberation Sans" font-size="23.54" font-weight="normal" fill="#000" stroke="#fff" stroke-width="0.29" textLength="24.48" lengthAdjust="spacingAndGlyphs">10</text>
<text x="321.76" y="2317.91" font-family="Liberation Sans" font-size="18.07" font-weight="normal" fill="#000" stroke="#fff" stroke-width="0.23" textLength="7.48" lengthAdjust="spacingAndGlyphs">4</text>
<text x="397.43" y="2327.32" font-family="Liberation Sans" font-size="23.54" font-weight="normal" fill="#000" stroke="#fff" stroke-width="0.29" textLength="24.48" lengthAdjust="spacingAndGlyphs">10</text>
<text x="423.26" y="2317.91" font-family="Liberation Sans" font-size="18.07" font-weight="normal" fill="#000" stroke="#fff" stroke-width="0.23" textLength="7.95" lengthAdjust="spacingAndGlyphs">5</text>
<text x="499.23" y="2327.32" font-family="Liberation Sans" font-size="23.54" font-weight="normal" fill="#000" stroke="#fff" stroke-width="0.29" textLength="24.48" lengthAdjust="spacingAndGlyphs">10</text>
<text x="524.9" y="2317.91" font-family="Liberation Sans" font-size="18.07" font-weight="normal" fill="#000" stroke="#fff" stroke-width="0.23" textLength="8.12" lengthAdjust="spacingAndGlyphs">6</text>
<text x="601.03" y="2327.32" font-family="Liberation Sans" font-size="23.54" font-weight="normal" fill="#000" stroke="#fff" stroke-width="0.29" textLength="24.48" lengthAdjust="spacingAndGlyphs">10</text>
<text x="626.68" y="2317.91" font-family="Liberation Sans" font-size="18.07" font-weight="normal" fill="#000" stroke="#fff" stroke-width="0.23" textLength="8.3" lengthAdjust="spacingAndGlyphs">7</text>
<path d="M381.7 2182.6H595.7M381.7 2170.23V2193.99M595.7 2170.23V2193.99" stroke="#1a1a96" stroke-width="1.4" fill="none"/>
<path d="M381.7 2182.6H595.7M381.7 2170.23V2193.99M595.7 2170.23V2193.99" stroke="#1a1a96" stroke-width="1.4" fill="none"/>
<text x="380.57" y="2156.43" font-family="Liberation Sans" font-size="23.21" font-weight="normal" fill="#1c1c8c" stroke="#fff" stroke-width="0.29" textLength="105.54" lengthAdjust="spacingAndGlyphs">P2(8.46%)</text>
<path d="M797 1230.9H1278.8V1712.2H797ZM797 1712.2V1725.68M825.01 1712.2V1722.05M841.39 1712.2V1722.05M853.02 1712.2V1722.05M862.03 1712.2V1722.05M869.4 1712.2V1722.05M875.63 1712.2V1722.05M881.02 1712.2V1722.05M885.78 1712.2V1722.05M890.04 1712.2V1725.68M918.05 1712.2V1722.05M934.43 1712.2V1722.05M946.06 1712.2V1722.05M955.07 1712.2V1722.05M962.44 1712.2V1722.05M968.67 1712.2V1722.05M974.06 1712.2V1722.05M978.82 1712.2V1722.05M983.08 1712.2V1725.68M1011.09 1712.2V1722.05M1027.47 1712.2V1722.05M1039.1 1712.2V1722.05M1048.11 1712.2V1722.05M1055.48 1712.2V1722.05M1061.71 1712.2V1722.05M1067.1 1712.2V1722.05M1071.86 1712.2V1722.05M1076.12 1712.2V1725.68M1104.13 1712.2V1722.05M1120.51 1712.2V1722.05M1132.14 1712.2V1722.05M1141.15 1712.2V1722.05M1148.52 1712.2V1722.05M1154.75 1712.2V1722.05M1160.14 1712.2V1722.05M1164.9 1712.2V1722.05M1169.16 1712.2V1725.68M1197.17 1712.2V1722.05M1213.55 1712.2V1722.05M1225.18 1712.2V1722.05M1234.19 1712.2V1722.05M1241.56 1712.2V1722.05M1247.79 1712.2V1722.05M1253.18 1712.2V1722.05M1257.94 1712.2V1722.05M1262.2 1712.2V1725.68M1278.8 1712.2V1725.68M797 1712.2H783.52M797 1675.98H787.66M797 1654.79H787.66M797 1639.76H787.66M797 1628.1H787.66M797 1618.57H787.66M797 1610.51H787.66M797 1603.54H787.66M797 1597.38H787.66M797 1591.88H783.52M797 1555.65H787.66M797 1534.47H787.66M797 1519.43H787.66M797 1507.77H787.66M797 1498.24H787.66M797 1490.19H787.66M797 1483.21H787.66M797 1477.06H787.66M797 1471.55H783.52M797 1435.33H787.66M797 1414.14H787.66M797 1399.11H787.66M797 1387.45H787.66M797 1377.92H787.66M797 1369.86H787.66M797 1362.89H787.66M797 1356.73H787.66M797 1351.23H783.52M797 1315H787.66M797 1293.82H787.66M797 1278.78H787.66M797 1267.12H787.66M797 1257.59H787.66M797 1249.54H787.66M797 1242.56H787.66M797 1236.41H787.66M797 1230.9H783.52" stroke="#000" stroke-width="1.8" fill="none"/>
<path d="M1035.7 1230.9V1712.2M797 1477.3H1278.8" stroke="#000" stroke-width="1.6" fill="none"/>
<text x="971.69" y="1218.97" font-family="Liberation Sans" font-size="25.72" font-weight="normal" fill="#000" stroke="#fff" stroke-width="0.3" textLength="102.33" lengthAdjust="spacingAndGlyphs">C+R : P1</text>
<text x="805" y="1262.74" font-family="Liberation Sans" font-size="25.72" font-weight="normal" fill="#000" stroke="#fff" stroke-width="0.3" textLength="175.43" lengthAdjust="spacingAndGlyphs">Q1-UL(69.84%)</text>
<text x="1091.9" y="1262.74" font-family="Liberation Sans" font-size="25.72" font-weight="normal" fill="#000" stroke="#fff" stroke-width="0.3" textLength="179.59" lengthAdjust="spacingAndGlyphs">Q1-UR(15.47%)</text>
<text x="805.21" y="1699.44" font-family="Liberation Sans" font-size="25.72" font-weight="normal" fill="#000" stroke="#fff" stroke-width="0.3" textLength="171.27" lengthAdjust="spacingAndGlyphs">Q1-LL(12.51%)</text>
<text x="1110.35" y="1699.23" font-family="Liberation Sans" font-size="25.72" font-weight="normal" fill="#000" stroke="#fff" stroke-width="0.3" textLength="161.5" lengthAdjust="spacingAndGlyphs">Q1-LR(2.18%)</text>
<text x="950.12" y="1786.68" font-family="Liberation Sans" font-size="25.72" font-weight="normal" fill="#000" stroke="#fff" stroke-width="0.3" textLength="172.66" lengthAdjust="spacingAndGlyphs">Annexin FITC-A</text>
<text transform="rotate(-90 739.95 1552.94)" x="739.95" y="1552.94" font-family="Liberation Sans" font-size="25.72" fill="#000" stroke="#fff" stroke-width="0.15" textLength="162.58" lengthAdjust="spacingAndGlyphs">7AAD PC5.5-A</text>
<text x="780.09" y="1755.56" font-family="Liberation Sans" font-size="26.97" font-weight="normal" fill="#000" stroke="#fff" stroke-width="0.3" textLength="27.69" lengthAdjust="spacingAndGlyphs">10</text>
<text x="807.8" y="1744.46" font-family="Liberation Sans" font-size="18.98" font-weight="normal" fill="#000" stroke="#fff" stroke-width="0.24" textLength="10.27" lengthAdjust="spacingAndGlyphs">2</text>
<text x="873.13" y="1755.56" font-family="Liberation Sans" font-size="26.97" font-weight="normal" fill="#000" stroke="#fff" stroke-width="0.3" textLength="27.69" lengthAdjust="spacingAndGlyphs">10</text>
<text x="901.05" y="1744.46" font-family="Liberation Sans" font-size="18.98" font-weight="normal" fill="#000" stroke="#fff" stroke-width="0.24" textLength="9.84" lengthAdjust="spacingAndGlyphs">3</text>
<text x="966.17" y="1755.56" font-family="Liberation Sans" font-size="26.97" font-weight="normal" fill="#000" stroke="#fff" stroke-width="0.3" textLength="27.69" lengthAdjust="spacingAndGlyphs">10</text>
<text x="994.47" y="1744.46" font-family="Liberation Sans" font-size="18.98" font-weight="normal" fill="#000" stroke="#fff" stroke-width="0.24" textLength="9.25" lengthAdjust="spacingAndGlyphs">4</text>
<text x="1059.21" y="1755.56" font-family="Liberation Sans" font-size="26.97" font-weight="normal" fill="#000" stroke="#fff" stroke-width="0.3" textLength="27.69" lengthAdjust="spacingAndGlyphs">10</text>
<text x="1087.13" y="1744.46" font-family="Liberation Sans" font-size="18.98" font-weight="normal" fill="#000" stroke="#fff" stroke-width="0.24" textLength="9.84" lengthAdjust="spacingAndGlyphs">5</text>
<text x="1152.25" y="1755.56" font-family="Liberation Sans" font-size="26.97" font-weight="normal" fill="#000" stroke="#fff" stroke-width="0.3" textLength="27.69" lengthAdjust="spacingAndGlyphs">10</text>
<text x="1179.98" y="1744.46" font-family="Liberation Sans" font-size="18.98" font-weight="normal" fill="#000" stroke="#fff" stroke-width="0.24" textLength="10.05" lengthAdjust="spacingAndGlyphs">6</text>
<text x="1245.29" y="1755.56" font-family="Liberation Sans" font-size="26.97" font-weight="normal" fill="#000" stroke="#fff" stroke-width="0.3" textLength="27.69" lengthAdjust="spacingAndGlyphs">10</text>
<text x="1273" y="1744.46" font-family="Liberation Sans" font-size="18.98" font-weight="normal" fill="#000" stroke="#fff" stroke-width="0.24" textLength="10.27" lengthAdjust="spacingAndGlyphs">7</text>
<text transform="rotate(-90 772.94 1727.51)" x="772.94" y="1727.51" font-family="Liberation Sans" font-size="26.97" fill="#000" stroke="#fff" stroke-width="0.15" textLength="27" lengthAdjust="spacingAndGlyphs">10</text>
<text transform="rotate(-90 760.7 1700.71)" x="760.7" y="1700.71" font-family="Liberation Sans" font-size="18.98" fill="#000" stroke="#fff" stroke-width="0.12" textLength="10.65" lengthAdjust="spacingAndGlyphs">2</text>
<text transform="rotate(-90 772.94 1608.42)" x="772.94" y="1608.42" font-family="Liberation Sans" font-size="26.97" fill="#000" stroke="#fff" stroke-width="0.15" textLength="27" lengthAdjust="spacingAndGlyphs">10</text>
<text transform="rotate(-90 760.7 1581.41)" x="760.7" y="1581.41" font-family="Liberation Sans" font-size="18.98" fill="#000" stroke="#fff" stroke-width="0.12" textLength="10.2" lengthAdjust="spacingAndGlyphs">3</text>
<text transform="rotate(-90 772.94 1488.1)" x="772.94" y="1488.1" font-family="Liberation Sans" font-size="26.97" fill="#000" stroke="#fff" stroke-width="0.15" textLength="27" lengthAdjust="spacingAndGlyphs">10</text>
<text transform="rotate(-90 760.7 1460.69)" x="760.7" y="1460.69" font-family="Liberation Sans" font-size="18.98" fill="#000" stroke="#fff" stroke-width="0.12" textLength="9.6" lengthAdjust="spacingAndGlyphs">4</text>
<text transform="rotate(-90 772.94 1367.77)" x="772.94" y="1367.77" font-family="Liberation Sans" font-size="26.97" fill="#000" stroke="#fff" stroke-width="0.15" textLength="27" lengthAdjust="spacingAndGlyphs">10</text>
<text transform="rotate(-90 760.7 1340.76)" x="760.7" y="1340.76" font-family="Liberation Sans" font-size="18.98" fill="#000" stroke="#fff" stroke-width="0.12" textLength="10.2" lengthAdjust="spacingAndGlyphs">5</text>
<text transform="rotate(-90 772.94 1247.45)" x="772.94" y="1247.45" font-family="Liberation Sans" font-size="26.97" fill="#000" stroke="#fff" stroke-width="0.15" textLength="27" lengthAdjust="spacingAndGlyphs">10</text>
<text transform="rotate(-90 760.7 1220.63)" x="760.7" y="1220.63" font-family="Liberation Sans" font-size="18.98" fill="#000" stroke="#fff" stroke-width="0.12" textLength="10.42" lengthAdjust="spacingAndGlyphs">6</text>
<path d="M783.8 1879.2H1308.4V2291.6H783.8ZM783.8 2291.6V2303.17M814.35 2291.6V2299.68M832.23 2291.6V2299.68M844.91 2291.6V2299.68M854.75 2291.6V2299.68M862.78 2291.6V2299.68M869.58 2291.6V2299.68M875.46 2291.6V2299.68M880.66 2291.6V2299.68M885.3 2291.6V2303.17M915.85 2291.6V2299.68M933.73 2291.6V2299.68M946.41 2291.6V2299.68M956.25 2291.6V2299.68M964.28 2291.6V2299.68M971.08 2291.6V2299.68M976.96 2291.6V2299.68M982.16 2291.6V2299.68M986.8 2291.6V2303.17M1017.35 2291.6V2299.68M1035.23 2291.6V2299.68M1047.91 2291.6V2299.68M1057.75 2291.6V2299.68M1065.78 2291.6V2299.68M1072.58 2291.6V2299.68M1078.46 2291.6V2299.68M1083.66 2291.6V2299.68M1088.3 2291.6V2303.17M1118.85 2291.6V2299.68M1136.73 2291.6V2299.68M1149.41 2291.6V2299.68M1159.25 2291.6V2299.68M1167.28 2291.6V2299.68M1174.08 2291.6V2299.68M1179.96 2291.6V2299.68M1185.16 2291.6V2299.68M1189.8 2291.6V2303.17M1220.35 2291.6V2299.68M1238.23 2291.6V2299.68M1250.91 2291.6V2299.68M1260.75 2291.6V2299.68M1268.78 2291.6V2299.68M1275.58 2291.6V2299.68M1281.46 2291.6V2299.68M1286.66 2291.6V2299.68M1291.3 2291.6V2303.17M1308.4 2291.6V2303.17M783.8 2291.6H775.72M783.8 2243.2H775.72M783.8 2194.8H775.72M783.8 2146.4H775.72M783.8 2098H775.72M783.8 2049.6H775.72M783.8 2001.2H775.72M783.8 1952.8H775.72M783.8 1904.4H775.72" stroke="#000" stroke-width="1.8" fill="none"/>
<path d="M783.8 2291.6H771.36M783.8 2049.6H771.36" stroke="#000" stroke-width="1.8" fill="none"/>
<text x="984.89" y="1869.16" font-family="Liberation Sans" font-size="24.55" font-weight="normal" fill="#000" stroke="#fff" stroke-width="0.3" textLength="92.73" lengthAdjust="spacingAndGlyphs">C+R : P1</text>
<text x="964.55" y="2358.71" font-family="Liberation Sans" font-size="24.55" font-weight="normal" fill="#000" stroke="#fff" stroke-width="0.3" textLength="157.59" lengthAdjust="spacingAndGlyphs">Annexin FITC-A</text>
<text transform="rotate(-90 732.29 2114.54)" x="732.29" y="2114.54" font-family="Liberation Sans" font-size="24.55" fill="#000" stroke="#fff" stroke-width="0.15" textLength="60.28" lengthAdjust="spacingAndGlyphs">Count</text>
<text transform="rotate(-90 761.86 2295.98)" x="761.86" y="2295.98" font-family="Liberation Sans" font-size="24.01" fill="#000" stroke="#fff" stroke-width="0.15" textLength="11.96" lengthAdjust="spacingAndGlyphs">0</text>
<text transform="rotate(-90 761.86 2067.55)" x="761.86" y="2067.55" font-family="Liberation Sans" font-size="24.01" fill="#000" stroke="#fff" stroke-width="0.15" textLength="35.87" lengthAdjust="spacingAndGlyphs">500</text>
<text x="768.19" y="2329.8" font-family="Liberation Sans" font-size="23.46" font-weight="normal" fill="#000" stroke="#fff" stroke-width="0.29" textLength="24.4" lengthAdjust="spacingAndGlyphs">10</text>
<text x="793.75" y="2320.41" font-family="Liberation Sans" font-size="18.01" font-weight="normal" fill="#000" stroke="#fff" stroke-width="0.23" textLength="8.27" lengthAdjust="spacingAndGlyphs">2</text>
<text x="869.69" y="2329.8" font-family="Liberation Sans" font-size="23.46" font-weight="normal" fill="#000" stroke="#fff" stroke-width="0.29" textLength="24.4" lengthAdjust="spacingAndGlyphs">10</text>
<text x="895.42" y="2320.41" font-family="Liberation Sans" font-size="18.01" font-weight="normal" fill="#000" stroke="#fff" stroke-width="0.23" textLength="7.92" lengthAdjust="spacingAndGlyphs">3</text>
<text x="971.19" y="2329.8" font-family="Liberation Sans" font-size="23.46" font-weight="normal" fill="#000" stroke="#fff" stroke-width="0.29" textLength="24.4" lengthAdjust="spacingAndGlyphs">10</text>
<text x="997.23" y="2320.41" font-family="Liberation Sans" font-size="18.01" font-weight="normal" fill="#000" stroke="#fff" stroke-width="0.23" textLength="7.45" lengthAdjust="spacingAndGlyphs">4</text>
<text x="1072.69" y="2329.8" font-family="Liberation Sans" font-size="23.46" font-weight="normal" fill="#000" stroke="#fff" stroke-width="0.29" textLength="24.4" lengthAdjust="spacingAndGlyphs">10</text>
<text x="1098.42" y="2320.41" font-family="Liberation Sans" font-size="18.01" font-weight="normal" fill="#000" stroke="#fff" stroke-width="0.23" textLength="7.92" lengthAdjust="spacingAndGlyphs">5</text>
<text x="1174.19" y="2329.8" font-family="Liberation Sans" font-size="23.46" font-weight="normal" fill="#000" stroke="#fff" stroke-width="0.29" textLength="24.4" lengthAdjust="spacingAndGlyphs">10</text>
<text x="1199.77" y="2320.41" font-family="Liberation Sans" font-size="18.01" font-weight="normal" fill="#000" stroke="#fff" stroke-width="0.23" textLength="8.09" lengthAdjust="spacingAndGlyphs">6</text>
<text x="1275.69" y="2329.8" font-family="Liberation Sans" font-size="23.46" font-weight="normal" fill="#000" stroke="#fff" stroke-width="0.29" textLength="24.4" lengthAdjust="spacingAndGlyphs">10</text>
<text x="1301.25" y="2320.41" font-family="Liberation Sans" font-size="18.01" font-weight="normal" fill="#000" stroke="#fff" stroke-width="0.23" textLength="8.27" lengthAdjust="spacingAndGlyphs">7</text>
<path d="M1057.3 2185.6H1270.3M1057.3 2173.27V2196.95M1270.3 2173.27V2196.95" stroke="#1a1a96" stroke-width="1.4" fill="none"/>
<rect x="1052.3" y="2135.51" width="109.96" height="29.46" fill="#fff"/>
<path d="M1057.3 2185.6H1270.3M1057.3 2173.27V2196.95M1270.3 2173.27V2196.95" stroke="#1a1a96" stroke-width="1.4" fill="none"/>
<text x="1056.17" y="2159.52" font-family="Liberation Sans" font-size="23.14" font-weight="normal" fill="#1c1c8c" stroke="#fff" stroke-width="0.29" textLength="105.18" lengthAdjust="spacingAndGlyphs">P2(9.62%)</text>
</g>
<text x="-0.48" y="28.47" font-family="Liberation Serif" font-size="39.67" font-weight="bold" fill="#000" textLength="48.8" lengthAdjust="spacingAndGlyphs">(a)</text>
<text x="656.82" y="28.47" font-family="Liberation Serif" font-size="39.67" font-weight="bold" fill="#000" textLength="51.15" lengthAdjust="spacingAndGlyphs">(b)</text>
<text x="-0.47" y="1214.09" font-family="Liberation Serif" font-size="39.12" font-weight="bold" fill="#000" textLength="46.14" lengthAdjust="spacingAndGlyphs">(c)</text>
<text x="656.8" y="1214.09" font-family="Liberation Serif" font-size="39.12" font-weight="bold" fill="#000" textLength="51.58" lengthAdjust="spacingAndGlyphs">(d)</text>
</svg></body></html>
